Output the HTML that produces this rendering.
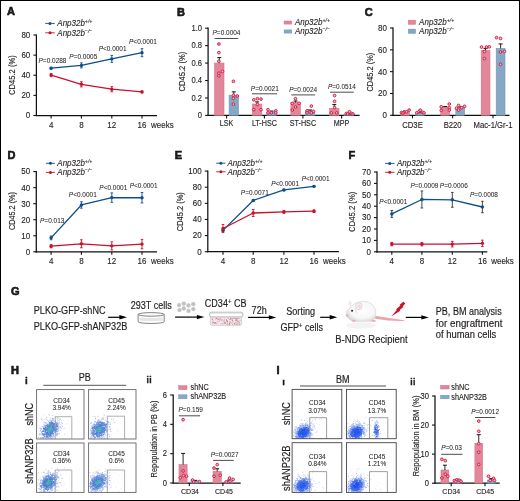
<!DOCTYPE html>
<html><head><meta charset="utf-8"><style>
html,body{margin:0;padding:0;background:#fff;width:520px;height:501px;overflow:hidden}
svg{display:block;will-change:transform}
text{font-family:"Liberation Sans", sans-serif;fill:#231f20;stroke:#231f20;stroke-width:0.13px}
</style></head><body>
<svg width="520" height="501" viewBox="0 0 520 501">
<rect x="0.5" y="0.5" width="519" height="500" fill="#fff" stroke="#000" stroke-width="1"/>
<text x="7.00" y="15.00" font-size="11" font-weight="bold" style="stroke:#000;stroke-width:0.55px" fill="#000">A</text>
<line x1="45.20" y1="23.40" x2="54.80" y2="23.40" stroke="#0d4f8b" stroke-width="0.9" />
<circle cx="50.00" cy="23.40" r="1.5" fill="#0d4f8b"/>
<text transform="translate(57.30,26.30) scale(0.862,1)" font-size="9.28" font-style="italic" style="stroke-width:0.12px">Anp32b<tspan font-size="6.03" dy="-3.2">+/+</tspan></text>
<line x1="45.20" y1="32.80" x2="54.80" y2="32.80" stroke="#c8102e" stroke-width="0.9" />
<circle cx="50.00" cy="32.80" r="1.5" fill="#c8102e"/>
<text transform="translate(57.30,35.70) scale(0.862,1)" font-size="9.28" font-style="italic" style="stroke-width:0.12px">Anp32b<tspan font-size="6.03" dy="-3.2">&#8722;/&#8722;</tspan></text>
<line x1="36.40" y1="34.50" x2="36.40" y2="116.10" stroke="#111" stroke-width="1.25" />
<line x1="33.40" y1="115.50" x2="36.40" y2="115.50" stroke="#111" stroke-width="1.1" />
<text transform="translate(30.30,118.38) scale(0.862,1)" font-size="9.28" text-anchor="end">0</text>
<line x1="33.40" y1="95.38" x2="36.40" y2="95.38" stroke="#111" stroke-width="1.1" />
<text transform="translate(30.30,98.25) scale(0.862,1)" font-size="9.28" text-anchor="end">20</text>
<line x1="33.40" y1="75.25" x2="36.40" y2="75.25" stroke="#111" stroke-width="1.1" />
<text transform="translate(30.30,78.13) scale(0.862,1)" font-size="9.28" text-anchor="end">40</text>
<line x1="33.40" y1="55.12" x2="36.40" y2="55.12" stroke="#111" stroke-width="1.1" />
<text transform="translate(30.30,58.00) scale(0.862,1)" font-size="9.28" text-anchor="end">60</text>
<line x1="33.40" y1="35.00" x2="36.40" y2="35.00" stroke="#111" stroke-width="1.1" />
<text transform="translate(30.30,37.88) scale(0.862,1)" font-size="9.28" text-anchor="end">80</text>
<line x1="35.80" y1="115.50" x2="157.00" y2="115.50" stroke="#111" stroke-width="1.25" />
<line x1="51.10" y1="115.50" x2="51.10" y2="118.50" stroke="#111" stroke-width="1.1" />
<text transform="translate(51.10,127.60) scale(0.862,1)" font-size="9.28" text-anchor="middle">4</text>
<line x1="81.40" y1="115.50" x2="81.40" y2="118.50" stroke="#111" stroke-width="1.1" />
<text transform="translate(81.40,127.60) scale(0.862,1)" font-size="9.28" text-anchor="middle">8</text>
<line x1="111.80" y1="115.50" x2="111.80" y2="118.50" stroke="#111" stroke-width="1.1" />
<text transform="translate(111.80,127.60) scale(0.862,1)" font-size="9.28" text-anchor="middle">12</text>
<line x1="142.00" y1="115.50" x2="142.00" y2="118.50" stroke="#111" stroke-width="1.1" />
<text transform="translate(142.00,127.60) scale(0.862,1)" font-size="9.28" text-anchor="middle">16</text>
<text transform="translate(151.00,127.60) scale(0.862,1)" font-size="9.28">weeks</text>
<text transform="translate(15.00,75.10) rotate(-90) scale(0.862,1)" font-size="8.82" text-anchor="middle">CD45.2 (%)</text>
<polyline points="51.10,68.20 81.40,65.40 111.80,58.90 142.00,52.70" fill="none" stroke="#0d4f8b" stroke-width="1.3" stroke-linejoin="round"/>
<line x1="51.10" y1="67.30" x2="51.10" y2="69.10" stroke="#0d4f8b" stroke-width="0.9" />
<line x1="49.80" y1="67.30" x2="52.40" y2="67.30" stroke="#0d4f8b" stroke-width="0.9" />
<line x1="49.80" y1="69.10" x2="52.40" y2="69.10" stroke="#0d4f8b" stroke-width="0.9" />
<circle cx="51.10" cy="68.20" r="1.7" fill="#0d4f8b"/>
<line x1="81.40" y1="62.90" x2="81.40" y2="67.90" stroke="#0d4f8b" stroke-width="0.9" />
<line x1="80.10" y1="62.90" x2="82.70" y2="62.90" stroke="#0d4f8b" stroke-width="0.9" />
<line x1="80.10" y1="67.90" x2="82.70" y2="67.90" stroke="#0d4f8b" stroke-width="0.9" />
<circle cx="81.40" cy="65.40" r="1.7" fill="#0d4f8b"/>
<line x1="111.80" y1="55.40" x2="111.80" y2="62.40" stroke="#0d4f8b" stroke-width="0.9" />
<line x1="110.50" y1="55.40" x2="113.10" y2="55.40" stroke="#0d4f8b" stroke-width="0.9" />
<line x1="110.50" y1="62.40" x2="113.10" y2="62.40" stroke="#0d4f8b" stroke-width="0.9" />
<circle cx="111.80" cy="58.90" r="1.7" fill="#0d4f8b"/>
<line x1="142.00" y1="48.70" x2="142.00" y2="56.70" stroke="#0d4f8b" stroke-width="0.9" />
<line x1="140.70" y1="48.70" x2="143.30" y2="48.70" stroke="#0d4f8b" stroke-width="0.9" />
<line x1="140.70" y1="56.70" x2="143.30" y2="56.70" stroke="#0d4f8b" stroke-width="0.9" />
<circle cx="142.00" cy="52.70" r="1.7" fill="#0d4f8b"/>
<polyline points="51.10,75.10 81.40,84.30 111.80,89.20 142.00,91.90" fill="none" stroke="#c8102e" stroke-width="1.3" stroke-linejoin="round"/>
<line x1="51.10" y1="73.50" x2="51.10" y2="76.70" stroke="#c8102e" stroke-width="0.9" />
<line x1="49.80" y1="73.50" x2="52.40" y2="73.50" stroke="#c8102e" stroke-width="0.9" />
<line x1="49.80" y1="76.70" x2="52.40" y2="76.70" stroke="#c8102e" stroke-width="0.9" />
<circle cx="51.10" cy="75.10" r="1.7" fill="#c8102e"/>
<line x1="81.40" y1="81.70" x2="81.40" y2="86.90" stroke="#c8102e" stroke-width="0.9" />
<line x1="80.10" y1="81.70" x2="82.70" y2="81.70" stroke="#c8102e" stroke-width="0.9" />
<line x1="80.10" y1="86.90" x2="82.70" y2="86.90" stroke="#c8102e" stroke-width="0.9" />
<circle cx="81.40" cy="84.30" r="1.7" fill="#c8102e"/>
<line x1="111.80" y1="86.60" x2="111.80" y2="91.80" stroke="#c8102e" stroke-width="0.9" />
<line x1="110.50" y1="86.60" x2="113.10" y2="86.60" stroke="#c8102e" stroke-width="0.9" />
<line x1="110.50" y1="91.80" x2="113.10" y2="91.80" stroke="#c8102e" stroke-width="0.9" />
<circle cx="111.80" cy="89.20" r="1.7" fill="#c8102e"/>
<line x1="142.00" y1="90.90" x2="142.00" y2="92.90" stroke="#c8102e" stroke-width="0.9" />
<line x1="140.70" y1="90.90" x2="143.30" y2="90.90" stroke="#c8102e" stroke-width="0.9" />
<line x1="140.70" y1="92.90" x2="143.30" y2="92.90" stroke="#c8102e" stroke-width="0.9" />
<circle cx="142.00" cy="91.90" r="1.7" fill="#c8102e"/>
<text transform="translate(52.50,62.60) scale(0.862,1)" font-size="7.54" text-anchor="middle" style="stroke-width:0.05px"><tspan font-style="italic">P</tspan>=0.0288</text>
<text transform="translate(83.30,58.80) scale(0.862,1)" font-size="7.54" text-anchor="middle" style="stroke-width:0.05px"><tspan font-style="italic">P</tspan>=0.0005</text>
<text transform="translate(112.60,50.70) scale(0.862,1)" font-size="7.54" text-anchor="middle" style="stroke-width:0.05px"><tspan font-style="italic">P</tspan>&lt;0.0001</text>
<text transform="translate(143.00,44.20) scale(0.862,1)" font-size="7.54" text-anchor="middle" style="stroke-width:0.05px"><tspan font-style="italic">P</tspan>&lt;0.0001</text>
<text x="177.00" y="15.80" font-size="11" font-weight="bold" style="stroke:#000;stroke-width:0.55px" fill="#000">B</text>
<rect x="284.10" y="21.00" width="7.70" height="3.10" fill="#e2879a" stroke="#d86f86" stroke-width="0.5"/>
<text transform="translate(294.90,25.45) scale(0.862,1)" font-size="9.28" font-style="italic" style="stroke-width:0.12px">Anp32b<tspan font-size="6.03" dy="-3.2">+/+</tspan></text>
<rect x="284.10" y="29.90" width="7.70" height="3.20" fill="#86a8c5" stroke="#6f94b8" stroke-width="0.5"/>
<text transform="translate(294.90,34.40) scale(0.862,1)" font-size="9.28" font-style="italic" style="stroke-width:0.12px">Anp32b<tspan font-size="6.03" dy="-3.2">&#8722;/&#8722;</tspan></text>
<line x1="208.10" y1="27.60" x2="208.10" y2="116.00" stroke="#111" stroke-width="1.25" />
<line x1="205.10" y1="115.40" x2="208.10" y2="115.40" stroke="#111" stroke-width="1.1" />
<text transform="translate(202.00,118.14) scale(0.862,1)" font-size="8.82" text-anchor="end">0</text>
<line x1="205.10" y1="97.96" x2="208.10" y2="97.96" stroke="#111" stroke-width="1.1" />
<text transform="translate(202.00,100.70) scale(0.862,1)" font-size="8.82" text-anchor="end">0.2</text>
<line x1="205.10" y1="80.52" x2="208.10" y2="80.52" stroke="#111" stroke-width="1.1" />
<text transform="translate(202.00,83.26) scale(0.862,1)" font-size="8.82" text-anchor="end">0.4</text>
<line x1="205.10" y1="63.08" x2="208.10" y2="63.08" stroke="#111" stroke-width="1.1" />
<text transform="translate(202.00,65.82) scale(0.862,1)" font-size="8.82" text-anchor="end">0.6</text>
<line x1="205.10" y1="45.64" x2="208.10" y2="45.64" stroke="#111" stroke-width="1.1" />
<text transform="translate(202.00,48.38) scale(0.862,1)" font-size="8.82" text-anchor="end">0.8</text>
<line x1="205.10" y1="28.20" x2="208.10" y2="28.20" stroke="#111" stroke-width="1.1" />
<text transform="translate(202.00,30.94) scale(0.862,1)" font-size="8.82" text-anchor="end">1.0</text>
<line x1="207.50" y1="115.40" x2="359.60" y2="115.40" stroke="#111" stroke-width="1.25" />
<line x1="226.60" y1="115.40" x2="226.60" y2="118.40" stroke="#111" stroke-width="1.1" />
<line x1="264.40" y1="115.40" x2="264.40" y2="118.40" stroke="#111" stroke-width="1.1" />
<line x1="302.90" y1="115.40" x2="302.90" y2="118.40" stroke="#111" stroke-width="1.1" />
<line x1="341.60" y1="115.40" x2="341.60" y2="118.40" stroke="#111" stroke-width="1.1" />
<text transform="translate(226.60,126.20) scale(0.862,1)" font-size="8.35" text-anchor="middle">LSK</text>
<text transform="translate(264.40,126.20) scale(0.862,1)" font-size="8.35" text-anchor="middle">LT-HSC</text>
<text transform="translate(302.90,126.20) scale(0.862,1)" font-size="8.35" text-anchor="middle">ST-HSC</text>
<text transform="translate(341.60,126.20) scale(0.862,1)" font-size="8.35" text-anchor="middle">MPP</text>
<text transform="translate(185.00,71.60) rotate(-90) scale(0.862,1)" font-size="8.82" text-anchor="middle">CD45.2 (%)</text>
<rect x="214.60" y="63.08" width="9.40" height="52.32" fill="#e2879a" stroke="#d86f86" stroke-width="0.6"/>
<rect x="229.10" y="95.26" width="9.40" height="20.14" fill="#86a8c5" stroke="#6f94b8" stroke-width="0.6"/>
<line x1="219.30" y1="63.08" x2="219.30" y2="57.59" stroke="#111" stroke-width="0.9" />
<line x1="217.30" y1="57.59" x2="221.30" y2="57.59" stroke="#111" stroke-width="1.0" />
<line x1="233.80" y1="95.26" x2="233.80" y2="91.86" stroke="#111" stroke-width="0.9" />
<line x1="231.80" y1="91.86" x2="235.80" y2="91.86" stroke="#111" stroke-width="1.0" />
<rect x="252.40" y="104.06" width="9.40" height="11.34" fill="#e2879a" stroke="#d86f86" stroke-width="0.6"/>
<rect x="266.90" y="111.91" width="9.40" height="3.49" fill="#86a8c5" stroke="#6f94b8" stroke-width="0.6"/>
<line x1="257.10" y1="104.06" x2="257.10" y2="101.88" stroke="#111" stroke-width="0.9" />
<line x1="255.10" y1="101.88" x2="259.10" y2="101.88" stroke="#111" stroke-width="1.0" />
<line x1="271.60" y1="111.91" x2="271.60" y2="111.04" stroke="#111" stroke-width="0.9" />
<line x1="269.60" y1="111.04" x2="273.60" y2="111.04" stroke="#111" stroke-width="1.0" />
<rect x="290.90" y="102.58" width="9.40" height="12.82" fill="#e2879a" stroke="#d86f86" stroke-width="0.6"/>
<rect x="305.40" y="111.04" width="9.40" height="4.36" fill="#86a8c5" stroke="#6f94b8" stroke-width="0.6"/>
<line x1="295.60" y1="102.58" x2="295.60" y2="101.01" stroke="#111" stroke-width="0.9" />
<line x1="293.60" y1="101.01" x2="297.60" y2="101.01" stroke="#111" stroke-width="1.0" />
<line x1="310.10" y1="111.04" x2="310.10" y2="109.99" stroke="#111" stroke-width="0.9" />
<line x1="308.10" y1="109.99" x2="312.10" y2="109.99" stroke="#111" stroke-width="1.0" />
<rect x="329.60" y="108.42" width="9.40" height="6.98" fill="#e2879a" stroke="#d86f86" stroke-width="0.6"/>
<rect x="344.10" y="114.35" width="9.40" height="1.05" fill="#86a8c5" stroke="#6f94b8" stroke-width="0.6"/>
<line x1="334.30" y1="108.42" x2="334.30" y2="104.59" stroke="#111" stroke-width="0.9" />
<line x1="332.30" y1="104.59" x2="336.30" y2="104.59" stroke="#111" stroke-width="1.0" />
<line x1="348.80" y1="114.35" x2="348.80" y2="113.83" stroke="#111" stroke-width="0.9" />
<line x1="346.80" y1="113.83" x2="350.80" y2="113.83" stroke="#111" stroke-width="1.0" />
<circle cx="218.90" cy="44.00" r="1.35" fill="#f1b3c0" stroke="#d11a42" stroke-width="0.95"/>
<circle cx="218.90" cy="52.60" r="1.35" fill="#f1b3c0" stroke="#d11a42" stroke-width="0.95"/>
<circle cx="218.90" cy="61.20" r="1.35" fill="#f1b3c0" stroke="#d11a42" stroke-width="0.95"/>
<circle cx="222.50" cy="71.40" r="1.35" fill="#f1b3c0" stroke="#d11a42" stroke-width="0.95"/>
<circle cx="218.90" cy="73.20" r="1.35" fill="#f1b3c0" stroke="#d11a42" stroke-width="0.95"/>
<circle cx="218.90" cy="75.90" r="1.35" fill="#f1b3c0" stroke="#d11a42" stroke-width="0.95"/>
<circle cx="233.40" cy="81.30" r="1.35" fill="#f1b3c0" stroke="#d11a42" stroke-width="0.95"/>
<circle cx="233.40" cy="95.30" r="1.35" fill="#f1b3c0" stroke="#d11a42" stroke-width="0.95"/>
<circle cx="237.20" cy="96.00" r="1.35" fill="#f1b3c0" stroke="#d11a42" stroke-width="0.95"/>
<circle cx="233.40" cy="98.40" r="1.35" fill="#f1b3c0" stroke="#d11a42" stroke-width="0.95"/>
<circle cx="233.40" cy="104.10" r="1.35" fill="#f1b3c0" stroke="#d11a42" stroke-width="0.95"/>
<circle cx="253.80" cy="99.80" r="1.35" fill="#f1b3c0" stroke="#d11a42" stroke-width="0.95"/>
<circle cx="257.40" cy="98.70" r="1.35" fill="#f1b3c0" stroke="#d11a42" stroke-width="0.95"/>
<circle cx="261.00" cy="99.10" r="1.35" fill="#f1b3c0" stroke="#d11a42" stroke-width="0.95"/>
<circle cx="253.80" cy="109.70" r="1.35" fill="#f1b3c0" stroke="#d11a42" stroke-width="0.95"/>
<circle cx="261.00" cy="109.70" r="1.35" fill="#f1b3c0" stroke="#d11a42" stroke-width="0.95"/>
<circle cx="257.40" cy="104.40" r="1.35" fill="#f1b3c0" stroke="#d11a42" stroke-width="0.95"/>
<circle cx="268.00" cy="109.70" r="1.35" fill="#f1b3c0" stroke="#d11a42" stroke-width="0.95"/>
<circle cx="275.80" cy="110.80" r="1.35" fill="#f1b3c0" stroke="#d11a42" stroke-width="0.95"/>
<circle cx="271.20" cy="112.90" r="1.35" fill="#f1b3c0" stroke="#d11a42" stroke-width="0.95"/>
<circle cx="268.00" cy="112.90" r="1.35" fill="#f1b3c0" stroke="#d11a42" stroke-width="0.95"/>
<circle cx="275.80" cy="112.90" r="1.35" fill="#f1b3c0" stroke="#d11a42" stroke-width="0.95"/>
<circle cx="295.50" cy="98.70" r="1.35" fill="#f1b3c0" stroke="#d11a42" stroke-width="0.95"/>
<circle cx="292.30" cy="103.40" r="1.35" fill="#f1b3c0" stroke="#d11a42" stroke-width="0.95"/>
<circle cx="299.10" cy="103.40" r="1.35" fill="#f1b3c0" stroke="#d11a42" stroke-width="0.95"/>
<circle cx="295.50" cy="107.00" r="1.35" fill="#f1b3c0" stroke="#d11a42" stroke-width="0.95"/>
<circle cx="292.30" cy="110.00" r="1.35" fill="#f1b3c0" stroke="#d11a42" stroke-width="0.95"/>
<circle cx="311.30" cy="106.10" r="1.35" fill="#f1b3c0" stroke="#d11a42" stroke-width="0.95"/>
<circle cx="307.10" cy="110.80" r="1.35" fill="#f1b3c0" stroke="#d11a42" stroke-width="0.95"/>
<circle cx="313.50" cy="111.40" r="1.35" fill="#f1b3c0" stroke="#d11a42" stroke-width="0.95"/>
<circle cx="307.10" cy="112.90" r="1.35" fill="#f1b3c0" stroke="#d11a42" stroke-width="0.95"/>
<circle cx="311.30" cy="112.90" r="1.35" fill="#f1b3c0" stroke="#d11a42" stroke-width="0.95"/>
<circle cx="334.60" cy="95.50" r="1.35" fill="#f1b3c0" stroke="#d11a42" stroke-width="0.95"/>
<circle cx="334.60" cy="101.30" r="1.35" fill="#f1b3c0" stroke="#d11a42" stroke-width="0.95"/>
<circle cx="334.60" cy="107.60" r="1.35" fill="#f1b3c0" stroke="#d11a42" stroke-width="0.95"/>
<circle cx="331.40" cy="112.90" r="1.35" fill="#f1b3c0" stroke="#d11a42" stroke-width="0.95"/>
<circle cx="336.70" cy="112.90" r="1.35" fill="#f1b3c0" stroke="#d11a42" stroke-width="0.95"/>
<circle cx="346.30" cy="113.50" r="1.35" fill="#f1b3c0" stroke="#d11a42" stroke-width="0.95"/>
<circle cx="349.40" cy="111.80" r="1.35" fill="#f1b3c0" stroke="#d11a42" stroke-width="0.95"/>
<circle cx="351.50" cy="113.50" r="1.35" fill="#f1b3c0" stroke="#d11a42" stroke-width="0.95"/>
<circle cx="347.70" cy="114.00" r="1.35" fill="#f1b3c0" stroke="#d11a42" stroke-width="0.95"/>
<circle cx="353.00" cy="114.00" r="1.35" fill="#f1b3c0" stroke="#d11a42" stroke-width="0.95"/>
<line x1="214.60" y1="38.50" x2="238.30" y2="38.50" stroke="#231f20" stroke-width="0.8" />
<text transform="translate(226.50,35.30) scale(0.862,1)" font-size="7.54" text-anchor="middle" style="stroke-width:0.05px"><tspan font-style="italic">P</tspan>=0.0004</text>
<line x1="252.00" y1="93.80" x2="277.00" y2="93.80" stroke="#231f20" stroke-width="0.8" />
<text transform="translate(264.80,90.90) scale(0.862,1)" font-size="7.54" text-anchor="middle" style="stroke-width:0.05px"><tspan font-style="italic">P</tspan>=0.0021</text>
<line x1="291.30" y1="94.90" x2="315.20" y2="94.90" stroke="#231f20" stroke-width="0.8" />
<text transform="translate(303.20,91.90) scale(0.862,1)" font-size="7.54" text-anchor="middle" style="stroke-width:0.05px"><tspan font-style="italic">P</tspan>=0.0024</text>
<line x1="330.00" y1="92.20" x2="353.70" y2="92.20" stroke="#231f20" stroke-width="0.8" />
<text transform="translate(341.90,88.70) scale(0.862,1)" font-size="7.54" text-anchor="middle" style="stroke-width:0.05px"><tspan font-style="italic">P</tspan>=0.0514</text>
<text x="364.80" y="16.20" font-size="11" font-weight="bold" style="stroke:#000;stroke-width:0.55px" fill="#000">C</text>
<rect x="408.30" y="20.20" width="7.30" height="4.10" fill="#e2879a" stroke="#d86f86" stroke-width="0.5"/>
<text transform="translate(419.10,25.15) scale(0.862,1)" font-size="9.28" font-style="italic" style="stroke-width:0.12px">Anp32b<tspan font-size="6.03" dy="-3.2">+/+</tspan></text>
<rect x="408.30" y="29.10" width="7.30" height="4.30" fill="#86a8c5" stroke="#6f94b8" stroke-width="0.5"/>
<text transform="translate(419.10,34.15) scale(0.862,1)" font-size="9.28" font-style="italic" style="stroke-width:0.12px">Anp32b<tspan font-size="6.03" dy="-3.2">&#8722;/&#8722;</tspan></text>
<line x1="393.00" y1="27.50" x2="393.00" y2="115.90" stroke="#111" stroke-width="1.25" />
<line x1="390.00" y1="115.30" x2="393.00" y2="115.30" stroke="#111" stroke-width="1.1" />
<text transform="translate(386.90,118.18) scale(0.862,1)" font-size="9.28" text-anchor="end">0</text>
<line x1="390.00" y1="93.47" x2="393.00" y2="93.47" stroke="#111" stroke-width="1.1" />
<text transform="translate(386.90,96.35) scale(0.862,1)" font-size="9.28" text-anchor="end">20</text>
<line x1="390.00" y1="71.65" x2="393.00" y2="71.65" stroke="#111" stroke-width="1.1" />
<text transform="translate(386.90,74.53) scale(0.862,1)" font-size="9.28" text-anchor="end">40</text>
<line x1="390.00" y1="49.82" x2="393.00" y2="49.82" stroke="#111" stroke-width="1.1" />
<text transform="translate(386.90,52.70) scale(0.862,1)" font-size="9.28" text-anchor="end">60</text>
<line x1="390.00" y1="28.00" x2="393.00" y2="28.00" stroke="#111" stroke-width="1.1" />
<text transform="translate(386.90,30.88) scale(0.862,1)" font-size="9.28" text-anchor="end">80</text>
<line x1="392.40" y1="115.30" x2="509.50" y2="115.30" stroke="#111" stroke-width="1.25" />
<line x1="412.50" y1="115.30" x2="412.50" y2="118.30" stroke="#111" stroke-width="1.1" />
<line x1="452.60" y1="115.30" x2="452.60" y2="118.30" stroke="#111" stroke-width="1.1" />
<line x1="493.00" y1="115.30" x2="493.00" y2="118.30" stroke="#111" stroke-width="1.1" />
<text transform="translate(412.50,127.60) scale(0.862,1)" font-size="8.93" text-anchor="middle">CD3E</text>
<text transform="translate(452.60,127.60) scale(0.862,1)" font-size="8.93" text-anchor="middle">B220</text>
<text transform="translate(493.00,127.60) scale(0.862,1)" font-size="8.93" text-anchor="middle">Mac-1/Gr-1</text>
<text transform="translate(373.40,72.10) rotate(-90) scale(0.862,1)" font-size="8.64" text-anchor="middle">CD45.2 (%)</text>
<rect x="400.70" y="112.03" width="8.80" height="3.27" fill="#e2879a" stroke="#d86f86" stroke-width="0.6"/>
<rect x="415.70" y="112.79" width="8.80" height="2.51" fill="#86a8c5" stroke="#6f94b8" stroke-width="0.6"/>
<line x1="405.10" y1="112.03" x2="405.10" y2="111.37" stroke="#111" stroke-width="0.9" />
<line x1="403.10" y1="111.37" x2="407.10" y2="111.37" stroke="#111" stroke-width="1.0" />
<line x1="420.10" y1="112.79" x2="420.10" y2="112.24" stroke="#111" stroke-width="0.9" />
<line x1="418.10" y1="112.24" x2="422.10" y2="112.24" stroke="#111" stroke-width="1.0" />
<rect x="440.80" y="107.12" width="8.80" height="8.18" fill="#e2879a" stroke="#d86f86" stroke-width="0.6"/>
<rect x="455.80" y="107.66" width="8.80" height="7.64" fill="#86a8c5" stroke="#6f94b8" stroke-width="0.6"/>
<line x1="445.20" y1="107.12" x2="445.20" y2="106.57" stroke="#111" stroke-width="0.9" />
<line x1="443.20" y1="106.57" x2="447.20" y2="106.57" stroke="#111" stroke-width="1.0" />
<line x1="460.20" y1="107.66" x2="460.20" y2="106.79" stroke="#111" stroke-width="0.9" />
<line x1="458.20" y1="106.79" x2="462.20" y2="106.79" stroke="#111" stroke-width="1.0" />
<rect x="481.20" y="50.48" width="8.80" height="64.82" fill="#e2879a" stroke="#d86f86" stroke-width="0.6"/>
<rect x="496.20" y="48.41" width="8.80" height="66.89" fill="#86a8c5" stroke="#6f94b8" stroke-width="0.6"/>
<line x1="485.60" y1="50.48" x2="485.60" y2="48.41" stroke="#111" stroke-width="0.9" />
<line x1="483.60" y1="48.41" x2="487.60" y2="48.41" stroke="#111" stroke-width="1.0" />
<line x1="500.60" y1="48.41" x2="500.60" y2="43.93" stroke="#111" stroke-width="0.9" />
<line x1="498.60" y1="43.93" x2="502.60" y2="43.93" stroke="#111" stroke-width="1.0" />
<circle cx="401.50" cy="112.60" r="1.35" fill="#f1b3c0" stroke="#d11a42" stroke-width="0.95"/>
<circle cx="404.00" cy="112.00" r="1.35" fill="#f1b3c0" stroke="#d11a42" stroke-width="0.95"/>
<circle cx="406.50" cy="111.80" r="1.35" fill="#f1b3c0" stroke="#d11a42" stroke-width="0.95"/>
<circle cx="409.10" cy="110.10" r="1.35" fill="#f1b3c0" stroke="#d11a42" stroke-width="0.95"/>
<circle cx="403.00" cy="113.00" r="1.35" fill="#f1b3c0" stroke="#d11a42" stroke-width="0.95"/>
<circle cx="416.80" cy="112.80" r="1.35" fill="#f1b3c0" stroke="#d11a42" stroke-width="0.95"/>
<circle cx="419.00" cy="111.60" r="1.35" fill="#f1b3c0" stroke="#d11a42" stroke-width="0.95"/>
<circle cx="420.20" cy="110.20" r="1.35" fill="#f1b3c0" stroke="#d11a42" stroke-width="0.95"/>
<circle cx="422.50" cy="112.30" r="1.35" fill="#f1b3c0" stroke="#d11a42" stroke-width="0.95"/>
<circle cx="424.00" cy="112.90" r="1.35" fill="#f1b3c0" stroke="#d11a42" stroke-width="0.95"/>
<circle cx="441.20" cy="106.80" r="1.35" fill="#f1b3c0" stroke="#d11a42" stroke-width="0.95"/>
<circle cx="449.30" cy="104.00" r="1.35" fill="#f1b3c0" stroke="#d11a42" stroke-width="0.95"/>
<circle cx="449.30" cy="107.70" r="1.35" fill="#f1b3c0" stroke="#d11a42" stroke-width="0.95"/>
<circle cx="441.20" cy="110.50" r="1.35" fill="#f1b3c0" stroke="#d11a42" stroke-width="0.95"/>
<circle cx="449.30" cy="110.10" r="1.35" fill="#f1b3c0" stroke="#d11a42" stroke-width="0.95"/>
<circle cx="458.60" cy="105.40" r="1.35" fill="#f1b3c0" stroke="#d11a42" stroke-width="0.95"/>
<circle cx="456.50" cy="108.20" r="1.35" fill="#f1b3c0" stroke="#d11a42" stroke-width="0.95"/>
<circle cx="464.60" cy="106.30" r="1.35" fill="#f1b3c0" stroke="#d11a42" stroke-width="0.95"/>
<circle cx="461.70" cy="107.70" r="1.35" fill="#f1b3c0" stroke="#d11a42" stroke-width="0.95"/>
<circle cx="458.60" cy="110.10" r="1.35" fill="#f1b3c0" stroke="#d11a42" stroke-width="0.95"/>
<circle cx="481.50" cy="47.10" r="1.35" fill="#f1b3c0" stroke="#d11a42" stroke-width="0.95"/>
<circle cx="489.30" cy="46.80" r="1.35" fill="#f1b3c0" stroke="#d11a42" stroke-width="0.95"/>
<circle cx="486.50" cy="47.00" r="1.35" fill="#f1b3c0" stroke="#d11a42" stroke-width="0.95"/>
<circle cx="484.40" cy="51.60" r="1.35" fill="#f1b3c0" stroke="#d11a42" stroke-width="0.95"/>
<circle cx="484.40" cy="58.60" r="1.35" fill="#f1b3c0" stroke="#d11a42" stroke-width="0.95"/>
<circle cx="496.50" cy="37.60" r="1.35" fill="#f1b3c0" stroke="#d11a42" stroke-width="0.95"/>
<circle cx="500.50" cy="38.40" r="1.35" fill="#f1b3c0" stroke="#d11a42" stroke-width="0.95"/>
<circle cx="500.50" cy="52.00" r="1.35" fill="#f1b3c0" stroke="#d11a42" stroke-width="0.95"/>
<circle cx="504.40" cy="51.40" r="1.35" fill="#f1b3c0" stroke="#d11a42" stroke-width="0.95"/>
<circle cx="500.50" cy="64.30" r="1.35" fill="#f1b3c0" stroke="#d11a42" stroke-width="0.95"/>
<text x="7.60" y="158.80" font-size="11" font-weight="bold" style="stroke:#000;stroke-width:0.55px" fill="#000">D</text>
<line x1="45.90" y1="163.30" x2="55.00" y2="163.30" stroke="#0d4f8b" stroke-width="0.9" />
<circle cx="50.45" cy="163.30" r="1.5" fill="#0d4f8b"/>
<text transform="translate(57.30,166.20) scale(0.862,1)" font-size="9.28" font-style="italic" style="stroke-width:0.12px">Anp32b<tspan font-size="6.03" dy="-3.2">+/+</tspan></text>
<line x1="45.90" y1="172.40" x2="55.00" y2="172.40" stroke="#c8102e" stroke-width="0.9" />
<circle cx="50.45" cy="172.40" r="1.5" fill="#c8102e"/>
<text transform="translate(57.30,175.30) scale(0.862,1)" font-size="9.28" font-style="italic" style="stroke-width:0.12px">Anp32b<tspan font-size="6.03" dy="-3.2">&#8722;/&#8722;</tspan></text>
<line x1="36.30" y1="171.10" x2="36.30" y2="252.40" stroke="#111" stroke-width="1.25" />
<line x1="33.30" y1="251.80" x2="36.30" y2="251.80" stroke="#111" stroke-width="1.1" />
<text transform="translate(30.20,254.68) scale(0.862,1)" font-size="9.28" text-anchor="end">0</text>
<line x1="33.30" y1="235.76" x2="36.30" y2="235.76" stroke="#111" stroke-width="1.1" />
<text transform="translate(30.20,238.64) scale(0.862,1)" font-size="9.28" text-anchor="end">10</text>
<line x1="33.30" y1="219.72" x2="36.30" y2="219.72" stroke="#111" stroke-width="1.1" />
<text transform="translate(30.20,222.60) scale(0.862,1)" font-size="9.28" text-anchor="end">20</text>
<line x1="33.30" y1="203.68" x2="36.30" y2="203.68" stroke="#111" stroke-width="1.1" />
<text transform="translate(30.20,206.56) scale(0.862,1)" font-size="9.28" text-anchor="end">30</text>
<line x1="33.30" y1="187.64" x2="36.30" y2="187.64" stroke="#111" stroke-width="1.1" />
<text transform="translate(30.20,190.52) scale(0.862,1)" font-size="9.28" text-anchor="end">40</text>
<line x1="33.30" y1="171.60" x2="36.30" y2="171.60" stroke="#111" stroke-width="1.1" />
<text transform="translate(30.20,174.48) scale(0.862,1)" font-size="9.28" text-anchor="end">50</text>
<line x1="35.70" y1="251.80" x2="157.00" y2="251.80" stroke="#111" stroke-width="1.25" />
<line x1="51.10" y1="251.80" x2="51.10" y2="254.80" stroke="#111" stroke-width="1.1" />
<text transform="translate(51.10,264.40) scale(0.862,1)" font-size="9.28" text-anchor="middle">4</text>
<line x1="81.40" y1="251.80" x2="81.40" y2="254.80" stroke="#111" stroke-width="1.1" />
<text transform="translate(81.40,264.40) scale(0.862,1)" font-size="9.28" text-anchor="middle">8</text>
<line x1="111.80" y1="251.80" x2="111.80" y2="254.80" stroke="#111" stroke-width="1.1" />
<text transform="translate(111.80,264.40) scale(0.862,1)" font-size="9.28" text-anchor="middle">12</text>
<line x1="142.00" y1="251.80" x2="142.00" y2="254.80" stroke="#111" stroke-width="1.1" />
<text transform="translate(142.00,264.40) scale(0.862,1)" font-size="9.28" text-anchor="middle">16</text>
<text transform="translate(151.00,264.40) scale(0.862,1)" font-size="9.28">weeks</text>
<text transform="translate(15.00,211.00) rotate(-90) scale(0.862,1)" font-size="8.41" text-anchor="middle">CD45.2 (%)</text>
<polyline points="51.10,237.85 81.40,204.96 111.80,197.58 142.00,197.75" fill="none" stroke="#0d4f8b" stroke-width="1.3" stroke-linejoin="round"/>
<line x1="51.10" y1="235.95" x2="51.10" y2="239.75" stroke="#0d4f8b" stroke-width="0.9" />
<line x1="49.80" y1="235.95" x2="52.40" y2="235.95" stroke="#0d4f8b" stroke-width="0.9" />
<line x1="49.80" y1="239.75" x2="52.40" y2="239.75" stroke="#0d4f8b" stroke-width="0.9" />
<circle cx="51.10" cy="237.85" r="1.7" fill="#0d4f8b"/>
<line x1="81.40" y1="201.76" x2="81.40" y2="208.16" stroke="#0d4f8b" stroke-width="0.9" />
<line x1="80.10" y1="201.76" x2="82.70" y2="201.76" stroke="#0d4f8b" stroke-width="0.9" />
<line x1="80.10" y1="208.16" x2="82.70" y2="208.16" stroke="#0d4f8b" stroke-width="0.9" />
<circle cx="81.40" cy="204.96" r="1.7" fill="#0d4f8b"/>
<line x1="111.80" y1="192.88" x2="111.80" y2="202.28" stroke="#0d4f8b" stroke-width="0.9" />
<line x1="110.50" y1="192.88" x2="113.10" y2="192.88" stroke="#0d4f8b" stroke-width="0.9" />
<line x1="110.50" y1="202.28" x2="113.10" y2="202.28" stroke="#0d4f8b" stroke-width="0.9" />
<circle cx="111.80" cy="197.58" r="1.7" fill="#0d4f8b"/>
<line x1="142.00" y1="192.55" x2="142.00" y2="202.95" stroke="#0d4f8b" stroke-width="0.9" />
<line x1="140.70" y1="192.55" x2="143.30" y2="192.55" stroke="#0d4f8b" stroke-width="0.9" />
<line x1="140.70" y1="202.95" x2="143.30" y2="202.95" stroke="#0d4f8b" stroke-width="0.9" />
<circle cx="142.00" cy="197.75" r="1.7" fill="#0d4f8b"/>
<polyline points="51.10,246.19 81.40,243.78 111.80,245.87 142.00,244.10" fill="none" stroke="#c8102e" stroke-width="1.3" stroke-linejoin="round"/>
<line x1="51.10" y1="244.59" x2="51.10" y2="247.79" stroke="#c8102e" stroke-width="0.9" />
<line x1="49.80" y1="244.59" x2="52.40" y2="244.59" stroke="#c8102e" stroke-width="0.9" />
<line x1="49.80" y1="247.79" x2="52.40" y2="247.79" stroke="#c8102e" stroke-width="0.9" />
<circle cx="51.10" cy="246.19" r="1.7" fill="#c8102e"/>
<line x1="81.40" y1="239.78" x2="81.40" y2="247.78" stroke="#c8102e" stroke-width="0.9" />
<line x1="80.10" y1="239.78" x2="82.70" y2="239.78" stroke="#c8102e" stroke-width="0.9" />
<line x1="80.10" y1="247.78" x2="82.70" y2="247.78" stroke="#c8102e" stroke-width="0.9" />
<circle cx="81.40" cy="243.78" r="1.7" fill="#c8102e"/>
<line x1="111.80" y1="241.87" x2="111.80" y2="249.87" stroke="#c8102e" stroke-width="0.9" />
<line x1="110.50" y1="241.87" x2="113.10" y2="241.87" stroke="#c8102e" stroke-width="0.9" />
<line x1="110.50" y1="249.87" x2="113.10" y2="249.87" stroke="#c8102e" stroke-width="0.9" />
<circle cx="111.80" cy="245.87" r="1.7" fill="#c8102e"/>
<line x1="142.00" y1="239.40" x2="142.00" y2="248.80" stroke="#c8102e" stroke-width="0.9" />
<line x1="140.70" y1="239.40" x2="143.30" y2="239.40" stroke="#c8102e" stroke-width="0.9" />
<line x1="140.70" y1="248.80" x2="143.30" y2="248.80" stroke="#c8102e" stroke-width="0.9" />
<circle cx="142.00" cy="244.10" r="1.7" fill="#c8102e"/>
<text transform="translate(52.20,222.60) scale(0.862,1)" font-size="7.54" text-anchor="middle" style="stroke-width:0.05px"><tspan font-style="italic">P</tspan>=0.013</text>
<text transform="translate(82.80,197.10) scale(0.862,1)" font-size="7.54" text-anchor="middle" style="stroke-width:0.05px"><tspan font-style="italic">P</tspan>&lt;0.0001</text>
<text transform="translate(113.30,190.00) scale(0.862,1)" font-size="7.54" text-anchor="middle" style="stroke-width:0.05px"><tspan font-style="italic">P</tspan>&lt;0.0001</text>
<text transform="translate(143.60,188.30) scale(0.862,1)" font-size="7.54" text-anchor="middle" style="stroke-width:0.05px"><tspan font-style="italic">P</tspan>&lt;0.0001</text>
<text x="174.80" y="158.70" font-size="11" font-weight="bold" style="stroke:#000;stroke-width:0.55px" fill="#000">E</text>
<line x1="216.20" y1="163.20" x2="225.50" y2="163.20" stroke="#0d4f8b" stroke-width="0.9" />
<circle cx="220.85" cy="163.20" r="1.5" fill="#0d4f8b"/>
<text transform="translate(227.40,166.10) scale(0.862,1)" font-size="9.28" font-style="italic" style="stroke-width:0.12px">Anp32b<tspan font-size="6.03" dy="-3.2">+/+</tspan></text>
<line x1="216.20" y1="171.80" x2="225.50" y2="171.80" stroke="#c8102e" stroke-width="0.9" />
<circle cx="220.85" cy="171.80" r="1.5" fill="#c8102e"/>
<text transform="translate(227.40,174.70) scale(0.862,1)" font-size="9.28" font-style="italic" style="stroke-width:0.12px">Anp32b<tspan font-size="6.03" dy="-3.2">&#8722;/&#8722;</tspan></text>
<line x1="207.80" y1="170.60" x2="207.80" y2="252.30" stroke="#111" stroke-width="1.25" />
<line x1="204.80" y1="251.70" x2="207.80" y2="251.70" stroke="#111" stroke-width="1.1" />
<text transform="translate(201.70,254.58) scale(0.862,1)" font-size="9.28" text-anchor="end">0</text>
<line x1="204.80" y1="235.58" x2="207.80" y2="235.58" stroke="#111" stroke-width="1.1" />
<text transform="translate(201.70,238.46) scale(0.862,1)" font-size="9.28" text-anchor="end">20</text>
<line x1="204.80" y1="219.46" x2="207.80" y2="219.46" stroke="#111" stroke-width="1.1" />
<text transform="translate(201.70,222.34) scale(0.862,1)" font-size="9.28" text-anchor="end">40</text>
<line x1="204.80" y1="203.34" x2="207.80" y2="203.34" stroke="#111" stroke-width="1.1" />
<text transform="translate(201.70,206.22) scale(0.862,1)" font-size="9.28" text-anchor="end">60</text>
<line x1="204.80" y1="187.22" x2="207.80" y2="187.22" stroke="#111" stroke-width="1.1" />
<text transform="translate(201.70,190.10) scale(0.862,1)" font-size="9.28" text-anchor="end">80</text>
<line x1="204.80" y1="171.10" x2="207.80" y2="171.10" stroke="#111" stroke-width="1.1" />
<text transform="translate(201.70,173.98) scale(0.862,1)" font-size="9.28" text-anchor="end">100</text>
<line x1="207.20" y1="251.70" x2="338.90" y2="251.70" stroke="#111" stroke-width="1.25" />
<line x1="223.00" y1="251.70" x2="223.00" y2="254.70" stroke="#111" stroke-width="1.1" />
<text transform="translate(223.00,264.00) scale(0.862,1)" font-size="9.28" text-anchor="middle">4</text>
<line x1="253.20" y1="251.70" x2="253.20" y2="254.70" stroke="#111" stroke-width="1.1" />
<text transform="translate(253.20,264.00) scale(0.862,1)" font-size="9.28" text-anchor="middle">8</text>
<line x1="283.90" y1="251.70" x2="283.90" y2="254.70" stroke="#111" stroke-width="1.1" />
<text transform="translate(283.90,264.00) scale(0.862,1)" font-size="9.28" text-anchor="middle">12</text>
<line x1="314.00" y1="251.70" x2="314.00" y2="254.70" stroke="#111" stroke-width="1.1" />
<text transform="translate(314.00,264.00) scale(0.862,1)" font-size="9.28" text-anchor="middle">16</text>
<text transform="translate(323.00,264.00) scale(0.862,1)" font-size="9.28">weeks</text>
<text transform="translate(182.80,211.70) rotate(-90) scale(0.862,1)" font-size="8.70" text-anchor="middle">CD45.2 (%)</text>
<polyline points="223.00,230.34 253.20,200.44 283.90,189.96 314.00,186.33" fill="none" stroke="#0d4f8b" stroke-width="1.3" stroke-linejoin="round"/>
<line x1="223.00" y1="229.14" x2="223.00" y2="231.54" stroke="#0d4f8b" stroke-width="0.9" />
<line x1="221.70" y1="229.14" x2="224.30" y2="229.14" stroke="#0d4f8b" stroke-width="0.9" />
<line x1="221.70" y1="231.54" x2="224.30" y2="231.54" stroke="#0d4f8b" stroke-width="0.9" />
<circle cx="223.00" cy="230.34" r="1.7" fill="#0d4f8b"/>
<line x1="253.20" y1="199.64" x2="253.20" y2="201.24" stroke="#0d4f8b" stroke-width="0.9" />
<line x1="251.90" y1="199.64" x2="254.50" y2="199.64" stroke="#0d4f8b" stroke-width="0.9" />
<line x1="251.90" y1="201.24" x2="254.50" y2="201.24" stroke="#0d4f8b" stroke-width="0.9" />
<circle cx="253.20" cy="200.44" r="1.7" fill="#0d4f8b"/>
<line x1="283.90" y1="189.16" x2="283.90" y2="190.76" stroke="#0d4f8b" stroke-width="0.9" />
<line x1="282.60" y1="189.16" x2="285.20" y2="189.16" stroke="#0d4f8b" stroke-width="0.9" />
<line x1="282.60" y1="190.76" x2="285.20" y2="190.76" stroke="#0d4f8b" stroke-width="0.9" />
<circle cx="283.90" cy="189.96" r="1.7" fill="#0d4f8b"/>
<line x1="314.00" y1="185.53" x2="314.00" y2="187.13" stroke="#0d4f8b" stroke-width="0.9" />
<line x1="312.70" y1="185.53" x2="315.30" y2="185.53" stroke="#0d4f8b" stroke-width="0.9" />
<line x1="312.70" y1="187.13" x2="315.30" y2="187.13" stroke="#0d4f8b" stroke-width="0.9" />
<circle cx="314.00" cy="186.33" r="1.7" fill="#0d4f8b"/>
<polyline points="223.00,228.49 253.20,213.01 283.90,211.96 314.00,211.16" fill="none" stroke="#c8102e" stroke-width="1.3" stroke-linejoin="round"/>
<line x1="223.00" y1="224.49" x2="223.00" y2="232.49" stroke="#c8102e" stroke-width="0.9" />
<line x1="221.70" y1="224.49" x2="224.30" y2="224.49" stroke="#c8102e" stroke-width="0.9" />
<line x1="221.70" y1="232.49" x2="224.30" y2="232.49" stroke="#c8102e" stroke-width="0.9" />
<circle cx="223.00" cy="228.49" r="1.7" fill="#c8102e"/>
<line x1="253.20" y1="209.51" x2="253.20" y2="216.51" stroke="#c8102e" stroke-width="0.9" />
<line x1="251.90" y1="209.51" x2="254.50" y2="209.51" stroke="#c8102e" stroke-width="0.9" />
<line x1="251.90" y1="216.51" x2="254.50" y2="216.51" stroke="#c8102e" stroke-width="0.9" />
<circle cx="253.20" cy="213.01" r="1.7" fill="#c8102e"/>
<line x1="283.90" y1="210.56" x2="283.90" y2="213.36" stroke="#c8102e" stroke-width="0.9" />
<line x1="282.60" y1="210.56" x2="285.20" y2="210.56" stroke="#c8102e" stroke-width="0.9" />
<line x1="282.60" y1="213.36" x2="285.20" y2="213.36" stroke="#c8102e" stroke-width="0.9" />
<circle cx="283.90" cy="211.96" r="1.7" fill="#c8102e"/>
<line x1="314.00" y1="209.86" x2="314.00" y2="212.46" stroke="#c8102e" stroke-width="0.9" />
<line x1="312.70" y1="209.86" x2="315.30" y2="209.86" stroke="#c8102e" stroke-width="0.9" />
<line x1="312.70" y1="212.46" x2="315.30" y2="212.46" stroke="#c8102e" stroke-width="0.9" />
<circle cx="314.00" cy="211.16" r="1.7" fill="#c8102e"/>
<text transform="translate(254.80,194.80) scale(0.862,1)" font-size="7.54" text-anchor="middle" style="stroke-width:0.05px"><tspan font-style="italic">P</tspan>=0.0071</text>
<text transform="translate(285.10,185.60) scale(0.862,1)" font-size="7.54" text-anchor="middle" style="stroke-width:0.05px"><tspan font-style="italic">P</tspan>&lt;0.0001</text>
<text transform="translate(315.60,181.20) scale(0.862,1)" font-size="7.54" text-anchor="middle" style="stroke-width:0.05px"><tspan font-style="italic">P</tspan>&lt;0.0001</text>
<text x="348.40" y="159.10" font-size="11" font-weight="bold" style="stroke:#000;stroke-width:0.55px" fill="#000">F</text>
<line x1="385.00" y1="163.40" x2="394.50" y2="163.40" stroke="#0d4f8b" stroke-width="0.9" />
<circle cx="389.75" cy="163.40" r="1.5" fill="#0d4f8b"/>
<text transform="translate(397.00,166.30) scale(0.862,1)" font-size="9.28" font-style="italic" style="stroke-width:0.12px">Anp32b<tspan font-size="6.03" dy="-3.2">+/+</tspan></text>
<line x1="385.00" y1="172.30" x2="394.50" y2="172.30" stroke="#c8102e" stroke-width="0.9" />
<circle cx="389.75" cy="172.30" r="1.5" fill="#c8102e"/>
<text transform="translate(397.00,175.20) scale(0.862,1)" font-size="9.28" font-style="italic" style="stroke-width:0.12px">Anp32b<tspan font-size="6.03" dy="-3.2">&#8722;/&#8722;</tspan></text>
<line x1="377.00" y1="171.50" x2="377.00" y2="252.40" stroke="#111" stroke-width="1.25" />
<line x1="374.00" y1="251.80" x2="377.00" y2="251.80" stroke="#111" stroke-width="1.1" />
<text transform="translate(370.90,254.68) scale(0.862,1)" font-size="9.28" text-anchor="end">0</text>
<line x1="374.00" y1="240.40" x2="377.00" y2="240.40" stroke="#111" stroke-width="1.1" />
<text transform="translate(370.90,243.28) scale(0.862,1)" font-size="9.28" text-anchor="end">10</text>
<line x1="374.00" y1="229.00" x2="377.00" y2="229.00" stroke="#111" stroke-width="1.1" />
<text transform="translate(370.90,231.88) scale(0.862,1)" font-size="9.28" text-anchor="end">20</text>
<line x1="374.00" y1="217.60" x2="377.00" y2="217.60" stroke="#111" stroke-width="1.1" />
<text transform="translate(370.90,220.48) scale(0.862,1)" font-size="9.28" text-anchor="end">30</text>
<line x1="374.00" y1="206.20" x2="377.00" y2="206.20" stroke="#111" stroke-width="1.1" />
<text transform="translate(370.90,209.08) scale(0.862,1)" font-size="9.28" text-anchor="end">40</text>
<line x1="374.00" y1="194.80" x2="377.00" y2="194.80" stroke="#111" stroke-width="1.1" />
<text transform="translate(370.90,197.68) scale(0.862,1)" font-size="9.28" text-anchor="end">50</text>
<line x1="374.00" y1="183.40" x2="377.00" y2="183.40" stroke="#111" stroke-width="1.1" />
<text transform="translate(370.90,186.28) scale(0.862,1)" font-size="9.28" text-anchor="end">60</text>
<line x1="374.00" y1="172.00" x2="377.00" y2="172.00" stroke="#111" stroke-width="1.1" />
<text transform="translate(370.90,174.88) scale(0.862,1)" font-size="9.28" text-anchor="end">70</text>
<line x1="376.40" y1="251.80" x2="487.30" y2="251.80" stroke="#111" stroke-width="1.25" />
<line x1="391.80" y1="251.80" x2="391.80" y2="254.80" stroke="#111" stroke-width="1.1" />
<text transform="translate(391.80,264.20) scale(0.862,1)" font-size="9.28" text-anchor="middle">4</text>
<line x1="421.90" y1="251.80" x2="421.90" y2="254.80" stroke="#111" stroke-width="1.1" />
<text transform="translate(421.90,264.20) scale(0.862,1)" font-size="9.28" text-anchor="middle">8</text>
<line x1="452.30" y1="251.80" x2="452.30" y2="254.80" stroke="#111" stroke-width="1.1" />
<text transform="translate(452.30,264.20) scale(0.862,1)" font-size="9.28" text-anchor="middle">12</text>
<line x1="482.40" y1="251.80" x2="482.40" y2="254.80" stroke="#111" stroke-width="1.1" />
<text transform="translate(482.40,264.20) scale(0.862,1)" font-size="9.28" text-anchor="middle">16</text>
<text transform="translate(491.20,264.20) scale(0.862,1)" font-size="9.28">weeks</text>
<text transform="translate(354.70,211.80) rotate(-90) scale(0.862,1)" font-size="8.99" text-anchor="middle">CD45.2 (%)</text>
<polyline points="391.80,213.95 421.90,199.47 452.30,199.82 482.40,207.00" fill="none" stroke="#0d4f8b" stroke-width="1.3" stroke-linejoin="round"/>
<line x1="391.80" y1="210.55" x2="391.80" y2="217.35" stroke="#333" stroke-width="0.9" />
<line x1="390.50" y1="210.55" x2="393.10" y2="210.55" stroke="#333" stroke-width="0.9" />
<line x1="390.50" y1="217.35" x2="393.10" y2="217.35" stroke="#333" stroke-width="0.9" />
<circle cx="391.80" cy="213.95" r="1.7" fill="#0d4f8b"/>
<line x1="421.90" y1="190.97" x2="421.90" y2="207.97" stroke="#333" stroke-width="0.9" />
<line x1="420.60" y1="190.97" x2="423.20" y2="190.97" stroke="#333" stroke-width="0.9" />
<line x1="420.60" y1="207.97" x2="423.20" y2="207.97" stroke="#333" stroke-width="0.9" />
<circle cx="421.90" cy="199.47" r="1.7" fill="#0d4f8b"/>
<line x1="452.30" y1="192.42" x2="452.30" y2="207.22" stroke="#333" stroke-width="0.9" />
<line x1="451.00" y1="192.42" x2="453.60" y2="192.42" stroke="#333" stroke-width="0.9" />
<line x1="451.00" y1="207.22" x2="453.60" y2="207.22" stroke="#333" stroke-width="0.9" />
<circle cx="452.30" cy="199.82" r="1.7" fill="#0d4f8b"/>
<line x1="482.40" y1="201.30" x2="482.40" y2="212.70" stroke="#333" stroke-width="0.9" />
<line x1="481.10" y1="201.30" x2="483.70" y2="201.30" stroke="#333" stroke-width="0.9" />
<line x1="481.10" y1="212.70" x2="483.70" y2="212.70" stroke="#333" stroke-width="0.9" />
<circle cx="482.40" cy="207.00" r="1.7" fill="#0d4f8b"/>
<polyline points="391.80,244.05 421.90,244.16 452.30,244.16 482.40,243.36" fill="none" stroke="#c8102e" stroke-width="1.3" stroke-linejoin="round"/>
<line x1="391.80" y1="242.35" x2="391.80" y2="245.75" stroke="#c8102e" stroke-width="0.9" />
<line x1="390.50" y1="242.35" x2="393.10" y2="242.35" stroke="#c8102e" stroke-width="0.9" />
<line x1="390.50" y1="245.75" x2="393.10" y2="245.75" stroke="#c8102e" stroke-width="0.9" />
<circle cx="391.80" cy="244.05" r="1.7" fill="#c8102e"/>
<line x1="421.90" y1="242.46" x2="421.90" y2="245.86" stroke="#c8102e" stroke-width="0.9" />
<line x1="420.60" y1="242.46" x2="423.20" y2="242.46" stroke="#c8102e" stroke-width="0.9" />
<line x1="420.60" y1="245.86" x2="423.20" y2="245.86" stroke="#c8102e" stroke-width="0.9" />
<circle cx="421.90" cy="244.16" r="1.7" fill="#c8102e"/>
<line x1="452.30" y1="241.36" x2="452.30" y2="246.96" stroke="#c8102e" stroke-width="0.9" />
<line x1="451.00" y1="241.36" x2="453.60" y2="241.36" stroke="#c8102e" stroke-width="0.9" />
<line x1="451.00" y1="246.96" x2="453.60" y2="246.96" stroke="#c8102e" stroke-width="0.9" />
<circle cx="452.30" cy="244.16" r="1.7" fill="#c8102e"/>
<line x1="482.40" y1="240.16" x2="482.40" y2="246.56" stroke="#c8102e" stroke-width="0.9" />
<line x1="481.10" y1="240.16" x2="483.70" y2="240.16" stroke="#c8102e" stroke-width="0.9" />
<line x1="481.10" y1="246.56" x2="483.70" y2="246.56" stroke="#c8102e" stroke-width="0.9" />
<circle cx="482.40" cy="243.36" r="1.7" fill="#c8102e"/>
<text transform="translate(393.30,203.50) scale(0.862,1)" font-size="7.54" text-anchor="middle" style="stroke-width:0.05px"><tspan font-style="italic">P</tspan>&lt;0.0001</text>
<text transform="translate(424.40,187.50) scale(0.862,1)" font-size="7.54" text-anchor="middle" style="stroke-width:0.05px"><tspan font-style="italic">P</tspan>=0.0009</text>
<text transform="translate(453.80,187.50) scale(0.862,1)" font-size="7.54" text-anchor="middle" style="stroke-width:0.05px"><tspan font-style="italic">P</tspan>=0.0006</text>
<text transform="translate(484.00,197.00) scale(0.862,1)" font-size="7.54" text-anchor="middle" style="stroke-width:0.05px"><tspan font-style="italic">P</tspan>=0.0008</text>
<text x="11.00" y="295.00" font-size="11" font-weight="bold" style="stroke:#000;stroke-width:0.55px" fill="#000">G</text>
<text transform="translate(33.80,314.00) scale(0.862,1)" font-size="10.56" style="stroke-width:0.18px">PLKO-GFP-shNC</text>
<text transform="translate(33.80,329.60) scale(0.862,1)" font-size="10.56" style="stroke-width:0.18px">PLKO-GFP-shANP32B</text>
<line x1="108.10" y1="317.30" x2="120.40" y2="317.30" stroke="#000" stroke-width="1.2" />
<path d="M119.40,315.10 L126.90,317.30 L119.40,319.50 Z" fill="#000"/>
<text transform="translate(130.70,308.50) scale(0.862,1)" font-size="10.50" style="stroke-width:0.18px">293T cells</text>
<path d="M138.10,314.40 L138.10,321.70 A13.05,1.80 0 0 0 164.20,321.70 L164.20,314.40" fill="#fbfbfb" stroke="#555" stroke-width="0.7"/>
<ellipse cx="151.15" cy="314.40" rx="13.05" ry="1.80" fill="#fafafa" stroke="#555" stroke-width="0.7"/>
<path d="M139.6,317.6 Q151,318.6 162.7,317.6 L162.7,320.4 Q151,321.6 139.6,320.4 Z" fill="#e6e6e6"/>
<circle cx="179.1" cy="305.1" r="2.15" fill="#c2c2c2"/>
<circle cx="183.8" cy="303.7" r="2.15" fill="#c2c2c2"/>
<circle cx="188.5" cy="305.5" r="2.15" fill="#c2c2c2"/>
<circle cx="193.3" cy="304.2" r="2.15" fill="#c2c2c2"/>
<circle cx="179.5" cy="310.1" r="2.15" fill="#c2c2c2"/>
<circle cx="183.8" cy="308.5" r="2.15" fill="#c2c2c2"/>
<circle cx="188.5" cy="310.9" r="2.15" fill="#c2c2c2"/>
<circle cx="193.3" cy="309.1" r="2.15" fill="#c2c2c2"/>
<line x1="175.10" y1="317.10" x2="197.90" y2="317.10" stroke="#000" stroke-width="1.2" />
<path d="M196.90,314.90 L204.40,317.10 L196.90,319.30 Z" fill="#000"/>
<text transform="translate(204.80,307.40) scale(0.862,1)" font-size="10.50" style="stroke-width:0.18px">CD34<tspan font-size="6.96" dy="-3.3">+</tspan><tspan dy="3.3"> CB</tspan></text>
<rect x="210.4" y="316.2" width="31.2" height="9.2" rx="1.2" fill="#f4e6e9" stroke="#b9b9b9" stroke-width="0.5"/>
<path fill="#dcb0b9" d="M218.4 321.4h.8v.8h-.8zM220.2 318.2h.8v.8h-.8zM226.2 320.4h.8v.8h-.8zM232.2 319.3h.8v.8h-.8zM232.3 320.1h.8v.8h-.8zM226.2 324.2h.8v.8h-.8zM239.0 324.0h.8v.8h-.8zM239.9 320.1h.8v.8h-.8zM229.5 323.8h.8v.8h-.8zM238.7 320.7h.8v.8h-.8zM234.4 324.1h.8v.8h-.8zM221.7 323.7h.8v.8h-.8zM239.2 318.1h.8v.8h-.8zM218.8 320.8h.8v.8h-.8zM216.6 319.1h.8v.8h-.8zM220.5 319.4h.8v.8h-.8zM230.3 318.6h.8v.8h-.8zM223.7 321.2h.8v.8h-.8zM225.0 321.9h.8v.8h-.8zM212.4 320.8h.8v.8h-.8zM212.9 319.7h.8v.8h-.8zM220.7 320.0h.8v.8h-.8zM222.7 320.4h.8v.8h-.8zM222.0 319.2h.8v.8h-.8zM213.0 321.9h.8v.8h-.8zM212.0 319.4h.8v.8h-.8zM238.7 320.3h.8v.8h-.8zM235.7 323.9h.8v.8h-.8z"/>
<path fill="#b9808c" d="M238.1 320.9h.8v.8h-.8zM236.7 321.2h.8v.8h-.8zM231.0 318.4h.8v.8h-.8zM237.7 322.2h.8v.8h-.8zM231.8 320.0h.8v.8h-.8zM233.8 323.4h.8v.8h-.8zM211.7 318.7h.8v.8h-.8zM229.2 319.0h.8v.8h-.8zM230.2 321.7h.8v.8h-.8zM226.6 321.4h.8v.8h-.8zM232.9 318.1h.8v.8h-.8zM236.5 320.1h.8v.8h-.8zM227.3 323.5h.8v.8h-.8zM236.4 324.0h.8v.8h-.8zM237.5 323.6h.8v.8h-.8zM226.1 319.5h.8v.8h-.8zM226.7 320.6h.8v.8h-.8zM217.2 321.3h.8v.8h-.8zM229.4 321.2h.8v.8h-.8zM225.2 322.8h.8v.8h-.8zM236.4 322.8h.8v.8h-.8zM215.1 318.4h.8v.8h-.8zM223.9 318.8h.8v.8h-.8zM232.3 320.4h.8v.8h-.8zM218.0 318.8h.8v.8h-.8zM230.9 322.5h.8v.8h-.8zM215.7 322.8h.8v.8h-.8zM216.7 318.1h.8v.8h-.8zM214.6 322.6h.8v.8h-.8z"/>
<path fill="#a86f7c" d="M229.1 323.6h.8v.8h-.8zM219.0 319.5h.8v.8h-.8zM227.2 321.4h.8v.8h-.8zM225.2 322.5h.8v.8h-.8zM232.2 323.7h.8v.8h-.8zM225.9 319.6h.8v.8h-.8zM234.1 323.3h.8v.8h-.8zM219.8 318.4h.8v.8h-.8zM214.1 323.0h.8v.8h-.8zM237.5 318.1h.8v.8h-.8zM229.0 322.7h.8v.8h-.8zM239.3 323.6h.8v.8h-.8zM222.4 323.4h.8v.8h-.8zM213.2 321.9h.8v.8h-.8zM236.0 319.6h.8v.8h-.8zM218.4 319.2h.8v.8h-.8zM223.7 320.5h.8v.8h-.8zM216.0 318.0h.8v.8h-.8zM221.4 319.6h.8v.8h-.8zM235.4 318.0h.8v.8h-.8zM236.3 318.5h.8v.8h-.8zM227.9 318.3h.8v.8h-.8zM229.0 322.9h.8v.8h-.8zM230.0 318.3h.8v.8h-.8zM223.7 322.3h.8v.8h-.8zM231.7 318.4h.8v.8h-.8zM215.0 322.3h.8v.8h-.8zM235.0 322.4h.8v.8h-.8zM226.8 321.5h.8v.8h-.8zM212.2 318.7h.8v.8h-.8z"/>
<path fill="#cc97a2" d="M230.0 318.9h.8v.8h-.8zM232.6 321.6h.8v.8h-.8zM237.0 318.6h.8v.8h-.8zM227.0 320.5h.8v.8h-.8zM236.3 324.1h.8v.8h-.8zM224.0 322.5h.8v.8h-.8zM212.1 321.8h.8v.8h-.8zM214.5 323.0h.8v.8h-.8zM239.0 322.2h.8v.8h-.8zM224.2 323.3h.8v.8h-.8zM213.8 322.6h.8v.8h-.8zM237.2 320.8h.8v.8h-.8zM234.3 318.2h.8v.8h-.8zM220.6 323.2h.8v.8h-.8zM234.9 320.1h.8v.8h-.8zM227.7 324.1h.8v.8h-.8zM235.0 318.3h.8v.8h-.8zM211.9 322.6h.8v.8h-.8zM235.0 318.4h.8v.8h-.8zM216.5 322.9h.8v.8h-.8zM234.7 318.2h.8v.8h-.8zM227.5 323.4h.8v.8h-.8zM235.5 319.5h.8v.8h-.8z"/>
<rect x="209.6" y="312.2" width="33.2" height="4.7" rx="1.6" fill="#fdfdfd" stroke="#8a8a8a" stroke-width="0.6"/>
<line x1="210.2" y1="313.2" x2="242.2" y2="313.2" stroke="#cfcfcf" stroke-width="0.6"/>
<line x1="248.10" y1="317.40" x2="269.80" y2="317.40" stroke="#000" stroke-width="1.2" />
<path d="M268.80,315.20 L276.30,317.40 L268.80,319.60 Z" fill="#000"/>
<text transform="translate(251.60,313.70) scale(0.862,1)" font-size="10.50" style="stroke-width:0.18px">72h</text>
<text transform="translate(286.30,314.90) scale(0.862,1)" font-size="10.50" style="stroke-width:0.18px">Sorting</text>
<text transform="translate(280.40,331.00) scale(0.862,1)" font-size="10.50" style="stroke-width:0.18px">GFP<tspan font-size="6.96" dy="-3.3">+</tspan><tspan dy="3.3"> cells</tspan></text>
<line x1="320.20" y1="317.30" x2="330.70" y2="317.30" stroke="#000" stroke-width="1.2" />
<path d="M329.70,315.10 L337.20,317.30 L329.70,319.50 Z" fill="#000"/>
<defs><radialGradient id="mg" cx="0.55" cy="0.45" r="0.6"><stop offset="0" stop-color="#ffffff"/><stop offset="0.65" stop-color="#f7f7f7"/><stop offset="1" stop-color="#d4d4d4"/></radialGradient></defs>
<g>
<ellipse cx="361" cy="325.5" rx="15" ry="3.2" fill="#f3f3f3"/>
<path d="M375.0,315.8 Q390,318.4 404.4,320.2 Q404.6,321.0 403.8,321.0 Q390,321.4 375.0,318.8 Z" fill="#eaa4ae"/>
<path d="M346,316 Q345.8,311 350,307 Q354.5,302.2 362,301.3 Q372.5,300.8 375.6,309.5 Q377.2,318.2 371.5,321.2 L356,321.6 Q349,320.8 346,316 Z" fill="url(#mg)" stroke="#dadada" stroke-width="0.6"/>
<path d="M357.2,313.5 Q354.8,310 356.5,307.8" fill="none" stroke="#e4e4e4" stroke-width="1.2"/>
<ellipse cx="358.9" cy="306.2" rx="3.2" ry="3.5" fill="#f7eeef" stroke="#d9c6c9" stroke-width="0.6"/>
<ellipse cx="359.2" cy="306.6" rx="1.7" ry="2.1" fill="#f3dde0"/>
<ellipse cx="350.0" cy="303.4" rx="1.2" ry="2.4" fill="#f6f0f0" stroke="#e0d4d6" stroke-width="0.4"/>
<circle cx="352.1" cy="310.8" r="1.05" fill="#2a2a2a"/>
<ellipse cx="347.2" cy="315.3" rx="1.4" ry="1.1" fill="#efaab4"/>
<ellipse cx="353.6" cy="320.8" rx="2.2" ry="1.1" fill="#efb0b9"/>
<ellipse cx="373.6" cy="320.9" rx="2.2" ry="1.1" fill="#efb0b9"/>
</g>
<path d="M391.2,316.4 L396.8,310.0 L396.1,309.3 L400.4,305.4 L399.7,304.8 L403.3,301.7 L405.3,303.4 L402.6,306.4 L403.3,307.0 L399.7,310.0 L400.3,310.7 Z" fill="#d0102a"/>
<line x1="405.80" y1="317.40" x2="422.30" y2="317.40" stroke="#000" stroke-width="1.2" />
<path d="M421.30,315.20 L428.80,317.40 L421.30,319.60 Z" fill="#000"/>
<text transform="translate(335.30,343.00) scale(0.862,1)" font-size="10.96" style="stroke-width:0.18px">B-NDG Recipient</text>
<text transform="translate(435.80,315.40) scale(0.862,1)" font-size="10.50" style="stroke-width:0.18px">PB, BM analysis</text>
<text transform="translate(435.80,326.80) scale(0.862,1)" font-size="10.50" style="stroke-width:0.18px" textLength="77.26" lengthAdjust="spacingAndGlyphs">for engraftment</text>
<text transform="translate(435.80,338.00) scale(0.862,1)" font-size="10.50" style="stroke-width:0.18px" textLength="70.18" lengthAdjust="spacingAndGlyphs">of human cells</text>
<text x="11.10" y="374.20" font-size="11" font-weight="bold" style="stroke:#000;stroke-width:0.55px" fill="#000">H</text>
<text x="25.20" y="383.60" font-size="8.2" font-weight="bold" style="stroke:#000;stroke-width:0.55px" fill="#000">i</text>
<text transform="translate(84.80,381.00) scale(0.862,1)" font-size="10.44" text-anchor="middle" style="stroke-width:0.22px">PB</text>
<line x1="43.30" y1="385.40" x2="126.20" y2="385.40" stroke="#777" stroke-width="1.1" />
<text transform="translate(33.30,414.20) rotate(-90) scale(0.862,1)" font-size="10.56" text-anchor="middle" style="stroke-width:0.22px">shNC</text>
<text transform="translate(33.30,461.00) rotate(-90) scale(0.862,1)" font-size="10.79" text-anchor="middle" style="stroke-width:0.22px">shANP32B</text>
<rect x="36.60" y="389.60" width="47.40" height="49.40" fill="#fff"/>
<path fill="#c6cdea" d="M56.7 418.4h.6v.6h-.6zM68.7 436.1h.6v.6h-.6zM53.2 429.8h.6v.6h-.6zM45.3 419.0h.6v.6h-.6zM47.6 430.5h.6v.6h-.6zM45.2 437.3h.6v.6h-.6zM40.8 418.3h.6v.6h-.6zM41.4 432.4h.6v.6h-.6zM50.0 425.1h.6v.6h-.6zM48.8 429.2h.6v.6h-.6zM51.2 418.7h.6v.6h-.6zM52.0 421.0h.6v.6h-.6zM42.1 433.7h.6v.6h-.6zM59.8 429.8h.6v.6h-.6zM66.1 423.2h.6v.6h-.6zM50.4 423.9h.6v.6h-.6zM51.2 429.9h.6v.6h-.6zM38.8 424.9h.6v.6h-.6zM55.3 422.0h.6v.6h-.6zM39.3 430.8h.6v.6h-.6zM38.9 427.4h.6v.6h-.6zM43.4 414.4h.6v.6h-.6zM44.2 415.2h.6v.6h-.6zM43.3 430.3h.6v.6h-.6zM61.3 422.5h.6v.6h-.6zM58.9 425.2h.6v.6h-.6zM54.1 435.0h.6v.6h-.6zM48.3 434.8h.6v.6h-.6zM60.1 430.3h.6v.6h-.6zM38.8 415.7h.6v.6h-.6z"/>
<path fill="#a7bbea" d="M55.8 433.8h0.9v0.9h-0.9zM50.4 417.5h0.9v0.9h-0.9zM60.9 427.8h0.9v0.9h-0.9zM55.2 421.3h0.9v0.9h-0.9zM62.1 423.0h0.9v0.9h-0.9zM40.3 433.6h0.9v0.9h-0.9zM41.1 431.5h0.9v0.9h-0.9zM56.2 434.8h0.9v0.9h-0.9zM57.0 433.9h0.9v0.9h-0.9zM40.6 434.7h0.9v0.9h-0.9zM52.1 436.3h0.9v0.9h-0.9zM45.7 418.8h0.9v0.9h-0.9zM58.0 428.8h0.9v0.9h-0.9zM55.7 435.4h0.9v0.9h-0.9zM48.0 437.8h0.9v0.9h-0.9zM56.9 431.2h0.9v0.9h-0.9zM58.3 424.8h0.9v0.9h-0.9zM57.2 422.9h0.9v0.9h-0.9zM54.8 421.0h0.9v0.9h-0.9zM41.8 426.1h0.9v0.9h-0.9zM58.4 420.2h0.9v0.9h-0.9zM43.7 423.5h0.9v0.9h-0.9zM50.2 420.0h0.9v0.9h-0.9zM57.4 433.1h0.9v0.9h-0.9zM59.6 426.5h0.9v0.9h-0.9zM49.9 437.2h0.9v0.9h-0.9zM58.9 433.1h0.9v0.9h-0.9zM40.9 419.0h0.9v0.9h-0.9zM42.8 436.8h0.9v0.9h-0.9zM39.7 427.4h0.9v0.9h-0.9zM61.2 422.2h0.9v0.9h-0.9zM57.2 431.2h0.9v0.9h-0.9zM45.2 422.7h0.9v0.9h-0.9zM54.8 420.3h0.9v0.9h-0.9zM58.8 423.2h0.9v0.9h-0.9zM40.8 431.6h0.9v0.9h-0.9zM51.9 437.8h0.9v0.9h-0.9zM49.6 419.4h0.9v0.9h-0.9zM55.5 434.4h0.9v0.9h-0.9zM53.1 419.5h0.9v0.9h-0.9zM57.0 434.3h0.9v0.9h-0.9zM48.5 420.4h0.9v0.9h-0.9zM46.7 437.7h0.9v0.9h-0.9zM52.3 419.2h0.9v0.9h-0.9zM53.5 436.2h0.9v0.9h-0.9zM45.4 422.0h0.9v0.9h-0.9zM46.6 419.7h0.9v0.9h-0.9zM56.9 434.7h0.9v0.9h-0.9zM50.6 438.0h0.9v0.9h-0.9z"/>
<path fill="#89a2e2" d="M49.4 434.4h0.9v0.9h-0.9zM47.5 435.4h0.9v0.9h-0.9zM50.6 423.2h0.9v0.9h-0.9zM44.2 436.0h0.9v0.9h-0.9zM54.8 431.5h0.9v0.9h-0.9zM50.8 435.2h0.9v0.9h-0.9zM52.6 433.0h0.9v0.9h-0.9zM50.0 422.7h0.9v0.9h-0.9zM51.0 421.4h0.9v0.9h-0.9zM46.0 435.4h0.9v0.9h-0.9zM53.2 424.1h0.9v0.9h-0.9zM49.3 434.8h0.9v0.9h-0.9zM42.7 431.0h0.9v0.9h-0.9zM50.0 434.2h0.9v0.9h-0.9zM56.9 424.9h0.9v0.9h-0.9zM52.0 422.3h0.9v0.9h-0.9zM54.4 431.8h0.9v0.9h-0.9zM55.5 423.6h0.9v0.9h-0.9zM48.3 435.0h0.9v0.9h-0.9zM50.3 422.9h0.9v0.9h-0.9zM52.3 423.4h0.9v0.9h-0.9zM43.4 434.5h0.9v0.9h-0.9zM52.4 433.0h0.9v0.9h-0.9zM41.7 430.9h0.9v0.9h-0.9zM44.7 436.4h0.9v0.9h-0.9zM56.0 425.7h0.9v0.9h-0.9zM51.4 435.5h0.9v0.9h-0.9zM55.7 430.4h0.9v0.9h-0.9zM55.3 428.7h0.9v0.9h-0.9zM47.8 424.1h0.9v0.9h-0.9zM52.4 422.1h0.9v0.9h-0.9zM54.9 429.0h0.9v0.9h-0.9zM44.1 430.2h0.9v0.9h-0.9zM43.9 434.2h0.9v0.9h-0.9zM49.1 423.3h0.9v0.9h-0.9zM45.6 433.6h0.9v0.9h-0.9zM53.6 423.0h0.9v0.9h-0.9zM49.1 422.1h0.9v0.9h-0.9zM44.0 429.0h0.9v0.9h-0.9zM50.0 421.5h0.9v0.9h-0.9zM55.9 429.3h0.9v0.9h-0.9zM49.2 423.1h0.9v0.9h-0.9zM47.4 434.6h0.9v0.9h-0.9zM51.1 436.0h0.9v0.9h-0.9zM48.7 436.5h0.9v0.9h-0.9zM50.0 435.8h0.9v0.9h-0.9zM48.8 424.1h0.9v0.9h-0.9zM42.8 434.5h0.9v0.9h-0.9zM52.8 433.8h0.9v0.9h-0.9zM55.5 423.5h0.9v0.9h-0.9zM54.7 432.0h0.9v0.9h-0.9zM57.1 426.1h0.9v0.9h-0.9zM43.6 425.7h0.9v0.9h-0.9zM49.4 423.6h0.9v0.9h-0.9zM43.9 433.4h0.9v0.9h-0.9zM54.8 430.3h0.9v0.9h-0.9zM41.9 431.0h0.9v0.9h-0.9zM52.6 422.8h0.9v0.9h-0.9zM43.2 426.5h0.9v0.9h-0.9zM50.7 423.7h0.9v0.9h-0.9zM49.6 422.4h0.9v0.9h-0.9zM57.1 426.8h0.9v0.9h-0.9zM53.7 423.9h0.9v0.9h-0.9zM52.2 421.9h0.9v0.9h-0.9zM51.0 435.3h0.9v0.9h-0.9zM44.6 428.6h0.9v0.9h-0.9zM47.9 435.1h0.9v0.9h-0.9zM54.1 423.9h0.9v0.9h-0.9zM46.7 436.3h0.9v0.9h-0.9zM54.4 423.8h0.9v0.9h-0.9zM56.1 429.6h0.9v0.9h-0.9zM51.3 422.8h0.9v0.9h-0.9z"/>
<path fill="#3a9cc4" d="M45.0 431.2h0.9v0.9h-0.9zM48.3 426.0h0.9v0.9h-0.9zM47.7 428.4h0.9v0.9h-0.9zM54.0 426.0h0.9v0.9h-0.9zM45.4 428.9h0.9v0.9h-0.9zM51.2 426.7h0.9v0.9h-0.9zM54.2 425.7h0.9v0.9h-0.9zM51.1 424.0h0.9v0.9h-0.9zM45.6 427.7h0.9v0.9h-0.9zM48.1 430.1h0.9v0.9h-0.9zM47.2 429.8h0.9v0.9h-0.9zM45.8 433.3h0.9v0.9h-0.9zM49.4 432.6h0.9v0.9h-0.9zM48.5 428.2h0.9v0.9h-0.9zM53.1 426.0h0.9v0.9h-0.9zM50.5 424.7h0.9v0.9h-0.9zM48.6 425.4h0.9v0.9h-0.9zM48.2 430.4h0.9v0.9h-0.9zM52.4 429.9h0.9v0.9h-0.9zM47.0 430.9h0.9v0.9h-0.9zM50.5 428.6h0.9v0.9h-0.9zM49.7 429.5h0.9v0.9h-0.9zM51.6 426.5h0.9v0.9h-0.9zM49.8 432.5h0.9v0.9h-0.9zM52.2 427.8h0.9v0.9h-0.9zM49.7 429.4h0.9v0.9h-0.9zM47.0 427.9h0.9v0.9h-0.9zM52.5 425.1h0.9v0.9h-0.9zM47.5 434.1h0.9v0.9h-0.9zM50.3 425.9h0.9v0.9h-0.9zM47.6 426.5h0.9v0.9h-0.9zM51.9 425.2h0.9v0.9h-0.9zM54.0 429.3h0.9v0.9h-0.9zM47.1 429.4h0.9v0.9h-0.9zM50.6 423.9h0.9v0.9h-0.9zM51.2 427.7h0.9v0.9h-0.9zM53.1 429.2h0.9v0.9h-0.9zM47.4 429.4h0.9v0.9h-0.9zM50.8 429.8h0.9v0.9h-0.9zM52.0 428.4h0.9v0.9h-0.9zM46.7 429.3h0.9v0.9h-0.9zM49.6 432.2h0.9v0.9h-0.9zM48.6 425.7h0.9v0.9h-0.9zM53.3 430.7h0.9v0.9h-0.9zM45.8 430.0h0.9v0.9h-0.9zM48.3 426.0h0.9v0.9h-0.9zM48.0 429.1h0.9v0.9h-0.9zM53.8 428.3h0.9v0.9h-0.9zM49.2 426.8h0.9v0.9h-0.9zM44.9 429.4h0.9v0.9h-0.9zM49.5 427.3h0.9v0.9h-0.9zM47.0 432.6h0.9v0.9h-0.9zM50.6 429.6h0.9v0.9h-0.9zM50.7 425.5h0.9v0.9h-0.9zM46.8 431.8h0.9v0.9h-0.9zM49.4 424.7h0.9v0.9h-0.9zM48.7 433.9h0.9v0.9h-0.9zM45.8 432.9h0.9v0.9h-0.9zM45.7 430.3h0.9v0.9h-0.9zM49.4 432.8h0.9v0.9h-0.9zM48.4 428.3h0.9v0.9h-0.9zM53.5 431.0h0.9v0.9h-0.9zM51.1 426.1h0.9v0.9h-0.9zM49.6 427.8h0.9v0.9h-0.9zM47.5 430.9h0.9v0.9h-0.9zM50.4 427.1h0.9v0.9h-0.9zM47.5 432.9h0.9v0.9h-0.9zM53.1 424.5h0.9v0.9h-0.9zM49.3 429.8h0.9v0.9h-0.9zM48.5 425.0h0.9v0.9h-0.9zM46.8 430.8h0.9v0.9h-0.9zM51.8 427.5h0.9v0.9h-0.9zM50.8 429.1h0.9v0.9h-0.9zM49.8 425.7h0.9v0.9h-0.9zM54.4 429.5h0.9v0.9h-0.9zM53.2 428.6h0.9v0.9h-0.9zM47.9 427.4h0.9v0.9h-0.9zM50.0 431.4h0.9v0.9h-0.9zM53.9 429.0h0.9v0.9h-0.9zM54.5 429.0h0.9v0.9h-0.9zM49.5 431.8h0.9v0.9h-0.9zM46.7 433.6h0.9v0.9h-0.9zM53.1 427.3h0.9v0.9h-0.9zM49.8 424.6h0.9v0.9h-0.9z"/>
<path fill="#44a8bc" d="M50.6 429.3h0.9v0.9h-0.9zM49.4 431.1h0.9v0.9h-0.9zM49.6 430.7h0.9v0.9h-0.9zM51.2 429.2h0.9v0.9h-0.9zM50.3 427.9h0.9v0.9h-0.9zM51.3 430.4h0.9v0.9h-0.9zM49.1 429.5h0.9v0.9h-0.9zM48.4 428.7h0.9v0.9h-0.9zM47.2 430.4h0.9v0.9h-0.9zM49.6 429.6h0.9v0.9h-0.9zM51.6 427.1h0.9v0.9h-0.9zM48.3 430.8h0.9v0.9h-0.9zM50.5 428.4h0.9v0.9h-0.9zM51.4 429.5h0.9v0.9h-0.9zM49.8 431.0h0.9v0.9h-0.9zM50.1 430.3h0.9v0.9h-0.9zM51.2 429.3h0.9v0.9h-0.9z"/>
<path fill="#6a8cdc" d="M42.2 434.4h0.9v0.9h-0.9zM46.4 435.4h0.9v0.9h-0.9zM45.6 425.8h0.9v0.9h-0.9zM45.2 433.8h0.9v0.9h-0.9zM50.3 423.2h0.9v0.9h-0.9zM53.6 432.2h0.9v0.9h-0.9zM56.4 431.0h0.9v0.9h-0.9zM45.6 424.8h0.9v0.9h-0.9zM42.5 430.7h0.9v0.9h-0.9zM44.1 432.8h0.9v0.9h-0.9zM44.0 427.7h0.9v0.9h-0.9zM55.8 424.4h0.9v0.9h-0.9zM48.5 435.8h0.9v0.9h-0.9zM50.9 434.4h0.9v0.9h-0.9zM49.7 436.6h0.9v0.9h-0.9zM44.2 429.1h0.9v0.9h-0.9zM55.3 428.0h0.9v0.9h-0.9zM49.2 435.4h0.9v0.9h-0.9zM54.6 425.8h0.9v0.9h-0.9zM44.5 436.4h0.9v0.9h-0.9zM42.0 433.6h0.9v0.9h-0.9zM56.4 425.7h0.9v0.9h-0.9zM49.3 421.8h0.9v0.9h-0.9zM52.7 423.5h0.9v0.9h-0.9zM55.7 425.5h0.9v0.9h-0.9zM55.8 424.8h0.9v0.9h-0.9zM44.4 427.6h0.9v0.9h-0.9zM43.4 435.2h0.9v0.9h-0.9zM55.2 430.7h0.9v0.9h-0.9zM56.3 428.9h0.9v0.9h-0.9zM46.7 434.4h0.9v0.9h-0.9zM43.9 434.2h0.9v0.9h-0.9zM43.2 429.6h0.9v0.9h-0.9zM43.1 431.0h0.9v0.9h-0.9zM46.1 435.3h0.9v0.9h-0.9zM42.9 428.3h0.9v0.9h-0.9zM45.5 425.9h0.9v0.9h-0.9zM47.0 436.3h0.9v0.9h-0.9zM45.1 434.4h0.9v0.9h-0.9zM44.1 434.0h0.9v0.9h-0.9zM56.0 422.3h0.9v0.9h-0.9zM51.7 422.0h0.9v0.9h-0.9zM52.4 421.5h0.9v0.9h-0.9zM55.2 428.9h0.9v0.9h-0.9zM48.6 434.4h0.9v0.9h-0.9zM42.3 433.0h0.9v0.9h-0.9zM47.0 424.2h0.9v0.9h-0.9zM46.8 424.8h0.9v0.9h-0.9zM46.5 425.0h0.9v0.9h-0.9zM46.7 424.8h0.9v0.9h-0.9zM44.7 428.6h0.9v0.9h-0.9zM55.8 425.5h0.9v0.9h-0.9zM51.2 422.7h0.9v0.9h-0.9zM55.3 428.6h0.9v0.9h-0.9zM43.6 427.9h0.9v0.9h-0.9zM55.1 429.0h0.9v0.9h-0.9zM55.1 427.8h0.9v0.9h-0.9zM49.5 434.8h0.9v0.9h-0.9zM49.4 434.8h0.9v0.9h-0.9zM56.0 425.5h0.9v0.9h-0.9zM44.6 426.2h0.9v0.9h-0.9zM44.9 427.3h0.9v0.9h-0.9zM51.5 421.9h0.9v0.9h-0.9zM55.4 430.3h0.9v0.9h-0.9zM55.3 422.5h0.9v0.9h-0.9zM55.1 428.1h0.9v0.9h-0.9zM47.4 434.5h0.9v0.9h-0.9zM52.8 433.3h0.9v0.9h-0.9zM55.6 425.5h0.9v0.9h-0.9z"/>
<path fill="#3fb0b0" d="M50.7 428.9h0.9v0.9h-0.9zM49.4 427.1h0.9v0.9h-0.9zM50.4 429.2h0.9v0.9h-0.9zM51.4 427.1h0.9v0.9h-0.9zM50.0 428.3h0.9v0.9h-0.9zM51.6 429.6h0.9v0.9h-0.9zM48.8 428.2h0.9v0.9h-0.9zM49.5 428.1h0.9v0.9h-0.9zM47.6 430.0h0.9v0.9h-0.9zM49.4 427.7h0.9v0.9h-0.9zM51.1 428.5h0.9v0.9h-0.9zM50.7 428.0h0.9v0.9h-0.9zM50.5 427.5h0.9v0.9h-0.9zM49.4 428.6h0.9v0.9h-0.9zM49.5 431.0h0.9v0.9h-0.9zM49.0 428.0h0.9v0.9h-0.9zM49.6 428.9h0.9v0.9h-0.9zM48.2 428.1h0.9v0.9h-0.9zM49.3 428.2h0.9v0.9h-0.9zM51.0 430.6h0.9v0.9h-0.9zM51.4 427.4h0.9v0.9h-0.9zM48.8 430.5h0.9v0.9h-0.9zM48.6 428.5h0.9v0.9h-0.9zM48.6 429.5h0.9v0.9h-0.9zM49.6 429.8h0.9v0.9h-0.9zM50.3 427.5h0.9v0.9h-0.9zM49.1 429.9h0.9v0.9h-0.9zM51.1 429.1h0.9v0.9h-0.9zM49.4 428.5h0.9v0.9h-0.9zM47.2 428.8h0.9v0.9h-0.9z"/>
<path fill="#5a7fd6" d="M57.2 425.3h0.9v0.9h-0.9zM55.1 431.2h0.9v0.9h-0.9zM52.8 423.6h0.9v0.9h-0.9zM52.9 423.8h0.9v0.9h-0.9zM56.8 428.8h0.9v0.9h-0.9zM50.4 423.1h0.9v0.9h-0.9zM50.2 434.3h0.9v0.9h-0.9zM46.0 424.8h0.9v0.9h-0.9zM55.6 427.3h0.9v0.9h-0.9zM44.9 427.5h0.9v0.9h-0.9zM55.0 430.1h0.9v0.9h-0.9zM54.9 431.1h0.9v0.9h-0.9zM47.0 436.5h0.9v0.9h-0.9zM51.8 423.0h0.9v0.9h-0.9zM56.8 423.2h0.9v0.9h-0.9zM46.8 436.3h0.9v0.9h-0.9zM44.4 435.7h0.9v0.9h-0.9zM56.1 425.8h0.9v0.9h-0.9zM55.3 425.9h0.9v0.9h-0.9zM56.3 427.8h0.9v0.9h-0.9zM46.6 437.1h0.9v0.9h-0.9zM55.5 432.4h0.9v0.9h-0.9zM47.5 436.2h0.9v0.9h-0.9zM44.5 425.0h0.9v0.9h-0.9zM44.9 427.1h0.9v0.9h-0.9zM52.8 433.6h0.9v0.9h-0.9zM51.5 433.7h0.9v0.9h-0.9zM46.2 435.5h0.9v0.9h-0.9zM41.7 431.7h0.9v0.9h-0.9zM44.0 434.3h0.9v0.9h-0.9zM46.7 425.6h0.9v0.9h-0.9zM54.0 423.3h0.9v0.9h-0.9zM56.2 423.2h0.9v0.9h-0.9zM43.7 431.0h0.9v0.9h-0.9zM56.3 428.1h0.9v0.9h-0.9zM49.8 435.0h0.9v0.9h-0.9zM54.6 424.3h0.9v0.9h-0.9zM54.5 424.7h0.9v0.9h-0.9zM57.2 426.2h0.9v0.9h-0.9zM46.0 436.9h0.9v0.9h-0.9zM51.2 421.6h0.9v0.9h-0.9zM56.8 425.9h0.9v0.9h-0.9zM43.2 434.0h0.9v0.9h-0.9zM45.3 426.6h0.9v0.9h-0.9zM52.1 423.3h0.9v0.9h-0.9zM44.1 428.1h0.9v0.9h-0.9zM48.9 422.3h0.9v0.9h-0.9zM48.6 434.4h0.9v0.9h-0.9zM54.2 422.9h0.9v0.9h-0.9zM44.4 428.5h0.9v0.9h-0.9zM44.3 435.9h0.9v0.9h-0.9zM43.6 434.7h0.9v0.9h-0.9zM43.3 430.6h0.9v0.9h-0.9zM55.2 430.0h0.9v0.9h-0.9zM52.7 422.8h0.9v0.9h-0.9zM50.9 422.8h0.9v0.9h-0.9zM46.2 434.1h0.9v0.9h-0.9zM56.3 429.3h0.9v0.9h-0.9zM52.5 433.6h0.9v0.9h-0.9zM56.7 424.0h0.9v0.9h-0.9zM43.0 430.8h0.9v0.9h-0.9zM50.5 422.3h0.9v0.9h-0.9zM51.6 422.9h0.9v0.9h-0.9zM50.9 422.3h0.9v0.9h-0.9zM45.2 426.4h0.9v0.9h-0.9zM54.0 423.4h0.9v0.9h-0.9zM46.5 425.2h0.9v0.9h-0.9zM42.8 427.6h0.9v0.9h-0.9zM48.8 435.7h0.9v0.9h-0.9zM55.1 428.8h0.9v0.9h-0.9zM51.4 422.5h0.9v0.9h-0.9zM44.8 427.8h0.9v0.9h-0.9zM47.6 422.7h0.9v0.9h-0.9zM50.3 434.9h0.9v0.9h-0.9zM55.7 425.5h0.9v0.9h-0.9zM56.0 424.2h0.9v0.9h-0.9zM47.0 424.8h0.9v0.9h-0.9zM56.2 423.8h0.9v0.9h-0.9zM46.2 436.0h0.9v0.9h-0.9zM56.4 428.1h0.9v0.9h-0.9zM55.1 421.8h0.9v0.9h-0.9zM52.7 433.2h0.9v0.9h-0.9zM44.5 428.1h0.9v0.9h-0.9zM43.1 433.4h0.9v0.9h-0.9zM46.2 435.0h0.9v0.9h-0.9zM42.5 430.6h0.9v0.9h-0.9zM43.8 428.3h0.9v0.9h-0.9zM42.9 428.0h0.9v0.9h-0.9zM42.8 433.7h0.9v0.9h-0.9zM44.6 428.3h0.9v0.9h-0.9z"/>
<path fill="#4f80d4" d="M50.5 433.6h0.9v0.9h-0.9zM46.7 428.6h0.9v0.9h-0.9zM49.0 426.5h0.9v0.9h-0.9zM46.3 429.1h0.9v0.9h-0.9zM47.7 432.1h0.9v0.9h-0.9zM53.6 426.1h0.9v0.9h-0.9zM47.5 433.9h0.9v0.9h-0.9zM47.6 431.5h0.9v0.9h-0.9zM54.2 426.8h0.9v0.9h-0.9zM45.4 429.3h0.9v0.9h-0.9zM45.7 433.3h0.9v0.9h-0.9zM53.6 430.4h0.9v0.9h-0.9zM50.0 432.6h0.9v0.9h-0.9zM52.2 425.1h0.9v0.9h-0.9zM52.1 425.2h0.9v0.9h-0.9zM47.5 433.3h0.9v0.9h-0.9zM49.5 426.0h0.9v0.9h-0.9zM52.2 426.6h0.9v0.9h-0.9zM47.8 427.3h0.9v0.9h-0.9zM54.2 428.2h0.9v0.9h-0.9zM52.2 426.7h0.9v0.9h-0.9zM47.6 426.3h0.9v0.9h-0.9zM53.2 426.7h0.9v0.9h-0.9zM52.3 424.5h0.9v0.9h-0.9zM46.1 429.1h0.9v0.9h-0.9zM53.9 429.9h0.9v0.9h-0.9zM49.4 432.5h0.9v0.9h-0.9zM54.4 428.4h0.9v0.9h-0.9zM51.9 430.4h0.9v0.9h-0.9zM45.5 427.8h0.9v0.9h-0.9zM50.6 432.4h0.9v0.9h-0.9zM54.1 429.8h0.9v0.9h-0.9zM50.2 433.8h0.9v0.9h-0.9zM48.2 434.0h0.9v0.9h-0.9zM51.9 426.4h0.9v0.9h-0.9zM52.3 426.0h0.9v0.9h-0.9zM47.5 433.4h0.9v0.9h-0.9zM52.7 424.7h0.9v0.9h-0.9zM47.5 426.9h0.9v0.9h-0.9zM49.7 424.6h0.9v0.9h-0.9zM46.8 432.8h0.9v0.9h-0.9zM48.9 426.7h0.9v0.9h-0.9zM52.2 425.1h0.9v0.9h-0.9zM52.1 431.8h0.9v0.9h-0.9zM53.0 424.3h0.9v0.9h-0.9zM45.4 433.3h0.9v0.9h-0.9zM45.8 432.8h0.9v0.9h-0.9z"/>
<path fill="#98aee6" d="M40.4 436.9h0.9v0.9h-0.9zM59.8 418.4h0.9v0.9h-0.9zM42.9 438.0h0.9v0.9h-0.9zM58.0 426.8h0.9v0.9h-0.9zM45.7 422.8h0.9v0.9h-0.9zM40.9 428.3h0.9v0.9h-0.9zM54.8 416.8h0.9v0.9h-0.9zM40.9 433.7h0.9v0.9h-0.9zM55.1 420.8h0.9v0.9h-0.9zM52.8 435.5h0.9v0.9h-0.9zM38.2 437.1h0.9v0.9h-0.9zM52.1 418.1h0.9v0.9h-0.9zM49.6 437.0h0.9v0.9h-0.9zM52.9 435.5h0.9v0.9h-0.9zM51.3 420.2h0.9v0.9h-0.9zM53.1 418.5h0.9v0.9h-0.9zM39.9 428.2h0.9v0.9h-0.9zM59.3 419.1h0.9v0.9h-0.9zM42.7 437.0h0.9v0.9h-0.9zM46.2 416.8h0.9v0.9h-0.9zM54.3 421.2h0.9v0.9h-0.9zM60.2 426.5h0.9v0.9h-0.9zM57.7 430.5h0.9v0.9h-0.9zM41.6 436.9h0.9v0.9h-0.9zM42.1 437.3h0.9v0.9h-0.9zM44.4 422.2h0.9v0.9h-0.9zM55.6 433.3h0.9v0.9h-0.9zM39.1 433.4h0.9v0.9h-0.9zM61.8 425.8h0.9v0.9h-0.9zM46.3 437.3h0.9v0.9h-0.9zM39.9 437.6h0.9v0.9h-0.9zM48.7 414.3h0.9v0.9h-0.9zM54.9 421.1h0.9v0.9h-0.9zM56.8 422.6h0.9v0.9h-0.9zM57.0 433.3h0.9v0.9h-0.9zM50.9 420.2h0.9v0.9h-0.9zM44.4 437.2h0.9v0.9h-0.9zM40.7 429.2h0.9v0.9h-0.9zM41.5 433.4h0.9v0.9h-0.9zM56.4 431.6h0.9v0.9h-0.9zM52.4 435.9h0.9v0.9h-0.9zM57.1 433.6h0.9v0.9h-0.9zM57.3 417.2h0.9v0.9h-0.9zM52.3 419.8h0.9v0.9h-0.9zM38.6 434.3h0.9v0.9h-0.9zM58.2 428.3h0.9v0.9h-0.9zM50.9 438.1h0.9v0.9h-0.9zM58.3 423.8h0.9v0.9h-0.9zM52.9 435.1h0.9v0.9h-0.9zM56.8 431.0h0.9v0.9h-0.9zM40.0 430.3h0.9v0.9h-0.9zM57.2 419.7h0.9v0.9h-0.9zM57.6 422.2h0.9v0.9h-0.9zM54.9 421.2h0.9v0.9h-0.9zM48.1 437.1h0.9v0.9h-0.9z"/>
<path fill="#4a78d0" d="M51.3 431.4h0.9v0.9h-0.9zM54.6 426.5h0.9v0.9h-0.9zM50.3 433.3h0.9v0.9h-0.9zM51.9 430.5h0.9v0.9h-0.9zM46.4 431.7h0.9v0.9h-0.9zM48.4 426.9h0.9v0.9h-0.9zM46.5 432.0h0.9v0.9h-0.9zM46.9 428.7h0.9v0.9h-0.9zM49.8 424.9h0.9v0.9h-0.9zM53.5 427.1h0.9v0.9h-0.9zM49.9 433.0h0.9v0.9h-0.9zM52.2 426.2h0.9v0.9h-0.9zM51.9 432.6h0.9v0.9h-0.9zM49.3 433.6h0.9v0.9h-0.9zM52.5 430.3h0.9v0.9h-0.9zM46.2 431.8h0.9v0.9h-0.9zM46.6 433.7h0.9v0.9h-0.9zM50.3 431.3h0.9v0.9h-0.9zM51.8 429.9h0.9v0.9h-0.9zM53.4 424.7h0.9v0.9h-0.9zM48.0 432.8h0.9v0.9h-0.9zM50.7 433.4h0.9v0.9h-0.9zM44.8 431.2h0.9v0.9h-0.9zM52.1 431.3h0.9v0.9h-0.9zM45.2 432.2h0.9v0.9h-0.9zM52.3 431.8h0.9v0.9h-0.9zM52.0 427.0h0.9v0.9h-0.9zM45.0 429.3h0.9v0.9h-0.9zM50.3 432.1h0.9v0.9h-0.9zM46.2 431.7h0.9v0.9h-0.9zM51.1 432.6h0.9v0.9h-0.9zM49.0 426.0h0.9v0.9h-0.9zM45.3 430.1h0.9v0.9h-0.9zM46.8 426.5h0.9v0.9h-0.9zM46.7 431.7h0.9v0.9h-0.9zM53.7 428.0h0.9v0.9h-0.9zM47.2 432.1h0.9v0.9h-0.9zM53.8 428.6h0.9v0.9h-0.9zM52.7 428.4h0.9v0.9h-0.9zM51.3 424.4h0.9v0.9h-0.9z"/>
<path fill="#4cbcaa" d="M47.1 429.6h0.9v0.9h-0.9zM48.7 428.4h0.9v0.9h-0.9zM50.3 428.3h0.9v0.9h-0.9zM49.3 427.2h0.9v0.9h-0.9zM47.5 430.7h0.9v0.9h-0.9zM49.4 427.1h0.9v0.9h-0.9zM48.8 427.5h0.9v0.9h-0.9zM47.4 429.8h0.9v0.9h-0.9zM47.3 429.7h0.9v0.9h-0.9zM49.2 427.2h0.9v0.9h-0.9zM47.4 430.9h0.9v0.9h-0.9zM47.1 429.3h0.9v0.9h-0.9zM47.7 428.3h0.9v0.9h-0.9zM48.9 429.0h0.9v0.9h-0.9zM50.6 428.6h0.9v0.9h-0.9zM48.6 427.7h0.9v0.9h-0.9zM51.1 426.5h0.9v0.9h-0.9zM50.1 427.7h0.9v0.9h-0.9zM48.1 427.7h0.9v0.9h-0.9zM51.5 429.1h0.9v0.9h-0.9zM47.9 430.2h0.9v0.9h-0.9z"/>
<path fill="#5688d8" d="M45.1 430.8h0.9v0.9h-0.9zM49.7 425.2h0.9v0.9h-0.9zM48.9 431.9h0.9v0.9h-0.9zM46.7 429.4h0.9v0.9h-0.9zM47.2 426.6h0.9v0.9h-0.9zM46.6 433.0h0.9v0.9h-0.9zM52.9 429.8h0.9v0.9h-0.9zM53.0 425.9h0.9v0.9h-0.9zM45.3 427.4h0.9v0.9h-0.9zM51.0 432.7h0.9v0.9h-0.9zM46.4 432.4h0.9v0.9h-0.9zM52.8 425.6h0.9v0.9h-0.9zM52.8 427.8h0.9v0.9h-0.9zM46.1 432.6h0.9v0.9h-0.9zM44.8 430.6h0.9v0.9h-0.9zM45.9 428.4h0.9v0.9h-0.9zM44.7 432.2h0.9v0.9h-0.9zM50.5 424.2h0.9v0.9h-0.9zM47.8 425.2h0.9v0.9h-0.9zM49.4 426.3h0.9v0.9h-0.9zM46.9 428.8h0.9v0.9h-0.9zM52.0 430.3h0.9v0.9h-0.9zM52.7 429.4h0.9v0.9h-0.9zM47.1 425.9h0.9v0.9h-0.9zM53.8 424.8h0.9v0.9h-0.9zM45.9 432.1h0.9v0.9h-0.9zM53.3 425.8h0.9v0.9h-0.9zM44.9 428.2h0.9v0.9h-0.9zM50.9 424.4h0.9v0.9h-0.9zM54.3 426.1h0.9v0.9h-0.9zM51.4 431.5h0.9v0.9h-0.9zM49.6 432.6h0.9v0.9h-0.9zM52.0 426.1h0.9v0.9h-0.9zM47.9 426.2h0.9v0.9h-0.9zM45.1 430.1h0.9v0.9h-0.9zM45.9 426.9h0.9v0.9h-0.9zM45.1 431.5h0.9v0.9h-0.9zM49.6 426.1h0.9v0.9h-0.9zM48.5 425.2h0.9v0.9h-0.9zM44.8 430.8h0.9v0.9h-0.9zM52.3 424.5h0.9v0.9h-0.9zM48.4 432.8h0.9v0.9h-0.9zM51.9 425.3h0.9v0.9h-0.9zM53.2 425.5h0.9v0.9h-0.9zM50.0 425.5h0.9v0.9h-0.9zM49.7 424.4h0.9v0.9h-0.9zM50.6 431.4h0.9v0.9h-0.9zM47.3 428.0h0.9v0.9h-0.9zM50.1 424.3h0.9v0.9h-0.9zM48.8 425.4h0.9v0.9h-0.9zM54.1 428.5h0.9v0.9h-0.9zM53.4 428.9h0.9v0.9h-0.9zM50.3 432.5h0.9v0.9h-0.9zM45.0 430.1h0.9v0.9h-0.9zM47.0 432.9h0.9v0.9h-0.9zM49.1 426.2h0.9v0.9h-0.9zM49.2 424.8h0.9v0.9h-0.9zM51.5 432.5h0.9v0.9h-0.9zM47.3 433.8h0.9v0.9h-0.9zM50.1 425.6h0.9v0.9h-0.9zM53.0 427.5h0.9v0.9h-0.9zM51.8 430.9h0.9v0.9h-0.9zM47.6 426.1h0.9v0.9h-0.9zM52.6 428.4h0.9v0.9h-0.9zM50.2 432.4h0.9v0.9h-0.9zM53.4 426.7h0.9v0.9h-0.9zM52.1 424.6h0.9v0.9h-0.9z"/>
<path fill="#bccaf0" d="M55.1 421.1h0.9v0.9h-0.9zM46.3 438.5h0.9v0.9h-0.9zM39.6 427.9h0.9v0.9h-0.9zM47.4 437.5h0.9v0.9h-0.9zM51.9 415.2h0.9v0.9h-0.9zM41.1 432.3h0.9v0.9h-0.9zM49.1 437.7h0.9v0.9h-0.9zM41.2 437.6h0.9v0.9h-0.9zM57.7 433.2h0.9v0.9h-0.9zM54.8 434.5h0.9v0.9h-0.9zM52.7 437.0h0.9v0.9h-0.9zM55.9 435.5h0.9v0.9h-0.9zM48.3 421.1h0.9v0.9h-0.9zM43.4 424.1h0.9v0.9h-0.9zM43.0 436.3h0.9v0.9h-0.9zM58.4 426.1h0.9v0.9h-0.9zM51.5 436.8h0.9v0.9h-0.9zM60.9 420.2h0.9v0.9h-0.9zM43.7 418.7h0.9v0.9h-0.9zM64.3 433.7h0.9v0.9h-0.9zM47.2 437.8h0.9v0.9h-0.9zM44.9 423.7h0.9v0.9h-0.9zM59.0 427.4h0.9v0.9h-0.9zM42.2 419.8h0.9v0.9h-0.9zM56.5 418.3h0.9v0.9h-0.9zM58.9 421.5h0.9v0.9h-0.9zM56.5 413.3h0.9v0.9h-0.9zM46.9 420.2h0.9v0.9h-0.9zM63.7 428.0h0.9v0.9h-0.9zM43.5 421.1h0.9v0.9h-0.9zM43.5 421.6h0.9v0.9h-0.9zM57.3 429.9h0.9v0.9h-0.9zM60.4 424.0h0.9v0.9h-0.9zM57.8 422.9h0.9v0.9h-0.9zM58.1 429.8h0.9v0.9h-0.9zM41.9 425.9h0.9v0.9h-0.9zM57.3 421.5h0.9v0.9h-0.9zM44.7 438.1h0.9v0.9h-0.9zM57.7 418.3h0.9v0.9h-0.9zM40.6 429.1h0.9v0.9h-0.9z"/>
<path d="M55.20,439.00 L55.20,416.70 L71.80,416.70 L71.80,439.00" fill="none" stroke="#999" stroke-width="0.8"/>
<rect x="36.60" y="389.60" width="47.40" height="49.40" fill="none" stroke="#666" stroke-width="0.9"/>
<text transform="translate(61.60,402.50) scale(0.862,1)" font-size="7.54" text-anchor="middle" fill="#333" style="stroke-width:0.06px">CD34</text>
<text transform="translate(61.60,410.00) scale(0.862,1)" font-size="7.54" text-anchor="middle" fill="#333" style="stroke-width:0.06px">3.94%</text>
<rect x="88.60" y="389.60" width="47.40" height="49.40" fill="#fff"/>
<path fill="#c6cdea" d="M95.2 428.6h.6v.6h-.6zM95.9 431.0h.6v.6h-.6zM109.6 423.0h.6v.6h-.6zM109.9 427.4h.6v.6h-.6zM91.9 426.5h.6v.6h-.6zM109.9 426.3h.6v.6h-.6zM118.0 431.5h.6v.6h-.6zM102.4 419.1h.6v.6h-.6zM94.6 433.4h.6v.6h-.6zM112.1 428.5h.6v.6h-.6zM104.4 425.8h.6v.6h-.6zM97.5 426.5h.6v.6h-.6zM95.1 428.8h.6v.6h-.6zM110.2 430.0h.6v.6h-.6zM98.3 415.8h.6v.6h-.6zM101.0 430.4h.6v.6h-.6zM106.5 431.8h.6v.6h-.6zM104.0 423.3h.6v.6h-.6zM118.9 417.7h.6v.6h-.6zM97.1 428.0h.6v.6h-.6zM110.3 424.2h.6v.6h-.6zM108.0 424.4h.6v.6h-.6zM111.4 435.3h.6v.6h-.6zM116.3 429.2h.6v.6h-.6zM105.3 436.7h.6v.6h-.6zM104.5 428.9h.6v.6h-.6zM117.7 430.3h.6v.6h-.6zM102.8 431.7h.6v.6h-.6zM109.3 435.9h.6v.6h-.6zM110.0 426.6h.6v.6h-.6z"/>
<path fill="#a7bbea" d="M110.0 422.6h0.9v0.9h-0.9zM107.0 423.5h0.9v0.9h-0.9zM113.0 418.8h0.9v0.9h-0.9zM101.2 438.0h0.9v0.9h-0.9zM93.6 423.7h0.9v0.9h-0.9zM107.1 421.2h0.9v0.9h-0.9zM91.3 434.7h0.9v0.9h-0.9zM108.6 429.1h0.9v0.9h-0.9zM98.0 420.2h0.9v0.9h-0.9zM92.7 416.3h0.9v0.9h-0.9zM90.3 423.0h0.9v0.9h-0.9zM91.3 425.7h0.9v0.9h-0.9zM105.7 431.6h0.9v0.9h-0.9zM90.2 437.3h0.9v0.9h-0.9zM108.4 421.8h0.9v0.9h-0.9zM91.3 434.8h0.9v0.9h-0.9zM110.2 429.3h0.9v0.9h-0.9zM99.0 437.8h0.9v0.9h-0.9zM107.5 434.4h0.9v0.9h-0.9zM97.0 420.6h0.9v0.9h-0.9zM109.1 436.2h0.9v0.9h-0.9zM91.3 427.8h0.9v0.9h-0.9zM103.7 414.6h0.9v0.9h-0.9zM107.1 434.5h0.9v0.9h-0.9zM91.6 434.9h0.9v0.9h-0.9zM107.0 423.0h0.9v0.9h-0.9zM97.6 421.3h0.9v0.9h-0.9zM110.4 431.1h0.9v0.9h-0.9zM94.4 438.0h0.9v0.9h-0.9zM108.1 422.0h0.9v0.9h-0.9zM103.3 417.2h0.9v0.9h-0.9zM101.6 417.7h0.9v0.9h-0.9zM101.3 436.7h0.9v0.9h-0.9zM103.7 436.4h0.9v0.9h-0.9zM109.0 434.4h0.9v0.9h-0.9zM104.4 438.1h0.9v0.9h-0.9zM109.0 426.1h0.9v0.9h-0.9zM98.8 419.5h0.9v0.9h-0.9zM99.1 419.5h0.9v0.9h-0.9zM89.9 429.6h0.9v0.9h-0.9zM90.0 433.7h0.9v0.9h-0.9zM90.7 432.5h0.9v0.9h-0.9zM107.3 421.9h0.9v0.9h-0.9zM104.5 433.8h0.9v0.9h-0.9zM100.8 418.9h0.9v0.9h-0.9z"/>
<path fill="#3a9cc4" d="M102.6 430.2h0.9v0.9h-0.9zM103.0 425.1h0.9v0.9h-0.9zM98.9 426.5h0.9v0.9h-0.9zM103.1 429.2h0.9v0.9h-0.9zM99.6 429.8h0.9v0.9h-0.9zM100.9 427.9h0.9v0.9h-0.9zM97.0 426.5h0.9v0.9h-0.9zM101.3 430.0h0.9v0.9h-0.9zM98.7 431.4h0.9v0.9h-0.9zM95.9 429.6h0.9v0.9h-0.9zM102.0 425.0h0.9v0.9h-0.9zM96.2 429.8h0.9v0.9h-0.9zM101.0 429.8h0.9v0.9h-0.9zM98.8 433.2h0.9v0.9h-0.9zM100.1 432.6h0.9v0.9h-0.9zM102.3 427.7h0.9v0.9h-0.9zM99.5 429.6h0.9v0.9h-0.9zM97.8 430.8h0.9v0.9h-0.9zM101.2 431.4h0.9v0.9h-0.9zM94.2 431.1h0.9v0.9h-0.9zM96.3 425.4h0.9v0.9h-0.9zM97.0 428.2h0.9v0.9h-0.9zM95.6 431.4h0.9v0.9h-0.9zM99.6 430.0h0.9v0.9h-0.9zM98.1 427.5h0.9v0.9h-0.9zM99.0 424.2h0.9v0.9h-0.9zM97.2 431.6h0.9v0.9h-0.9zM101.8 427.8h0.9v0.9h-0.9zM95.8 432.1h0.9v0.9h-0.9zM100.2 431.3h0.9v0.9h-0.9zM101.0 430.7h0.9v0.9h-0.9zM96.6 430.8h0.9v0.9h-0.9zM101.2 430.1h0.9v0.9h-0.9zM98.9 424.8h0.9v0.9h-0.9zM96.3 426.3h0.9v0.9h-0.9zM98.0 427.7h0.9v0.9h-0.9zM101.2 428.5h0.9v0.9h-0.9zM94.9 429.1h0.9v0.9h-0.9zM97.9 428.8h0.9v0.9h-0.9zM99.9 428.9h0.9v0.9h-0.9zM96.1 425.9h0.9v0.9h-0.9zM97.6 429.0h0.9v0.9h-0.9zM101.1 426.1h0.9v0.9h-0.9zM103.3 427.3h0.9v0.9h-0.9zM100.2 428.6h0.9v0.9h-0.9zM96.7 427.0h0.9v0.9h-0.9zM96.1 430.2h0.9v0.9h-0.9zM96.0 434.0h0.9v0.9h-0.9zM99.7 427.1h0.9v0.9h-0.9zM102.6 427.7h0.9v0.9h-0.9zM102.1 424.8h0.9v0.9h-0.9zM98.8 425.3h0.9v0.9h-0.9zM100.1 426.9h0.9v0.9h-0.9zM102.0 429.2h0.9v0.9h-0.9zM95.0 428.8h0.9v0.9h-0.9zM100.3 424.8h0.9v0.9h-0.9zM99.9 427.6h0.9v0.9h-0.9zM95.4 427.4h0.9v0.9h-0.9zM100.8 427.8h0.9v0.9h-0.9zM95.6 433.6h0.9v0.9h-0.9zM96.3 433.6h0.9v0.9h-0.9zM96.2 426.0h0.9v0.9h-0.9zM100.9 424.7h0.9v0.9h-0.9zM103.2 425.2h0.9v0.9h-0.9zM100.0 425.6h0.9v0.9h-0.9zM96.1 429.7h0.9v0.9h-0.9zM101.3 432.0h0.9v0.9h-0.9zM94.4 427.9h0.9v0.9h-0.9zM99.5 426.1h0.9v0.9h-0.9zM96.5 427.3h0.9v0.9h-0.9zM97.1 432.5h0.9v0.9h-0.9zM94.6 427.8h0.9v0.9h-0.9zM103.7 428.2h0.9v0.9h-0.9zM101.3 430.0h0.9v0.9h-0.9zM99.7 424.7h0.9v0.9h-0.9zM98.1 430.3h0.9v0.9h-0.9zM103.9 428.1h0.9v0.9h-0.9zM100.0 426.3h0.9v0.9h-0.9zM101.3 428.4h0.9v0.9h-0.9zM100.5 426.8h0.9v0.9h-0.9zM100.9 425.6h0.9v0.9h-0.9zM99.6 425.0h0.9v0.9h-0.9z"/>
<path fill="#89a2e2" d="M98.2 422.4h0.9v0.9h-0.9zM104.5 425.5h0.9v0.9h-0.9zM96.0 425.5h0.9v0.9h-0.9zM103.5 423.1h0.9v0.9h-0.9zM92.2 430.7h0.9v0.9h-0.9zM105.3 429.5h0.9v0.9h-0.9zM103.7 422.1h0.9v0.9h-0.9zM98.4 435.4h0.9v0.9h-0.9zM93.1 432.3h0.9v0.9h-0.9zM104.1 431.3h0.9v0.9h-0.9zM100.1 421.4h0.9v0.9h-0.9zM91.5 432.9h0.9v0.9h-0.9zM93.0 435.8h0.9v0.9h-0.9zM93.3 430.3h0.9v0.9h-0.9zM98.6 436.5h0.9v0.9h-0.9zM99.8 435.0h0.9v0.9h-0.9zM96.5 434.8h0.9v0.9h-0.9zM103.1 432.5h0.9v0.9h-0.9zM94.8 434.4h0.9v0.9h-0.9zM100.8 422.2h0.9v0.9h-0.9zM90.9 432.8h0.9v0.9h-0.9zM91.5 431.1h0.9v0.9h-0.9zM95.9 425.3h0.9v0.9h-0.9zM101.7 423.9h0.9v0.9h-0.9zM93.8 426.2h0.9v0.9h-0.9zM101.1 422.8h0.9v0.9h-0.9zM98.0 434.8h0.9v0.9h-0.9zM102.1 421.6h0.9v0.9h-0.9zM94.1 426.4h0.9v0.9h-0.9zM104.2 422.8h0.9v0.9h-0.9zM102.8 423.6h0.9v0.9h-0.9zM91.4 432.6h0.9v0.9h-0.9zM104.7 429.7h0.9v0.9h-0.9zM101.0 435.2h0.9v0.9h-0.9zM106.1 424.2h0.9v0.9h-0.9zM102.7 431.3h0.9v0.9h-0.9zM105.9 429.3h0.9v0.9h-0.9zM93.0 430.4h0.9v0.9h-0.9zM104.4 428.5h0.9v0.9h-0.9zM96.7 424.6h0.9v0.9h-0.9zM94.0 432.7h0.9v0.9h-0.9zM93.0 434.1h0.9v0.9h-0.9zM98.7 422.4h0.9v0.9h-0.9zM95.4 424.1h0.9v0.9h-0.9zM100.0 423.2h0.9v0.9h-0.9zM103.7 423.4h0.9v0.9h-0.9zM91.8 428.0h0.9v0.9h-0.9zM104.6 423.8h0.9v0.9h-0.9zM103.9 433.1h0.9v0.9h-0.9zM96.4 425.0h0.9v0.9h-0.9zM104.6 422.6h0.9v0.9h-0.9zM96.3 425.3h0.9v0.9h-0.9zM93.8 424.4h0.9v0.9h-0.9zM100.1 423.7h0.9v0.9h-0.9zM98.3 434.5h0.9v0.9h-0.9zM103.7 432.8h0.9v0.9h-0.9zM95.2 424.8h0.9v0.9h-0.9zM94.2 427.6h0.9v0.9h-0.9zM92.9 430.1h0.9v0.9h-0.9zM91.8 431.7h0.9v0.9h-0.9zM99.0 435.4h0.9v0.9h-0.9zM102.6 423.5h0.9v0.9h-0.9zM103.4 424.9h0.9v0.9h-0.9zM105.8 425.4h0.9v0.9h-0.9zM97.8 436.2h0.9v0.9h-0.9zM104.6 428.2h0.9v0.9h-0.9zM92.9 430.7h0.9v0.9h-0.9zM93.7 434.3h0.9v0.9h-0.9zM96.3 424.2h0.9v0.9h-0.9zM100.4 435.4h0.9v0.9h-0.9zM103.5 430.5h0.9v0.9h-0.9zM104.2 430.0h0.9v0.9h-0.9zM99.3 435.8h0.9v0.9h-0.9zM104.2 429.0h0.9v0.9h-0.9zM93.8 434.8h0.9v0.9h-0.9zM92.4 427.0h0.9v0.9h-0.9zM97.5 422.4h0.9v0.9h-0.9zM106.0 427.2h0.9v0.9h-0.9zM97.0 423.7h0.9v0.9h-0.9zM98.7 434.4h0.9v0.9h-0.9zM104.4 425.0h0.9v0.9h-0.9z"/>
<path fill="#4a78d0" d="M98.8 432.2h0.9v0.9h-0.9zM95.5 428.7h0.9v0.9h-0.9zM99.7 424.6h0.9v0.9h-0.9zM101.4 426.6h0.9v0.9h-0.9zM98.9 432.1h0.9v0.9h-0.9zM102.1 430.7h0.9v0.9h-0.9zM103.6 428.6h0.9v0.9h-0.9zM98.1 424.4h0.9v0.9h-0.9zM101.6 431.4h0.9v0.9h-0.9zM101.8 431.9h0.9v0.9h-0.9zM100.7 424.3h0.9v0.9h-0.9zM95.6 430.6h0.9v0.9h-0.9zM99.2 432.5h0.9v0.9h-0.9zM96.9 433.7h0.9v0.9h-0.9zM101.1 430.0h0.9v0.9h-0.9zM96.4 433.5h0.9v0.9h-0.9zM100.7 426.2h0.9v0.9h-0.9zM102.1 427.1h0.9v0.9h-0.9zM94.8 433.5h0.9v0.9h-0.9zM102.4 429.7h0.9v0.9h-0.9zM100.1 430.9h0.9v0.9h-0.9zM94.6 432.7h0.9v0.9h-0.9zM97.7 425.8h0.9v0.9h-0.9zM99.8 432.0h0.9v0.9h-0.9zM96.1 433.1h0.9v0.9h-0.9zM103.1 428.4h0.9v0.9h-0.9zM96.9 426.2h0.9v0.9h-0.9zM99.1 431.9h0.9v0.9h-0.9zM98.4 432.3h0.9v0.9h-0.9zM96.1 428.1h0.9v0.9h-0.9zM98.6 425.4h0.9v0.9h-0.9zM100.0 425.1h0.9v0.9h-0.9zM95.7 430.6h0.9v0.9h-0.9zM98.5 426.1h0.9v0.9h-0.9zM97.2 426.8h0.9v0.9h-0.9zM103.8 427.7h0.9v0.9h-0.9zM100.4 426.0h0.9v0.9h-0.9zM95.0 428.3h0.9v0.9h-0.9zM103.3 426.7h0.9v0.9h-0.9zM96.6 431.7h0.9v0.9h-0.9zM96.4 426.8h0.9v0.9h-0.9zM100.0 433.0h0.9v0.9h-0.9zM102.1 428.2h0.9v0.9h-0.9zM99.3 425.0h0.9v0.9h-0.9zM100.6 424.7h0.9v0.9h-0.9zM100.6 424.1h0.9v0.9h-0.9zM101.4 425.9h0.9v0.9h-0.9zM94.9 433.3h0.9v0.9h-0.9zM94.4 430.4h0.9v0.9h-0.9zM100.5 432.3h0.9v0.9h-0.9zM96.6 431.2h0.9v0.9h-0.9zM101.5 425.5h0.9v0.9h-0.9zM102.6 430.7h0.9v0.9h-0.9zM100.7 425.3h0.9v0.9h-0.9zM101.6 425.1h0.9v0.9h-0.9zM103.0 430.5h0.9v0.9h-0.9zM101.0 432.3h0.9v0.9h-0.9zM98.7 432.6h0.9v0.9h-0.9zM102.3 429.1h0.9v0.9h-0.9zM98.4 434.0h0.9v0.9h-0.9z"/>
<path fill="#4f80d4" d="M96.3 428.4h0.9v0.9h-0.9zM104.0 427.3h0.9v0.9h-0.9zM99.9 424.5h0.9v0.9h-0.9zM97.9 425.9h0.9v0.9h-0.9zM102.3 430.9h0.9v0.9h-0.9zM101.7 431.6h0.9v0.9h-0.9zM97.8 432.5h0.9v0.9h-0.9zM96.1 431.7h0.9v0.9h-0.9zM95.4 427.2h0.9v0.9h-0.9zM100.7 430.5h0.9v0.9h-0.9zM102.5 429.6h0.9v0.9h-0.9zM96.7 432.0h0.9v0.9h-0.9zM96.5 427.4h0.9v0.9h-0.9zM99.8 432.7h0.9v0.9h-0.9zM100.0 423.8h0.9v0.9h-0.9zM96.0 434.0h0.9v0.9h-0.9zM95.8 428.3h0.9v0.9h-0.9zM93.7 430.0h0.9v0.9h-0.9zM95.8 430.5h0.9v0.9h-0.9zM97.0 433.1h0.9v0.9h-0.9zM100.9 431.7h0.9v0.9h-0.9zM96.0 429.7h0.9v0.9h-0.9zM103.3 428.6h0.9v0.9h-0.9zM101.0 424.8h0.9v0.9h-0.9zM101.2 430.7h0.9v0.9h-0.9zM99.3 433.0h0.9v0.9h-0.9zM96.6 432.4h0.9v0.9h-0.9zM102.7 426.5h0.9v0.9h-0.9zM95.8 432.4h0.9v0.9h-0.9zM95.4 428.7h0.9v0.9h-0.9zM103.0 428.9h0.9v0.9h-0.9zM103.2 429.0h0.9v0.9h-0.9zM102.8 429.0h0.9v0.9h-0.9zM97.1 427.1h0.9v0.9h-0.9zM99.4 431.5h0.9v0.9h-0.9zM103.5 428.4h0.9v0.9h-0.9zM100.4 431.2h0.9v0.9h-0.9zM102.7 427.6h0.9v0.9h-0.9zM99.9 433.4h0.9v0.9h-0.9zM94.6 432.9h0.9v0.9h-0.9zM95.9 431.9h0.9v0.9h-0.9zM100.2 425.2h0.9v0.9h-0.9zM96.2 430.5h0.9v0.9h-0.9zM99.3 432.7h0.9v0.9h-0.9zM98.3 431.7h0.9v0.9h-0.9zM103.7 428.4h0.9v0.9h-0.9zM96.6 433.9h0.9v0.9h-0.9zM101.4 431.0h0.9v0.9h-0.9zM100.2 432.8h0.9v0.9h-0.9zM95.5 428.6h0.9v0.9h-0.9zM99.0 433.6h0.9v0.9h-0.9zM101.0 429.9h0.9v0.9h-0.9zM97.2 432.6h0.9v0.9h-0.9zM99.7 424.8h0.9v0.9h-0.9zM95.8 427.3h0.9v0.9h-0.9zM104.0 427.8h0.9v0.9h-0.9z"/>
<path fill="#98aee6" d="M93.2 424.4h0.9v0.9h-0.9zM91.1 422.3h0.9v0.9h-0.9zM102.5 417.9h0.9v0.9h-0.9zM94.2 421.1h0.9v0.9h-0.9zM102.0 418.4h0.9v0.9h-0.9zM106.5 430.8h0.9v0.9h-0.9zM110.1 428.4h0.9v0.9h-0.9zM99.7 437.0h0.9v0.9h-0.9zM92.5 436.7h0.9v0.9h-0.9zM93.4 438.5h0.9v0.9h-0.9zM107.4 421.7h0.9v0.9h-0.9zM94.5 437.0h0.9v0.9h-0.9zM92.0 424.7h0.9v0.9h-0.9zM90.5 430.3h0.9v0.9h-0.9zM90.5 429.8h0.9v0.9h-0.9zM103.1 434.4h0.9v0.9h-0.9zM91.6 426.2h0.9v0.9h-0.9zM95.1 418.0h0.9v0.9h-0.9zM108.4 424.4h0.9v0.9h-0.9zM107.5 421.3h0.9v0.9h-0.9zM93.1 424.5h0.9v0.9h-0.9zM106.1 421.2h0.9v0.9h-0.9zM90.8 427.6h0.9v0.9h-0.9zM90.9 435.6h0.9v0.9h-0.9zM90.9 437.8h0.9v0.9h-0.9zM106.5 431.0h0.9v0.9h-0.9zM114.4 422.0h0.9v0.9h-0.9zM94.6 416.3h0.9v0.9h-0.9zM94.9 421.5h0.9v0.9h-0.9zM96.8 420.8h0.9v0.9h-0.9zM92.6 424.6h0.9v0.9h-0.9zM102.8 436.4h0.9v0.9h-0.9zM109.9 423.9h0.9v0.9h-0.9zM96.0 422.2h0.9v0.9h-0.9zM91.7 436.5h0.9v0.9h-0.9zM104.6 419.7h0.9v0.9h-0.9zM93.0 423.8h0.9v0.9h-0.9zM93.9 423.8h0.9v0.9h-0.9z"/>
<path fill="#5688d8" d="M101.9 424.9h0.9v0.9h-0.9zM100.1 431.1h0.9v0.9h-0.9zM97.6 432.3h0.9v0.9h-0.9zM96.1 429.6h0.9v0.9h-0.9zM95.7 427.5h0.9v0.9h-0.9zM103.5 426.8h0.9v0.9h-0.9zM95.8 428.7h0.9v0.9h-0.9zM100.9 425.9h0.9v0.9h-0.9zM102.1 427.8h0.9v0.9h-0.9zM97.5 431.6h0.9v0.9h-0.9zM95.3 429.4h0.9v0.9h-0.9zM94.5 432.3h0.9v0.9h-0.9zM103.4 426.8h0.9v0.9h-0.9zM100.1 432.4h0.9v0.9h-0.9zM99.2 432.5h0.9v0.9h-0.9zM100.4 426.5h0.9v0.9h-0.9zM100.6 424.1h0.9v0.9h-0.9zM94.4 428.3h0.9v0.9h-0.9zM101.5 426.5h0.9v0.9h-0.9zM95.6 428.4h0.9v0.9h-0.9zM100.8 431.1h0.9v0.9h-0.9zM100.5 426.2h0.9v0.9h-0.9zM99.5 425.9h0.9v0.9h-0.9zM97.2 433.6h0.9v0.9h-0.9zM95.9 431.1h0.9v0.9h-0.9zM98.2 434.2h0.9v0.9h-0.9zM101.8 429.2h0.9v0.9h-0.9zM102.1 429.4h0.9v0.9h-0.9zM94.7 427.6h0.9v0.9h-0.9zM103.0 429.0h0.9v0.9h-0.9zM98.6 424.4h0.9v0.9h-0.9zM103.7 428.5h0.9v0.9h-0.9zM100.1 432.5h0.9v0.9h-0.9zM101.4 426.9h0.9v0.9h-0.9zM99.1 423.9h0.9v0.9h-0.9zM96.2 430.4h0.9v0.9h-0.9zM100.5 431.6h0.9v0.9h-0.9zM96.6 432.8h0.9v0.9h-0.9z"/>
<path fill="#6a8cdc" d="M106.0 426.8h0.9v0.9h-0.9zM98.3 422.5h0.9v0.9h-0.9zM97.9 424.1h0.9v0.9h-0.9zM104.9 424.6h0.9v0.9h-0.9zM92.7 427.1h0.9v0.9h-0.9zM92.1 434.4h0.9v0.9h-0.9zM106.5 427.9h0.9v0.9h-0.9zM98.2 423.6h0.9v0.9h-0.9zM94.6 424.4h0.9v0.9h-0.9zM97.4 436.9h0.9v0.9h-0.9zM104.5 424.7h0.9v0.9h-0.9zM96.0 425.4h0.9v0.9h-0.9zM102.7 422.1h0.9v0.9h-0.9zM105.9 430.4h0.9v0.9h-0.9zM97.9 423.3h0.9v0.9h-0.9zM105.7 426.5h0.9v0.9h-0.9zM93.4 432.7h0.9v0.9h-0.9zM94.1 434.1h0.9v0.9h-0.9zM93.1 431.3h0.9v0.9h-0.9zM91.8 429.7h0.9v0.9h-0.9zM106.0 426.5h0.9v0.9h-0.9zM104.9 427.5h0.9v0.9h-0.9zM94.2 433.9h0.9v0.9h-0.9zM103.5 430.0h0.9v0.9h-0.9zM93.3 432.9h0.9v0.9h-0.9zM97.3 435.8h0.9v0.9h-0.9zM96.7 422.5h0.9v0.9h-0.9zM96.1 435.2h0.9v0.9h-0.9zM92.7 432.7h0.9v0.9h-0.9zM105.5 424.3h0.9v0.9h-0.9zM98.7 435.8h0.9v0.9h-0.9zM102.5 432.0h0.9v0.9h-0.9zM104.6 429.0h0.9v0.9h-0.9zM98.9 434.1h0.9v0.9h-0.9zM96.6 423.3h0.9v0.9h-0.9zM92.4 426.4h0.9v0.9h-0.9zM97.2 424.5h0.9v0.9h-0.9zM102.1 422.7h0.9v0.9h-0.9zM94.8 425.9h0.9v0.9h-0.9zM102.2 423.5h0.9v0.9h-0.9zM92.0 432.9h0.9v0.9h-0.9zM93.7 424.9h0.9v0.9h-0.9zM92.2 426.8h0.9v0.9h-0.9zM95.4 425.8h0.9v0.9h-0.9zM105.4 429.6h0.9v0.9h-0.9zM94.0 427.0h0.9v0.9h-0.9zM93.6 426.2h0.9v0.9h-0.9zM104.9 426.0h0.9v0.9h-0.9zM93.5 432.4h0.9v0.9h-0.9zM101.7 422.4h0.9v0.9h-0.9zM92.2 428.1h0.9v0.9h-0.9zM99.8 434.7h0.9v0.9h-0.9zM102.1 432.2h0.9v0.9h-0.9zM92.9 429.1h0.9v0.9h-0.9zM97.0 424.7h0.9v0.9h-0.9zM103.4 433.7h0.9v0.9h-0.9zM102.8 424.5h0.9v0.9h-0.9zM92.1 432.2h0.9v0.9h-0.9zM102.8 431.7h0.9v0.9h-0.9zM91.2 430.7h0.9v0.9h-0.9zM103.8 432.0h0.9v0.9h-0.9zM103.9 431.1h0.9v0.9h-0.9zM101.8 422.4h0.9v0.9h-0.9zM93.0 431.5h0.9v0.9h-0.9zM105.7 423.5h0.9v0.9h-0.9zM99.2 435.9h0.9v0.9h-0.9zM100.6 433.5h0.9v0.9h-0.9zM105.8 424.7h0.9v0.9h-0.9zM101.8 432.8h0.9v0.9h-0.9zM97.5 436.7h0.9v0.9h-0.9zM98.8 421.5h0.9v0.9h-0.9zM101.8 434.2h0.9v0.9h-0.9zM99.2 422.4h0.9v0.9h-0.9zM95.8 423.6h0.9v0.9h-0.9zM96.4 435.5h0.9v0.9h-0.9zM104.8 427.5h0.9v0.9h-0.9zM105.1 429.9h0.9v0.9h-0.9zM103.9 424.6h0.9v0.9h-0.9zM101.2 433.7h0.9v0.9h-0.9zM97.1 424.2h0.9v0.9h-0.9zM101.4 433.7h0.9v0.9h-0.9zM103.1 430.8h0.9v0.9h-0.9zM95.0 425.9h0.9v0.9h-0.9z"/>
<path fill="#bccaf0" d="M97.8 419.4h0.9v0.9h-0.9zM89.7 431.7h0.9v0.9h-0.9zM98.1 419.3h0.9v0.9h-0.9zM90.5 430.6h0.9v0.9h-0.9zM106.7 437.8h0.9v0.9h-0.9zM106.7 430.6h0.9v0.9h-0.9zM105.6 432.4h0.9v0.9h-0.9zM104.3 437.6h0.9v0.9h-0.9zM94.2 437.6h0.9v0.9h-0.9zM93.1 424.5h0.9v0.9h-0.9zM109.2 427.4h0.9v0.9h-0.9zM107.4 433.6h0.9v0.9h-0.9zM102.7 435.6h0.9v0.9h-0.9zM90.0 437.6h0.9v0.9h-0.9zM108.6 426.7h0.9v0.9h-0.9zM105.0 434.5h0.9v0.9h-0.9zM103.2 418.9h0.9v0.9h-0.9zM102.1 436.5h0.9v0.9h-0.9zM102.8 435.1h0.9v0.9h-0.9zM97.5 416.3h0.9v0.9h-0.9zM93.7 421.9h0.9v0.9h-0.9zM100.5 420.3h0.9v0.9h-0.9zM106.5 429.7h0.9v0.9h-0.9zM98.1 437.5h0.9v0.9h-0.9zM111.3 418.5h0.9v0.9h-0.9zM107.9 421.4h0.9v0.9h-0.9zM102.8 418.4h0.9v0.9h-0.9zM101.7 438.0h0.9v0.9h-0.9zM108.6 426.4h0.9v0.9h-0.9zM107.3 429.6h0.9v0.9h-0.9zM103.4 437.9h0.9v0.9h-0.9zM107.5 423.2h0.9v0.9h-0.9zM101.3 436.8h0.9v0.9h-0.9zM100.8 437.9h0.9v0.9h-0.9z"/>
<path fill="#5a7fd6" d="M103.1 434.2h0.9v0.9h-0.9zM94.2 436.3h0.9v0.9h-0.9zM97.3 424.2h0.9v0.9h-0.9zM105.0 424.7h0.9v0.9h-0.9zM96.6 435.1h0.9v0.9h-0.9zM93.2 427.2h0.9v0.9h-0.9zM93.4 429.8h0.9v0.9h-0.9zM93.8 427.2h0.9v0.9h-0.9zM103.6 430.7h0.9v0.9h-0.9zM91.3 432.8h0.9v0.9h-0.9zM97.3 424.5h0.9v0.9h-0.9zM94.9 436.8h0.9v0.9h-0.9zM93.9 427.9h0.9v0.9h-0.9zM99.0 423.7h0.9v0.9h-0.9zM103.5 425.2h0.9v0.9h-0.9zM98.6 435.5h0.9v0.9h-0.9zM96.2 435.9h0.9v0.9h-0.9zM98.4 421.5h0.9v0.9h-0.9zM106.2 423.8h0.9v0.9h-0.9zM97.1 435.7h0.9v0.9h-0.9zM101.7 422.6h0.9v0.9h-0.9zM94.6 433.5h0.9v0.9h-0.9zM103.0 423.6h0.9v0.9h-0.9zM93.6 427.1h0.9v0.9h-0.9zM101.4 423.2h0.9v0.9h-0.9zM101.0 434.0h0.9v0.9h-0.9zM100.7 433.2h0.9v0.9h-0.9zM99.6 422.1h0.9v0.9h-0.9zM92.5 427.0h0.9v0.9h-0.9zM93.1 434.4h0.9v0.9h-0.9zM92.2 427.5h0.9v0.9h-0.9zM95.0 425.7h0.9v0.9h-0.9zM93.6 431.6h0.9v0.9h-0.9zM101.9 423.9h0.9v0.9h-0.9zM103.6 431.7h0.9v0.9h-0.9zM96.9 422.3h0.9v0.9h-0.9zM94.1 433.3h0.9v0.9h-0.9zM104.3 428.4h0.9v0.9h-0.9zM92.1 429.4h0.9v0.9h-0.9zM99.6 421.3h0.9v0.9h-0.9zM102.5 422.6h0.9v0.9h-0.9zM100.0 421.8h0.9v0.9h-0.9zM94.4 425.6h0.9v0.9h-0.9zM101.1 422.8h0.9v0.9h-0.9zM102.4 432.2h0.9v0.9h-0.9zM103.6 424.0h0.9v0.9h-0.9zM106.0 424.0h0.9v0.9h-0.9zM100.4 435.2h0.9v0.9h-0.9zM99.1 423.7h0.9v0.9h-0.9zM104.3 423.9h0.9v0.9h-0.9zM100.9 435.4h0.9v0.9h-0.9zM100.3 435.2h0.9v0.9h-0.9zM93.1 433.6h0.9v0.9h-0.9zM92.9 428.4h0.9v0.9h-0.9zM92.0 432.4h0.9v0.9h-0.9zM91.8 434.2h0.9v0.9h-0.9zM102.6 422.6h0.9v0.9h-0.9zM93.8 426.5h0.9v0.9h-0.9zM98.6 434.4h0.9v0.9h-0.9zM93.5 428.4h0.9v0.9h-0.9zM104.4 428.0h0.9v0.9h-0.9zM91.5 427.9h0.9v0.9h-0.9zM92.7 435.0h0.9v0.9h-0.9zM96.3 435.2h0.9v0.9h-0.9zM101.1 421.8h0.9v0.9h-0.9zM99.0 423.5h0.9v0.9h-0.9zM97.1 436.3h0.9v0.9h-0.9zM104.5 427.4h0.9v0.9h-0.9zM101.7 435.1h0.9v0.9h-0.9zM99.1 434.7h0.9v0.9h-0.9zM95.6 434.2h0.9v0.9h-0.9zM105.5 425.5h0.9v0.9h-0.9zM104.0 429.9h0.9v0.9h-0.9zM93.6 436.5h0.9v0.9h-0.9zM101.6 422.3h0.9v0.9h-0.9zM103.6 423.9h0.9v0.9h-0.9z"/>
<path fill="#3fb0b0" d="M97.9 427.6h0.9v0.9h-0.9zM98.4 427.4h0.9v0.9h-0.9zM96.7 429.5h0.9v0.9h-0.9zM98.4 428.8h0.9v0.9h-0.9zM101.2 429.3h0.9v0.9h-0.9zM96.3 429.9h0.9v0.9h-0.9zM98.9 430.5h0.9v0.9h-0.9zM97.3 429.1h0.9v0.9h-0.9zM101.2 428.7h0.9v0.9h-0.9zM96.4 429.3h0.9v0.9h-0.9zM97.7 429.2h0.9v0.9h-0.9zM98.4 427.5h0.9v0.9h-0.9zM97.6 427.1h0.9v0.9h-0.9zM98.6 429.4h0.9v0.9h-0.9zM99.2 428.5h0.9v0.9h-0.9zM97.7 430.9h0.9v0.9h-0.9zM98.1 427.0h0.9v0.9h-0.9zM98.2 430.8h0.9v0.9h-0.9zM99.9 429.7h0.9v0.9h-0.9zM99.4 426.9h0.9v0.9h-0.9z"/>
<path fill="#4cbcaa" d="M97.0 431.2h0.9v0.9h-0.9zM97.7 430.2h0.9v0.9h-0.9zM99.4 428.0h0.9v0.9h-0.9zM99.9 430.4h0.9v0.9h-0.9zM96.9 430.7h0.9v0.9h-0.9zM99.9 427.0h0.9v0.9h-0.9zM97.8 431.2h0.9v0.9h-0.9zM99.8 431.0h0.9v0.9h-0.9zM96.9 430.3h0.9v0.9h-0.9zM100.0 430.5h0.9v0.9h-0.9zM96.5 430.7h0.9v0.9h-0.9zM96.6 428.5h0.9v0.9h-0.9zM96.3 430.1h0.9v0.9h-0.9zM99.0 427.0h0.9v0.9h-0.9zM100.8 428.4h0.9v0.9h-0.9zM97.5 430.7h0.9v0.9h-0.9zM100.5 427.4h0.9v0.9h-0.9zM99.2 431.4h0.9v0.9h-0.9zM100.0 430.7h0.9v0.9h-0.9zM100.6 429.2h0.9v0.9h-0.9zM98.3 427.7h0.9v0.9h-0.9zM98.8 429.9h0.9v0.9h-0.9zM100.5 429.4h0.9v0.9h-0.9zM97.2 428.3h0.9v0.9h-0.9zM98.7 429.1h0.9v0.9h-0.9zM97.1 430.5h0.9v0.9h-0.9zM98.9 431.3h0.9v0.9h-0.9zM99.9 427.1h0.9v0.9h-0.9zM97.0 428.5h0.9v0.9h-0.9z"/>
<path fill="#44a8bc" d="M99.6 429.4h0.9v0.9h-0.9zM97.4 428.7h0.9v0.9h-0.9zM99.4 427.3h0.9v0.9h-0.9zM96.3 430.3h0.9v0.9h-0.9zM99.0 426.9h0.9v0.9h-0.9zM96.7 429.4h0.9v0.9h-0.9zM98.6 428.4h0.9v0.9h-0.9zM99.8 430.2h0.9v0.9h-0.9zM97.7 429.8h0.9v0.9h-0.9zM98.7 430.1h0.9v0.9h-0.9zM100.1 428.2h0.9v0.9h-0.9zM101.0 428.6h0.9v0.9h-0.9zM97.6 428.0h0.9v0.9h-0.9zM97.7 428.6h0.9v0.9h-0.9zM99.2 430.3h0.9v0.9h-0.9zM99.0 430.0h0.9v0.9h-0.9zM97.6 430.9h0.9v0.9h-0.9zM99.9 426.5h0.9v0.9h-0.9zM97.4 430.5h0.9v0.9h-0.9zM100.6 427.9h0.9v0.9h-0.9z"/>
<path d="M107.30,439.00 L107.30,416.20 L124.60,416.20 L124.60,439.00" fill="none" stroke="#999" stroke-width="0.8"/>
<rect x="88.60" y="389.60" width="47.40" height="49.40" fill="none" stroke="#666" stroke-width="0.9"/>
<text transform="translate(116.50,402.50) scale(0.862,1)" font-size="7.54" text-anchor="middle" fill="#333" style="stroke-width:0.06px">CD45</text>
<text transform="translate(116.50,410.00) scale(0.862,1)" font-size="7.54" text-anchor="middle" fill="#333" style="stroke-width:0.06px">2.24%</text>
<rect x="36.60" y="443.00" width="47.40" height="49.40" fill="#fff"/>
<path fill="#c6cdea" d="M69.1 478.1h.6v.6h-.6zM61.0 484.9h.6v.6h-.6zM45.3 468.9h.6v.6h-.6zM57.4 470.0h.6v.6h-.6zM50.5 488.7h.6v.6h-.6zM65.8 469.9h.6v.6h-.6zM41.2 472.4h.6v.6h-.6zM64.4 467.6h.6v.6h-.6zM45.6 469.6h.6v.6h-.6zM42.6 479.8h.6v.6h-.6zM44.3 477.0h.6v.6h-.6zM61.5 484.6h.6v.6h-.6zM51.5 486.2h.6v.6h-.6zM56.5 487.2h.6v.6h-.6zM46.4 476.0h.6v.6h-.6zM56.7 490.1h.6v.6h-.6zM57.9 478.6h.6v.6h-.6zM46.4 473.9h.6v.6h-.6zM45.3 491.1h.6v.6h-.6zM66.2 488.8h.6v.6h-.6zM55.1 484.3h.6v.6h-.6zM47.8 478.8h.6v.6h-.6zM43.1 477.3h.6v.6h-.6zM46.5 469.4h.6v.6h-.6zM67.3 469.4h.6v.6h-.6zM63.9 484.1h.6v.6h-.6zM41.4 478.8h.6v.6h-.6zM69.7 491.1h.6v.6h-.6zM56.2 485.8h.6v.6h-.6zM60.7 474.1h.6v.6h-.6z"/>
<path fill="#89a2e2" d="M48.5 487.6h0.9v0.9h-0.9zM42.1 482.3h0.9v0.9h-0.9zM48.3 475.8h0.9v0.9h-0.9zM40.5 485.5h0.9v0.9h-0.9zM45.5 476.1h0.9v0.9h-0.9zM51.1 475.9h0.9v0.9h-0.9zM52.6 485.5h0.9v0.9h-0.9zM40.9 485.6h0.9v0.9h-0.9zM42.9 486.2h0.9v0.9h-0.9zM41.4 485.4h0.9v0.9h-0.9zM54.0 479.1h0.9v0.9h-0.9zM40.9 486.2h0.9v0.9h-0.9zM47.9 488.2h0.9v0.9h-0.9zM50.9 485.7h0.9v0.9h-0.9zM53.0 477.7h0.9v0.9h-0.9zM42.7 480.2h0.9v0.9h-0.9zM40.4 485.1h0.9v0.9h-0.9zM52.5 485.2h0.9v0.9h-0.9zM42.2 484.0h0.9v0.9h-0.9zM53.3 483.1h0.9v0.9h-0.9zM46.3 475.2h0.9v0.9h-0.9zM40.9 486.0h0.9v0.9h-0.9zM51.4 486.5h0.9v0.9h-0.9zM50.7 475.3h0.9v0.9h-0.9zM50.1 486.4h0.9v0.9h-0.9zM48.1 475.5h0.9v0.9h-0.9zM49.2 487.4h0.9v0.9h-0.9zM44.3 488.2h0.9v0.9h-0.9zM54.5 476.8h0.9v0.9h-0.9zM48.6 474.7h0.9v0.9h-0.9zM44.0 487.6h0.9v0.9h-0.9zM47.5 489.0h0.9v0.9h-0.9zM55.6 477.5h0.9v0.9h-0.9zM54.9 480.6h0.9v0.9h-0.9zM54.0 479.9h0.9v0.9h-0.9zM53.7 484.4h0.9v0.9h-0.9zM55.3 478.7h0.9v0.9h-0.9zM47.4 487.4h0.9v0.9h-0.9zM46.0 477.8h0.9v0.9h-0.9zM50.9 487.0h0.9v0.9h-0.9zM53.5 482.6h0.9v0.9h-0.9zM40.7 486.6h0.9v0.9h-0.9zM53.2 483.1h0.9v0.9h-0.9zM41.7 484.3h0.9v0.9h-0.9zM41.8 480.4h0.9v0.9h-0.9zM52.1 474.2h0.9v0.9h-0.9zM51.8 474.6h0.9v0.9h-0.9zM53.1 477.3h0.9v0.9h-0.9zM54.6 483.0h0.9v0.9h-0.9zM41.8 482.1h0.9v0.9h-0.9zM48.9 487.3h0.9v0.9h-0.9zM52.1 484.5h0.9v0.9h-0.9zM50.6 474.1h0.9v0.9h-0.9zM53.3 482.3h0.9v0.9h-0.9zM46.2 487.4h0.9v0.9h-0.9zM47.7 487.3h0.9v0.9h-0.9zM42.9 489.1h0.9v0.9h-0.9zM45.5 476.8h0.9v0.9h-0.9zM49.0 476.7h0.9v0.9h-0.9zM48.3 476.2h0.9v0.9h-0.9zM47.2 476.1h0.9v0.9h-0.9zM54.3 483.8h0.9v0.9h-0.9zM45.9 476.6h0.9v0.9h-0.9zM48.4 474.9h0.9v0.9h-0.9zM50.1 487.0h0.9v0.9h-0.9zM56.1 479.1h0.9v0.9h-0.9zM54.1 475.1h0.9v0.9h-0.9zM52.1 484.7h0.9v0.9h-0.9zM48.9 474.9h0.9v0.9h-0.9zM42.1 480.7h0.9v0.9h-0.9zM46.2 476.9h0.9v0.9h-0.9z"/>
<path fill="#5a7fd6" d="M52.7 478.0h0.9v0.9h-0.9zM51.9 476.7h0.9v0.9h-0.9zM53.6 484.4h0.9v0.9h-0.9zM51.9 484.5h0.9v0.9h-0.9zM43.4 487.6h0.9v0.9h-0.9zM44.0 478.4h0.9v0.9h-0.9zM47.1 488.7h0.9v0.9h-0.9zM54.6 480.8h0.9v0.9h-0.9zM51.7 475.1h0.9v0.9h-0.9zM54.4 482.2h0.9v0.9h-0.9zM53.3 485.3h0.9v0.9h-0.9zM44.1 476.7h0.9v0.9h-0.9zM52.0 475.1h0.9v0.9h-0.9zM45.1 475.7h0.9v0.9h-0.9zM46.0 489.2h0.9v0.9h-0.9zM42.6 481.4h0.9v0.9h-0.9zM54.1 477.0h0.9v0.9h-0.9zM43.0 480.2h0.9v0.9h-0.9zM48.2 476.2h0.9v0.9h-0.9zM51.7 485.9h0.9v0.9h-0.9zM53.7 484.9h0.9v0.9h-0.9zM41.1 487.8h0.9v0.9h-0.9zM45.9 487.6h0.9v0.9h-0.9zM53.5 481.6h0.9v0.9h-0.9zM54.6 481.0h0.9v0.9h-0.9zM51.0 485.7h0.9v0.9h-0.9zM53.5 477.1h0.9v0.9h-0.9zM51.6 487.6h0.9v0.9h-0.9zM46.8 476.2h0.9v0.9h-0.9zM45.2 488.4h0.9v0.9h-0.9zM42.9 477.5h0.9v0.9h-0.9zM41.9 486.9h0.9v0.9h-0.9zM41.0 485.5h0.9v0.9h-0.9zM53.4 481.5h0.9v0.9h-0.9zM43.1 481.3h0.9v0.9h-0.9zM55.3 479.4h0.9v0.9h-0.9zM41.7 480.0h0.9v0.9h-0.9zM42.8 485.1h0.9v0.9h-0.9zM43.9 489.5h0.9v0.9h-0.9zM51.2 476.8h0.9v0.9h-0.9zM41.7 484.2h0.9v0.9h-0.9zM48.0 489.1h0.9v0.9h-0.9zM53.4 481.8h0.9v0.9h-0.9zM47.8 476.6h0.9v0.9h-0.9zM49.9 488.9h0.9v0.9h-0.9zM47.7 488.5h0.9v0.9h-0.9zM45.8 476.5h0.9v0.9h-0.9zM43.9 486.4h0.9v0.9h-0.9zM55.1 477.0h0.9v0.9h-0.9zM48.9 486.7h0.9v0.9h-0.9zM47.2 490.0h0.9v0.9h-0.9zM54.9 483.7h0.9v0.9h-0.9zM45.6 487.4h0.9v0.9h-0.9zM48.2 474.7h0.9v0.9h-0.9zM45.1 488.9h0.9v0.9h-0.9zM55.3 476.7h0.9v0.9h-0.9zM45.5 475.7h0.9v0.9h-0.9zM45.0 488.1h0.9v0.9h-0.9zM42.8 485.1h0.9v0.9h-0.9zM51.5 486.6h0.9v0.9h-0.9zM55.2 479.8h0.9v0.9h-0.9zM53.6 481.6h0.9v0.9h-0.9zM49.7 488.5h0.9v0.9h-0.9zM44.9 478.8h0.9v0.9h-0.9zM40.3 482.7h0.9v0.9h-0.9zM46.3 489.0h0.9v0.9h-0.9zM45.9 488.5h0.9v0.9h-0.9zM43.2 480.7h0.9v0.9h-0.9zM42.3 484.5h0.9v0.9h-0.9zM56.0 478.6h0.9v0.9h-0.9zM50.0 488.9h0.9v0.9h-0.9z"/>
<path fill="#44a8bc" d="M48.7 482.1h0.9v0.9h-0.9zM48.3 482.3h0.9v0.9h-0.9zM47.7 480.9h0.9v0.9h-0.9zM48.3 481.4h0.9v0.9h-0.9zM49.2 480.1h0.9v0.9h-0.9zM46.7 481.8h0.9v0.9h-0.9zM47.1 481.2h0.9v0.9h-0.9zM46.6 483.7h0.9v0.9h-0.9zM49.4 480.4h0.9v0.9h-0.9zM47.6 480.7h0.9v0.9h-0.9zM47.3 483.6h0.9v0.9h-0.9zM48.3 482.6h0.9v0.9h-0.9zM46.8 481.9h0.9v0.9h-0.9zM49.3 483.6h0.9v0.9h-0.9zM49.6 481.5h0.9v0.9h-0.9zM48.9 483.7h0.9v0.9h-0.9zM49.3 482.6h0.9v0.9h-0.9zM49.8 481.5h0.9v0.9h-0.9zM48.1 480.8h0.9v0.9h-0.9zM47.7 480.0h0.9v0.9h-0.9zM45.6 482.0h0.9v0.9h-0.9zM47.6 484.0h0.9v0.9h-0.9zM46.8 484.0h0.9v0.9h-0.9zM49.6 481.3h0.9v0.9h-0.9zM48.5 480.5h0.9v0.9h-0.9zM47.5 483.9h0.9v0.9h-0.9zM47.9 481.8h0.9v0.9h-0.9zM46.8 483.1h0.9v0.9h-0.9z"/>
<path fill="#4f80d4" d="M47.8 485.4h0.9v0.9h-0.9zM44.3 483.2h0.9v0.9h-0.9zM45.0 480.6h0.9v0.9h-0.9zM51.6 480.1h0.9v0.9h-0.9zM50.1 478.4h0.9v0.9h-0.9zM43.7 485.6h0.9v0.9h-0.9zM46.0 485.5h0.9v0.9h-0.9zM50.7 481.3h0.9v0.9h-0.9zM45.5 485.1h0.9v0.9h-0.9zM51.8 479.7h0.9v0.9h-0.9zM44.8 481.5h0.9v0.9h-0.9zM48.4 479.4h0.9v0.9h-0.9zM52.3 480.9h0.9v0.9h-0.9zM46.0 478.6h0.9v0.9h-0.9zM45.3 485.6h0.9v0.9h-0.9zM46.4 478.9h0.9v0.9h-0.9zM45.6 479.6h0.9v0.9h-0.9zM48.6 479.3h0.9v0.9h-0.9zM51.4 483.0h0.9v0.9h-0.9zM52.0 478.8h0.9v0.9h-0.9zM43.2 485.3h0.9v0.9h-0.9zM45.8 486.0h0.9v0.9h-0.9zM48.7 478.0h0.9v0.9h-0.9zM51.2 484.9h0.9v0.9h-0.9zM44.9 484.0h0.9v0.9h-0.9zM52.8 478.9h0.9v0.9h-0.9zM50.0 485.5h0.9v0.9h-0.9zM51.9 479.4h0.9v0.9h-0.9zM52.4 481.2h0.9v0.9h-0.9zM47.1 484.7h0.9v0.9h-0.9zM46.7 478.9h0.9v0.9h-0.9zM45.2 481.1h0.9v0.9h-0.9zM48.7 479.0h0.9v0.9h-0.9zM49.3 477.3h0.9v0.9h-0.9zM50.1 483.8h0.9v0.9h-0.9zM50.4 479.2h0.9v0.9h-0.9zM44.5 485.6h0.9v0.9h-0.9zM50.6 483.3h0.9v0.9h-0.9zM49.4 484.1h0.9v0.9h-0.9zM45.7 480.9h0.9v0.9h-0.9zM43.0 482.9h0.9v0.9h-0.9zM45.0 483.2h0.9v0.9h-0.9zM44.0 481.9h0.9v0.9h-0.9zM46.5 485.8h0.9v0.9h-0.9zM49.5 477.2h0.9v0.9h-0.9zM46.0 485.3h0.9v0.9h-0.9zM48.9 479.0h0.9v0.9h-0.9zM43.6 481.6h0.9v0.9h-0.9zM43.1 484.9h0.9v0.9h-0.9zM44.0 481.6h0.9v0.9h-0.9zM49.9 477.5h0.9v0.9h-0.9zM43.4 484.0h0.9v0.9h-0.9zM53.1 481.1h0.9v0.9h-0.9zM50.1 483.3h0.9v0.9h-0.9zM46.7 478.4h0.9v0.9h-0.9zM49.7 478.4h0.9v0.9h-0.9zM46.3 486.0h0.9v0.9h-0.9zM45.6 481.5h0.9v0.9h-0.9zM45.6 478.6h0.9v0.9h-0.9zM45.6 478.9h0.9v0.9h-0.9zM47.6 479.2h0.9v0.9h-0.9zM50.5 479.8h0.9v0.9h-0.9zM45.2 482.4h0.9v0.9h-0.9z"/>
<path fill="#3a9cc4" d="M46.2 480.5h0.9v0.9h-0.9zM43.2 482.4h0.9v0.9h-0.9zM46.4 479.6h0.9v0.9h-0.9zM51.9 477.5h0.9v0.9h-0.9zM49.5 477.6h0.9v0.9h-0.9zM49.1 478.6h0.9v0.9h-0.9zM49.6 480.9h0.9v0.9h-0.9zM48.1 484.8h0.9v0.9h-0.9zM43.3 484.0h0.9v0.9h-0.9zM44.6 483.7h0.9v0.9h-0.9zM46.3 483.8h0.9v0.9h-0.9zM50.2 480.6h0.9v0.9h-0.9zM51.3 477.3h0.9v0.9h-0.9zM50.3 485.4h0.9v0.9h-0.9zM48.3 486.5h0.9v0.9h-0.9zM49.2 481.2h0.9v0.9h-0.9zM49.4 479.9h0.9v0.9h-0.9zM48.0 486.1h0.9v0.9h-0.9zM50.8 477.7h0.9v0.9h-0.9zM47.7 483.2h0.9v0.9h-0.9zM46.0 482.0h0.9v0.9h-0.9zM43.4 483.0h0.9v0.9h-0.9zM49.7 476.7h0.9v0.9h-0.9zM51.0 482.7h0.9v0.9h-0.9zM48.5 481.6h0.9v0.9h-0.9zM43.0 482.3h0.9v0.9h-0.9zM47.5 478.0h0.9v0.9h-0.9zM47.3 481.9h0.9v0.9h-0.9zM45.7 481.4h0.9v0.9h-0.9zM49.3 483.1h0.9v0.9h-0.9zM43.7 484.8h0.9v0.9h-0.9zM48.4 484.3h0.9v0.9h-0.9zM47.3 485.1h0.9v0.9h-0.9zM46.6 480.9h0.9v0.9h-0.9zM44.1 481.3h0.9v0.9h-0.9zM48.4 486.2h0.9v0.9h-0.9zM43.9 480.4h0.9v0.9h-0.9zM46.1 486.4h0.9v0.9h-0.9zM48.6 483.8h0.9v0.9h-0.9zM43.9 485.3h0.9v0.9h-0.9zM50.2 485.4h0.9v0.9h-0.9zM47.1 479.6h0.9v0.9h-0.9zM51.0 480.4h0.9v0.9h-0.9zM51.2 483.8h0.9v0.9h-0.9zM48.6 482.9h0.9v0.9h-0.9zM49.2 480.8h0.9v0.9h-0.9zM46.6 481.0h0.9v0.9h-0.9zM48.6 483.8h0.9v0.9h-0.9zM45.3 480.6h0.9v0.9h-0.9zM45.5 483.8h0.9v0.9h-0.9zM48.0 482.9h0.9v0.9h-0.9zM44.0 483.0h0.9v0.9h-0.9zM51.3 482.5h0.9v0.9h-0.9zM46.9 486.4h0.9v0.9h-0.9zM46.7 480.2h0.9v0.9h-0.9zM50.5 478.4h0.9v0.9h-0.9zM46.9 486.4h0.9v0.9h-0.9zM49.0 477.2h0.9v0.9h-0.9zM49.1 485.1h0.9v0.9h-0.9zM51.0 481.1h0.9v0.9h-0.9zM44.5 483.6h0.9v0.9h-0.9zM43.8 483.9h0.9v0.9h-0.9zM46.5 478.4h0.9v0.9h-0.9zM46.6 478.9h0.9v0.9h-0.9zM46.1 480.0h0.9v0.9h-0.9zM44.3 480.9h0.9v0.9h-0.9zM50.2 481.6h0.9v0.9h-0.9z"/>
<path fill="#a7bbea" d="M56.3 480.3h0.9v0.9h-0.9zM52.0 487.9h0.9v0.9h-0.9zM39.8 485.8h0.9v0.9h-0.9zM53.2 474.3h0.9v0.9h-0.9zM42.9 491.0h0.9v0.9h-0.9zM41.6 476.3h0.9v0.9h-0.9zM39.9 479.8h0.9v0.9h-0.9zM50.0 472.1h0.9v0.9h-0.9zM43.0 477.1h0.9v0.9h-0.9zM57.1 477.0h0.9v0.9h-0.9zM54.4 475.0h0.9v0.9h-0.9zM56.3 476.6h0.9v0.9h-0.9zM40.8 490.4h0.9v0.9h-0.9zM50.6 488.8h0.9v0.9h-0.9zM57.8 476.6h0.9v0.9h-0.9zM56.5 483.1h0.9v0.9h-0.9zM44.2 472.6h0.9v0.9h-0.9zM38.1 472.6h0.9v0.9h-0.9zM56.7 489.8h0.9v0.9h-0.9zM55.4 475.4h0.9v0.9h-0.9zM54.4 487.9h0.9v0.9h-0.9zM51.3 488.9h0.9v0.9h-0.9zM61.4 477.7h0.9v0.9h-0.9zM56.5 475.8h0.9v0.9h-0.9zM45.0 491.5h0.9v0.9h-0.9zM44.3 491.1h0.9v0.9h-0.9zM41.9 476.4h0.9v0.9h-0.9zM47.7 471.8h0.9v0.9h-0.9zM40.5 490.9h0.9v0.9h-0.9zM49.7 471.8h0.9v0.9h-0.9zM50.3 473.7h0.9v0.9h-0.9zM46.4 491.2h0.9v0.9h-0.9zM52.9 473.0h0.9v0.9h-0.9zM51.6 488.3h0.9v0.9h-0.9zM49.3 491.0h0.9v0.9h-0.9zM39.7 479.7h0.9v0.9h-0.9zM55.7 483.9h0.9v0.9h-0.9zM43.7 475.4h0.9v0.9h-0.9z"/>
<path fill="#bccaf0" d="M49.7 473.1h0.9v0.9h-0.9zM45.6 472.7h0.9v0.9h-0.9zM49.7 472.6h0.9v0.9h-0.9zM60.1 474.5h0.9v0.9h-0.9zM57.9 476.5h0.9v0.9h-0.9zM41.1 490.5h0.9v0.9h-0.9zM51.4 467.8h0.9v0.9h-0.9zM54.1 473.3h0.9v0.9h-0.9zM41.4 479.1h0.9v0.9h-0.9zM56.2 472.2h0.9v0.9h-0.9zM42.7 475.4h0.9v0.9h-0.9zM55.0 470.0h0.9v0.9h-0.9zM55.6 485.9h0.9v0.9h-0.9zM57.4 485.4h0.9v0.9h-0.9zM56.2 471.8h0.9v0.9h-0.9zM40.0 482.4h0.9v0.9h-0.9zM57.1 472.2h0.9v0.9h-0.9zM47.6 491.0h0.9v0.9h-0.9zM56.5 477.9h0.9v0.9h-0.9zM55.9 476.7h0.9v0.9h-0.9zM39.4 485.8h0.9v0.9h-0.9zM39.9 482.6h0.9v0.9h-0.9zM39.5 491.6h0.9v0.9h-0.9zM37.5 484.8h0.9v0.9h-0.9zM57.6 472.7h0.9v0.9h-0.9zM58.8 470.7h0.9v0.9h-0.9zM58.8 478.6h0.9v0.9h-0.9zM57.7 477.9h0.9v0.9h-0.9zM54.6 474.6h0.9v0.9h-0.9zM61.8 478.0h0.9v0.9h-0.9zM40.0 489.1h0.9v0.9h-0.9zM53.2 472.4h0.9v0.9h-0.9zM49.9 489.2h0.9v0.9h-0.9zM55.4 485.2h0.9v0.9h-0.9zM60.6 482.4h0.9v0.9h-0.9zM56.8 475.8h0.9v0.9h-0.9zM39.7 488.5h0.9v0.9h-0.9zM56.8 482.6h0.9v0.9h-0.9zM37.9 479.3h0.9v0.9h-0.9zM55.8 486.6h0.9v0.9h-0.9zM49.6 489.8h0.9v0.9h-0.9zM54.3 488.6h0.9v0.9h-0.9zM56.6 486.9h0.9v0.9h-0.9zM54.9 487.2h0.9v0.9h-0.9zM49.5 473.4h0.9v0.9h-0.9zM47.5 470.7h0.9v0.9h-0.9zM55.2 484.7h0.9v0.9h-0.9zM49.3 491.4h0.9v0.9h-0.9zM57.8 482.5h0.9v0.9h-0.9zM51.3 490.9h0.9v0.9h-0.9zM57.6 480.6h0.9v0.9h-0.9zM51.0 488.6h0.9v0.9h-0.9zM58.1 476.5h0.9v0.9h-0.9zM52.2 489.9h0.9v0.9h-0.9zM47.9 473.6h0.9v0.9h-0.9zM42.5 489.8h0.9v0.9h-0.9zM41.7 491.6h0.9v0.9h-0.9zM54.4 491.1h0.9v0.9h-0.9zM50.2 489.1h0.9v0.9h-0.9z"/>
<path fill="#6a8cdc" d="M47.1 476.3h0.9v0.9h-0.9zM54.0 476.3h0.9v0.9h-0.9zM54.4 481.8h0.9v0.9h-0.9zM53.8 483.2h0.9v0.9h-0.9zM42.0 483.0h0.9v0.9h-0.9zM46.0 488.5h0.9v0.9h-0.9zM54.9 483.6h0.9v0.9h-0.9zM53.9 478.9h0.9v0.9h-0.9zM54.1 476.2h0.9v0.9h-0.9zM53.2 482.0h0.9v0.9h-0.9zM49.9 486.8h0.9v0.9h-0.9zM43.7 479.5h0.9v0.9h-0.9zM40.8 482.6h0.9v0.9h-0.9zM54.0 478.4h0.9v0.9h-0.9zM54.5 476.9h0.9v0.9h-0.9zM50.9 487.7h0.9v0.9h-0.9zM43.3 487.0h0.9v0.9h-0.9zM45.3 477.5h0.9v0.9h-0.9zM43.3 477.5h0.9v0.9h-0.9zM50.1 486.2h0.9v0.9h-0.9zM49.8 476.0h0.9v0.9h-0.9zM54.3 484.9h0.9v0.9h-0.9zM41.6 482.8h0.9v0.9h-0.9zM53.4 481.7h0.9v0.9h-0.9zM41.9 484.3h0.9v0.9h-0.9zM54.3 478.9h0.9v0.9h-0.9zM53.7 484.5h0.9v0.9h-0.9zM52.3 486.6h0.9v0.9h-0.9zM54.2 482.3h0.9v0.9h-0.9zM54.1 483.4h0.9v0.9h-0.9zM49.4 476.1h0.9v0.9h-0.9zM41.4 485.3h0.9v0.9h-0.9zM52.6 483.2h0.9v0.9h-0.9zM51.3 474.9h0.9v0.9h-0.9zM40.4 485.9h0.9v0.9h-0.9zM54.0 477.6h0.9v0.9h-0.9zM45.4 488.4h0.9v0.9h-0.9zM47.4 475.1h0.9v0.9h-0.9zM46.5 488.1h0.9v0.9h-0.9zM53.3 482.2h0.9v0.9h-0.9zM54.1 476.4h0.9v0.9h-0.9zM41.2 486.5h0.9v0.9h-0.9zM52.7 477.5h0.9v0.9h-0.9zM44.9 478.2h0.9v0.9h-0.9zM52.9 474.7h0.9v0.9h-0.9zM44.2 479.3h0.9v0.9h-0.9zM52.5 484.6h0.9v0.9h-0.9zM50.0 474.2h0.9v0.9h-0.9zM54.1 484.3h0.9v0.9h-0.9zM48.8 486.8h0.9v0.9h-0.9zM44.2 490.0h0.9v0.9h-0.9zM40.2 485.1h0.9v0.9h-0.9zM53.5 484.9h0.9v0.9h-0.9zM47.9 474.7h0.9v0.9h-0.9zM43.9 479.9h0.9v0.9h-0.9zM43.4 477.6h0.9v0.9h-0.9zM50.1 488.5h0.9v0.9h-0.9zM40.4 486.5h0.9v0.9h-0.9zM46.7 489.0h0.9v0.9h-0.9zM45.9 476.3h0.9v0.9h-0.9zM49.3 487.6h0.9v0.9h-0.9zM53.6 479.1h0.9v0.9h-0.9zM53.9 477.2h0.9v0.9h-0.9zM51.8 476.0h0.9v0.9h-0.9zM55.4 482.7h0.9v0.9h-0.9zM53.7 475.1h0.9v0.9h-0.9zM41.4 486.1h0.9v0.9h-0.9zM44.5 478.0h0.9v0.9h-0.9zM55.2 479.3h0.9v0.9h-0.9zM51.3 477.0h0.9v0.9h-0.9zM43.0 478.8h0.9v0.9h-0.9z"/>
<path fill="#4cbcaa" d="M49.6 480.1h0.9v0.9h-0.9zM47.0 480.1h0.9v0.9h-0.9zM48.3 480.7h0.9v0.9h-0.9zM48.6 480.3h0.9v0.9h-0.9zM47.2 482.7h0.9v0.9h-0.9zM45.8 483.3h0.9v0.9h-0.9zM47.4 480.1h0.9v0.9h-0.9zM46.3 480.6h0.9v0.9h-0.9zM47.1 481.3h0.9v0.9h-0.9zM50.5 481.4h0.9v0.9h-0.9zM49.3 481.8h0.9v0.9h-0.9zM47.5 483.9h0.9v0.9h-0.9zM47.5 484.5h0.9v0.9h-0.9zM47.7 484.4h0.9v0.9h-0.9zM48.5 483.6h0.9v0.9h-0.9zM46.2 481.7h0.9v0.9h-0.9zM45.8 482.7h0.9v0.9h-0.9zM45.7 483.6h0.9v0.9h-0.9zM45.4 482.4h0.9v0.9h-0.9zM47.7 481.3h0.9v0.9h-0.9zM47.8 483.8h0.9v0.9h-0.9zM48.3 481.9h0.9v0.9h-0.9z"/>
<path fill="#5688d8" d="M43.3 483.2h0.9v0.9h-0.9zM45.7 484.1h0.9v0.9h-0.9zM52.3 480.2h0.9v0.9h-0.9zM48.3 485.8h0.9v0.9h-0.9zM45.3 485.8h0.9v0.9h-0.9zM45.8 479.7h0.9v0.9h-0.9zM51.4 483.4h0.9v0.9h-0.9zM51.6 482.0h0.9v0.9h-0.9zM46.3 486.1h0.9v0.9h-0.9zM44.4 486.1h0.9v0.9h-0.9zM46.0 484.9h0.9v0.9h-0.9zM47.7 485.1h0.9v0.9h-0.9zM51.2 478.5h0.9v0.9h-0.9zM50.8 483.6h0.9v0.9h-0.9zM53.1 481.6h0.9v0.9h-0.9zM43.5 483.5h0.9v0.9h-0.9zM44.2 483.6h0.9v0.9h-0.9zM45.1 481.6h0.9v0.9h-0.9zM51.6 483.9h0.9v0.9h-0.9zM47.2 487.1h0.9v0.9h-0.9zM44.9 483.5h0.9v0.9h-0.9zM48.8 476.9h0.9v0.9h-0.9zM44.1 483.5h0.9v0.9h-0.9zM44.1 484.5h0.9v0.9h-0.9zM49.6 478.9h0.9v0.9h-0.9zM43.4 483.2h0.9v0.9h-0.9zM43.2 483.3h0.9v0.9h-0.9zM49.5 479.0h0.9v0.9h-0.9zM44.0 481.0h0.9v0.9h-0.9zM49.6 484.6h0.9v0.9h-0.9zM47.0 479.3h0.9v0.9h-0.9zM52.5 478.4h0.9v0.9h-0.9zM47.3 486.1h0.9v0.9h-0.9zM46.1 484.4h0.9v0.9h-0.9zM46.2 479.6h0.9v0.9h-0.9zM44.4 484.7h0.9v0.9h-0.9zM47.6 479.0h0.9v0.9h-0.9zM52.0 483.5h0.9v0.9h-0.9zM43.0 482.9h0.9v0.9h-0.9zM52.5 478.5h0.9v0.9h-0.9zM50.6 483.1h0.9v0.9h-0.9zM48.1 485.2h0.9v0.9h-0.9zM51.9 478.1h0.9v0.9h-0.9zM44.4 485.4h0.9v0.9h-0.9zM50.6 477.6h0.9v0.9h-0.9zM46.4 480.1h0.9v0.9h-0.9zM52.0 480.3h0.9v0.9h-0.9zM43.6 485.1h0.9v0.9h-0.9zM46.2 478.9h0.9v0.9h-0.9zM43.9 481.7h0.9v0.9h-0.9zM51.6 481.9h0.9v0.9h-0.9zM48.1 484.6h0.9v0.9h-0.9zM48.0 477.3h0.9v0.9h-0.9zM43.4 482.7h0.9v0.9h-0.9zM44.4 481.1h0.9v0.9h-0.9zM45.0 480.1h0.9v0.9h-0.9z"/>
<path fill="#98aee6" d="M57.1 468.2h0.9v0.9h-0.9zM58.2 476.8h0.9v0.9h-0.9zM57.9 470.3h0.9v0.9h-0.9zM58.3 486.3h0.9v0.9h-0.9zM55.0 485.0h0.9v0.9h-0.9zM44.4 491.1h0.9v0.9h-0.9zM56.2 473.6h0.9v0.9h-0.9zM39.4 482.9h0.9v0.9h-0.9zM56.0 481.4h0.9v0.9h-0.9zM56.6 475.9h0.9v0.9h-0.9zM48.3 470.2h0.9v0.9h-0.9zM52.3 489.4h0.9v0.9h-0.9zM54.3 485.3h0.9v0.9h-0.9zM43.7 491.6h0.9v0.9h-0.9zM40.2 489.1h0.9v0.9h-0.9zM52.3 489.6h0.9v0.9h-0.9zM43.0 490.5h0.9v0.9h-0.9zM38.3 487.9h0.9v0.9h-0.9zM43.0 471.8h0.9v0.9h-0.9zM46.6 473.2h0.9v0.9h-0.9zM39.5 477.7h0.9v0.9h-0.9zM47.8 471.5h0.9v0.9h-0.9zM55.5 474.8h0.9v0.9h-0.9zM39.0 484.2h0.9v0.9h-0.9zM47.6 473.4h0.9v0.9h-0.9zM59.6 482.0h0.9v0.9h-0.9zM39.2 488.5h0.9v0.9h-0.9zM37.5 482.7h0.9v0.9h-0.9zM57.0 483.0h0.9v0.9h-0.9zM51.9 473.1h0.9v0.9h-0.9zM44.2 491.5h0.9v0.9h-0.9zM59.8 482.3h0.9v0.9h-0.9zM56.6 475.1h0.9v0.9h-0.9zM51.5 490.0h0.9v0.9h-0.9zM40.3 481.5h0.9v0.9h-0.9zM56.8 473.7h0.9v0.9h-0.9zM40.1 480.3h0.9v0.9h-0.9zM56.1 475.4h0.9v0.9h-0.9zM56.6 477.0h0.9v0.9h-0.9z"/>
<path fill="#3fb0b0" d="M50.1 481.3h0.9v0.9h-0.9zM48.1 483.2h0.9v0.9h-0.9zM49.7 481.7h0.9v0.9h-0.9zM49.3 482.8h0.9v0.9h-0.9zM45.7 483.7h0.9v0.9h-0.9zM50.0 481.9h0.9v0.9h-0.9zM46.0 483.0h0.9v0.9h-0.9zM47.3 480.4h0.9v0.9h-0.9zM45.7 482.9h0.9v0.9h-0.9zM48.6 482.9h0.9v0.9h-0.9zM48.9 479.9h0.9v0.9h-0.9zM49.1 479.7h0.9v0.9h-0.9zM48.9 481.5h0.9v0.9h-0.9zM48.6 482.4h0.9v0.9h-0.9zM45.7 481.5h0.9v0.9h-0.9zM49.8 481.5h0.9v0.9h-0.9zM46.4 481.4h0.9v0.9h-0.9zM46.0 483.4h0.9v0.9h-0.9zM49.8 481.4h0.9v0.9h-0.9zM49.5 481.2h0.9v0.9h-0.9zM47.9 484.0h0.9v0.9h-0.9zM50.0 479.8h0.9v0.9h-0.9zM49.0 481.8h0.9v0.9h-0.9zM46.5 481.0h0.9v0.9h-0.9zM48.0 484.4h0.9v0.9h-0.9zM46.1 482.0h0.9v0.9h-0.9zM47.7 482.5h0.9v0.9h-0.9zM50.3 481.1h0.9v0.9h-0.9zM49.0 480.6h0.9v0.9h-0.9zM48.4 479.7h0.9v0.9h-0.9z"/>
<path fill="#4a78d0" d="M43.5 485.4h0.9v0.9h-0.9zM45.8 480.9h0.9v0.9h-0.9zM50.0 485.9h0.9v0.9h-0.9zM49.6 484.9h0.9v0.9h-0.9zM50.6 483.6h0.9v0.9h-0.9zM49.9 484.8h0.9v0.9h-0.9zM43.1 482.7h0.9v0.9h-0.9zM47.0 477.9h0.9v0.9h-0.9zM45.5 479.0h0.9v0.9h-0.9zM44.5 482.4h0.9v0.9h-0.9zM50.1 479.3h0.9v0.9h-0.9zM47.0 479.3h0.9v0.9h-0.9zM51.0 479.0h0.9v0.9h-0.9zM46.0 487.0h0.9v0.9h-0.9zM51.1 481.6h0.9v0.9h-0.9zM51.3 481.0h0.9v0.9h-0.9zM45.2 482.3h0.9v0.9h-0.9zM45.1 483.9h0.9v0.9h-0.9zM44.6 485.3h0.9v0.9h-0.9zM52.4 482.7h0.9v0.9h-0.9zM49.3 478.8h0.9v0.9h-0.9zM46.3 485.0h0.9v0.9h-0.9zM44.4 482.7h0.9v0.9h-0.9zM45.4 487.0h0.9v0.9h-0.9zM50.7 481.7h0.9v0.9h-0.9zM45.2 482.2h0.9v0.9h-0.9zM44.8 484.7h0.9v0.9h-0.9zM46.5 485.8h0.9v0.9h-0.9zM46.4 480.5h0.9v0.9h-0.9zM46.7 486.7h0.9v0.9h-0.9zM45.7 480.8h0.9v0.9h-0.9zM45.1 484.1h0.9v0.9h-0.9zM50.3 478.0h0.9v0.9h-0.9zM46.3 485.6h0.9v0.9h-0.9zM44.4 479.5h0.9v0.9h-0.9zM43.9 480.9h0.9v0.9h-0.9zM53.0 481.5h0.9v0.9h-0.9zM50.5 483.4h0.9v0.9h-0.9zM45.1 480.6h0.9v0.9h-0.9zM50.3 477.6h0.9v0.9h-0.9zM48.8 486.7h0.9v0.9h-0.9zM44.2 486.0h0.9v0.9h-0.9zM51.3 482.2h0.9v0.9h-0.9zM45.9 487.2h0.9v0.9h-0.9zM46.1 486.7h0.9v0.9h-0.9zM45.2 480.9h0.9v0.9h-0.9zM51.2 483.7h0.9v0.9h-0.9zM50.9 481.1h0.9v0.9h-0.9zM46.8 485.5h0.9v0.9h-0.9zM46.2 486.5h0.9v0.9h-0.9zM46.4 479.8h0.9v0.9h-0.9zM44.3 480.5h0.9v0.9h-0.9zM45.5 480.4h0.9v0.9h-0.9zM43.7 481.9h0.9v0.9h-0.9zM44.0 485.3h0.9v0.9h-0.9zM51.9 483.3h0.9v0.9h-0.9zM50.5 484.7h0.9v0.9h-0.9zM43.2 481.7h0.9v0.9h-0.9zM51.3 482.5h0.9v0.9h-0.9zM48.9 484.4h0.9v0.9h-0.9z"/>
<path d="M55.20,492.40 L55.20,470.00 L71.80,470.00 L71.80,492.40" fill="none" stroke="#999" stroke-width="0.8"/>
<rect x="36.60" y="443.00" width="47.40" height="49.40" fill="none" stroke="#666" stroke-width="0.9"/>
<text transform="translate(61.60,455.80) scale(0.862,1)" font-size="7.54" text-anchor="middle" fill="#333" style="stroke-width:0.06px">CD34</text>
<text transform="translate(61.60,463.30) scale(0.862,1)" font-size="7.54" text-anchor="middle" fill="#333" style="stroke-width:0.06px">0.36%</text>
<rect x="88.60" y="443.00" width="47.40" height="49.40" fill="#fff"/>
<path fill="#c6cdea" d="M120.5 488.3h.6v.6h-.6zM113.4 472.6h.6v.6h-.6zM100.9 484.4h.6v.6h-.6zM115.8 467.4h.6v.6h-.6zM95.8 488.8h.6v.6h-.6zM94.3 483.0h.6v.6h-.6zM100.9 482.8h.6v.6h-.6zM117.5 481.2h.6v.6h-.6zM102.8 474.9h.6v.6h-.6zM110.0 482.3h.6v.6h-.6zM103.4 478.4h.6v.6h-.6zM107.3 473.3h.6v.6h-.6zM96.2 480.9h.6v.6h-.6zM93.7 481.6h.6v.6h-.6zM115.6 487.2h.6v.6h-.6zM98.5 477.1h.6v.6h-.6zM119.4 475.5h.6v.6h-.6zM121.5 471.9h.6v.6h-.6zM116.8 468.0h.6v.6h-.6zM111.4 486.7h.6v.6h-.6zM107.7 482.4h.6v.6h-.6zM119.1 491.3h.6v.6h-.6zM96.2 479.8h.6v.6h-.6zM91.8 476.2h.6v.6h-.6zM95.1 470.9h.6v.6h-.6zM110.1 469.1h.6v.6h-.6zM95.4 467.2h.6v.6h-.6zM116.0 472.9h.6v.6h-.6zM92.9 482.2h.6v.6h-.6zM113.0 482.4h.6v.6h-.6z"/>
<path fill="#44a8bc" d="M97.8 484.1h0.9v0.9h-0.9zM99.3 483.0h0.9v0.9h-0.9zM98.6 482.8h0.9v0.9h-0.9zM97.2 484.0h0.9v0.9h-0.9zM98.9 480.7h0.9v0.9h-0.9zM98.2 482.9h0.9v0.9h-0.9zM98.1 480.8h0.9v0.9h-0.9zM98.7 482.7h0.9v0.9h-0.9zM95.7 484.1h0.9v0.9h-0.9zM97.8 484.1h0.9v0.9h-0.9zM99.3 481.4h0.9v0.9h-0.9zM98.0 479.5h0.9v0.9h-0.9zM99.2 482.9h0.9v0.9h-0.9zM99.6 482.8h0.9v0.9h-0.9zM96.5 482.3h0.9v0.9h-0.9zM98.5 484.0h0.9v0.9h-0.9zM96.4 483.6h0.9v0.9h-0.9zM97.0 484.2h0.9v0.9h-0.9z"/>
<path fill="#3fb0b0" d="M95.5 482.9h0.9v0.9h-0.9zM96.2 482.8h0.9v0.9h-0.9zM97.3 482.6h0.9v0.9h-0.9zM95.8 483.2h0.9v0.9h-0.9zM96.4 483.9h0.9v0.9h-0.9zM97.3 480.8h0.9v0.9h-0.9zM96.8 480.1h0.9v0.9h-0.9zM96.9 481.6h0.9v0.9h-0.9zM98.4 479.4h0.9v0.9h-0.9zM99.0 480.3h0.9v0.9h-0.9zM98.3 481.8h0.9v0.9h-0.9zM97.0 480.7h0.9v0.9h-0.9zM96.4 481.0h0.9v0.9h-0.9zM96.1 482.3h0.9v0.9h-0.9zM98.1 479.8h0.9v0.9h-0.9zM97.6 480.0h0.9v0.9h-0.9zM95.9 481.8h0.9v0.9h-0.9zM96.7 481.0h0.9v0.9h-0.9zM98.0 483.7h0.9v0.9h-0.9zM95.4 481.8h0.9v0.9h-0.9zM99.9 480.7h0.9v0.9h-0.9zM96.8 481.8h0.9v0.9h-0.9zM97.0 481.7h0.9v0.9h-0.9zM99.0 480.7h0.9v0.9h-0.9zM97.0 483.5h0.9v0.9h-0.9zM97.0 480.1h0.9v0.9h-0.9zM97.4 481.1h0.9v0.9h-0.9zM97.3 479.6h0.9v0.9h-0.9z"/>
<path fill="#a7bbea" d="M100.1 473.8h0.9v0.9h-0.9zM100.0 490.3h0.9v0.9h-0.9zM107.4 479.8h0.9v0.9h-0.9zM106.3 483.9h0.9v0.9h-0.9zM106.6 483.1h0.9v0.9h-0.9zM90.0 488.1h0.9v0.9h-0.9zM93.1 474.9h0.9v0.9h-0.9zM109.2 479.9h0.9v0.9h-0.9zM100.3 473.3h0.9v0.9h-0.9zM89.6 472.2h0.9v0.9h-0.9zM98.4 469.7h0.9v0.9h-0.9zM106.7 475.0h0.9v0.9h-0.9zM100.8 491.8h0.9v0.9h-0.9zM94.8 490.5h0.9v0.9h-0.9zM102.8 487.9h0.9v0.9h-0.9zM105.4 468.5h0.9v0.9h-0.9zM100.3 473.4h0.9v0.9h-0.9zM100.3 473.5h0.9v0.9h-0.9zM95.7 491.2h0.9v0.9h-0.9zM110.4 486.6h0.9v0.9h-0.9zM107.5 470.3h0.9v0.9h-0.9zM91.3 478.7h0.9v0.9h-0.9zM104.4 486.4h0.9v0.9h-0.9zM91.2 478.1h0.9v0.9h-0.9zM102.2 487.3h0.9v0.9h-0.9zM96.0 490.9h0.9v0.9h-0.9zM96.4 471.8h0.9v0.9h-0.9zM108.4 477.5h0.9v0.9h-0.9zM101.8 472.6h0.9v0.9h-0.9zM96.3 490.7h0.9v0.9h-0.9zM98.6 491.4h0.9v0.9h-0.9zM98.8 490.4h0.9v0.9h-0.9zM101.1 490.8h0.9v0.9h-0.9zM89.4 485.8h0.9v0.9h-0.9zM106.7 481.0h0.9v0.9h-0.9zM94.5 491.6h0.9v0.9h-0.9zM90.0 475.5h0.9v0.9h-0.9zM92.4 490.6h0.9v0.9h-0.9zM104.6 474.9h0.9v0.9h-0.9zM105.9 481.4h0.9v0.9h-0.9zM103.5 473.9h0.9v0.9h-0.9zM102.2 489.3h0.9v0.9h-0.9zM107.0 487.5h0.9v0.9h-0.9zM102.5 487.5h0.9v0.9h-0.9zM104.6 471.1h0.9v0.9h-0.9zM105.9 482.3h0.9v0.9h-0.9zM106.3 482.7h0.9v0.9h-0.9zM90.5 477.0h0.9v0.9h-0.9zM106.1 477.0h0.9v0.9h-0.9zM97.5 473.4h0.9v0.9h-0.9z"/>
<path fill="#3a9cc4" d="M93.1 482.8h0.9v0.9h-0.9zM94.8 485.1h0.9v0.9h-0.9zM95.6 482.9h0.9v0.9h-0.9zM99.3 486.0h0.9v0.9h-0.9zM94.2 479.3h0.9v0.9h-0.9zM96.7 485.6h0.9v0.9h-0.9zM102.6 479.9h0.9v0.9h-0.9zM95.7 480.1h0.9v0.9h-0.9zM101.2 481.7h0.9v0.9h-0.9zM98.6 482.9h0.9v0.9h-0.9zM95.6 487.0h0.9v0.9h-0.9zM95.6 481.0h0.9v0.9h-0.9zM99.6 482.7h0.9v0.9h-0.9zM95.6 484.6h0.9v0.9h-0.9zM97.5 481.6h0.9v0.9h-0.9zM100.2 477.7h0.9v0.9h-0.9zM93.7 480.0h0.9v0.9h-0.9zM94.9 486.9h0.9v0.9h-0.9zM96.4 478.6h0.9v0.9h-0.9zM98.6 483.1h0.9v0.9h-0.9zM98.8 482.8h0.9v0.9h-0.9zM101.9 479.0h0.9v0.9h-0.9zM98.9 481.4h0.9v0.9h-0.9zM94.0 481.7h0.9v0.9h-0.9zM96.2 477.7h0.9v0.9h-0.9zM97.3 485.9h0.9v0.9h-0.9zM94.4 480.4h0.9v0.9h-0.9zM100.1 483.1h0.9v0.9h-0.9zM99.2 485.5h0.9v0.9h-0.9zM100.0 481.6h0.9v0.9h-0.9zM96.2 482.4h0.9v0.9h-0.9zM94.6 482.4h0.9v0.9h-0.9zM95.1 478.9h0.9v0.9h-0.9zM93.2 482.1h0.9v0.9h-0.9zM100.3 481.0h0.9v0.9h-0.9zM96.3 481.5h0.9v0.9h-0.9zM95.7 483.5h0.9v0.9h-0.9zM102.3 482.5h0.9v0.9h-0.9zM100.3 480.3h0.9v0.9h-0.9zM96.4 486.6h0.9v0.9h-0.9zM93.6 485.7h0.9v0.9h-0.9zM99.4 479.8h0.9v0.9h-0.9zM101.7 483.1h0.9v0.9h-0.9zM99.0 485.5h0.9v0.9h-0.9zM96.0 480.8h0.9v0.9h-0.9zM97.5 483.6h0.9v0.9h-0.9zM95.9 478.3h0.9v0.9h-0.9zM102.4 480.7h0.9v0.9h-0.9zM98.3 485.1h0.9v0.9h-0.9zM94.6 484.8h0.9v0.9h-0.9zM94.1 484.6h0.9v0.9h-0.9zM92.4 482.9h0.9v0.9h-0.9zM96.4 487.0h0.9v0.9h-0.9zM95.8 486.3h0.9v0.9h-0.9zM93.6 482.0h0.9v0.9h-0.9zM94.1 480.6h0.9v0.9h-0.9zM98.6 483.5h0.9v0.9h-0.9zM97.2 479.0h0.9v0.9h-0.9zM99.3 484.7h0.9v0.9h-0.9zM97.5 479.8h0.9v0.9h-0.9zM96.3 486.5h0.9v0.9h-0.9zM96.5 482.2h0.9v0.9h-0.9zM96.0 487.1h0.9v0.9h-0.9zM97.7 478.3h0.9v0.9h-0.9zM96.9 483.8h0.9v0.9h-0.9zM93.4 482.4h0.9v0.9h-0.9zM99.2 477.3h0.9v0.9h-0.9zM97.2 480.1h0.9v0.9h-0.9zM100.7 477.2h0.9v0.9h-0.9zM100.9 480.4h0.9v0.9h-0.9zM100.6 478.0h0.9v0.9h-0.9zM99.1 478.5h0.9v0.9h-0.9zM96.3 486.0h0.9v0.9h-0.9zM100.5 478.9h0.9v0.9h-0.9zM98.5 485.0h0.9v0.9h-0.9zM100.1 477.8h0.9v0.9h-0.9zM93.5 482.5h0.9v0.9h-0.9zM97.4 480.5h0.9v0.9h-0.9zM101.6 479.7h0.9v0.9h-0.9zM96.1 479.6h0.9v0.9h-0.9zM99.9 484.1h0.9v0.9h-0.9zM101.4 478.1h0.9v0.9h-0.9zM98.7 486.0h0.9v0.9h-0.9zM94.7 480.7h0.9v0.9h-0.9zM93.4 482.0h0.9v0.9h-0.9zM97.1 479.8h0.9v0.9h-0.9zM94.8 483.9h0.9v0.9h-0.9zM95.5 479.2h0.9v0.9h-0.9zM100.4 485.0h0.9v0.9h-0.9zM97.2 484.9h0.9v0.9h-0.9zM98.2 480.3h0.9v0.9h-0.9zM93.6 484.8h0.9v0.9h-0.9zM99.5 478.8h0.9v0.9h-0.9zM97.5 479.6h0.9v0.9h-0.9zM101.3 478.5h0.9v0.9h-0.9z"/>
<path fill="#4a78d0" d="M99.3 478.3h0.9v0.9h-0.9zM99.8 484.7h0.9v0.9h-0.9zM98.4 477.1h0.9v0.9h-0.9zM97.9 486.6h0.9v0.9h-0.9zM98.0 478.3h0.9v0.9h-0.9zM96.3 486.4h0.9v0.9h-0.9zM95.6 487.1h0.9v0.9h-0.9zM93.7 485.7h0.9v0.9h-0.9zM94.3 480.6h0.9v0.9h-0.9zM94.8 482.4h0.9v0.9h-0.9zM101.4 480.4h0.9v0.9h-0.9zM100.0 477.2h0.9v0.9h-0.9zM102.4 481.6h0.9v0.9h-0.9zM99.4 484.4h0.9v0.9h-0.9zM99.2 484.3h0.9v0.9h-0.9zM97.4 486.2h0.9v0.9h-0.9zM102.2 482.8h0.9v0.9h-0.9zM98.9 478.8h0.9v0.9h-0.9zM100.2 485.4h0.9v0.9h-0.9zM98.6 478.6h0.9v0.9h-0.9zM92.9 483.7h0.9v0.9h-0.9zM93.0 483.0h0.9v0.9h-0.9zM100.5 478.6h0.9v0.9h-0.9zM101.6 483.1h0.9v0.9h-0.9zM93.9 483.3h0.9v0.9h-0.9zM93.1 485.1h0.9v0.9h-0.9zM93.1 482.5h0.9v0.9h-0.9zM95.3 480.5h0.9v0.9h-0.9zM101.9 477.9h0.9v0.9h-0.9zM94.2 484.6h0.9v0.9h-0.9zM100.1 478.4h0.9v0.9h-0.9zM100.6 480.0h0.9v0.9h-0.9zM94.6 486.2h0.9v0.9h-0.9zM101.0 482.4h0.9v0.9h-0.9zM97.6 479.2h0.9v0.9h-0.9zM99.6 483.5h0.9v0.9h-0.9zM101.4 480.1h0.9v0.9h-0.9zM102.4 482.3h0.9v0.9h-0.9zM93.0 483.5h0.9v0.9h-0.9zM98.8 484.4h0.9v0.9h-0.9zM94.4 482.4h0.9v0.9h-0.9zM93.0 484.3h0.9v0.9h-0.9zM98.1 485.8h0.9v0.9h-0.9zM95.7 479.9h0.9v0.9h-0.9zM96.9 485.2h0.9v0.9h-0.9zM93.5 483.5h0.9v0.9h-0.9zM93.7 484.5h0.9v0.9h-0.9zM102.0 480.8h0.9v0.9h-0.9zM101.7 483.2h0.9v0.9h-0.9zM96.2 486.5h0.9v0.9h-0.9zM96.1 477.8h0.9v0.9h-0.9zM93.6 480.5h0.9v0.9h-0.9zM93.2 483.3h0.9v0.9h-0.9z"/>
<path fill="#bccaf0" d="M101.7 473.5h0.9v0.9h-0.9zM105.7 487.0h0.9v0.9h-0.9zM91.1 488.7h0.9v0.9h-0.9zM90.4 476.2h0.9v0.9h-0.9zM93.2 491.4h0.9v0.9h-0.9zM94.3 491.6h0.9v0.9h-0.9zM107.9 478.7h0.9v0.9h-0.9zM97.5 491.8h0.9v0.9h-0.9zM97.8 472.8h0.9v0.9h-0.9zM108.1 475.6h0.9v0.9h-0.9zM92.7 475.1h0.9v0.9h-0.9zM107.3 487.1h0.9v0.9h-0.9zM95.8 471.3h0.9v0.9h-0.9zM93.8 491.5h0.9v0.9h-0.9zM91.6 491.8h0.9v0.9h-0.9zM108.9 472.3h0.9v0.9h-0.9zM98.8 473.6h0.9v0.9h-0.9zM101.8 487.5h0.9v0.9h-0.9zM95.4 472.4h0.9v0.9h-0.9zM106.0 486.0h0.9v0.9h-0.9zM91.1 490.3h0.9v0.9h-0.9zM103.5 486.9h0.9v0.9h-0.9zM106.9 482.0h0.9v0.9h-0.9zM100.0 472.8h0.9v0.9h-0.9zM96.4 490.4h0.9v0.9h-0.9zM96.5 471.4h0.9v0.9h-0.9zM92.5 473.2h0.9v0.9h-0.9zM90.6 479.8h0.9v0.9h-0.9zM91.2 477.5h0.9v0.9h-0.9zM103.9 486.1h0.9v0.9h-0.9zM91.6 475.1h0.9v0.9h-0.9zM102.5 487.1h0.9v0.9h-0.9zM105.6 483.2h0.9v0.9h-0.9zM101.9 489.6h0.9v0.9h-0.9zM93.3 472.0h0.9v0.9h-0.9zM105.0 484.3h0.9v0.9h-0.9zM94.4 473.2h0.9v0.9h-0.9z"/>
<path fill="#5688d8" d="M99.0 485.3h0.9v0.9h-0.9zM101.6 481.0h0.9v0.9h-0.9zM95.5 480.4h0.9v0.9h-0.9zM95.7 478.9h0.9v0.9h-0.9zM93.2 484.5h0.9v0.9h-0.9zM98.3 477.1h0.9v0.9h-0.9zM101.4 478.3h0.9v0.9h-0.9zM99.7 484.1h0.9v0.9h-0.9zM94.8 482.8h0.9v0.9h-0.9zM99.0 478.7h0.9v0.9h-0.9zM100.7 482.5h0.9v0.9h-0.9zM95.9 479.3h0.9v0.9h-0.9zM99.5 485.3h0.9v0.9h-0.9zM96.9 479.1h0.9v0.9h-0.9zM93.8 484.7h0.9v0.9h-0.9zM99.7 485.1h0.9v0.9h-0.9zM101.9 481.9h0.9v0.9h-0.9zM95.6 486.3h0.9v0.9h-0.9zM96.0 486.0h0.9v0.9h-0.9zM98.4 486.1h0.9v0.9h-0.9zM96.3 477.6h0.9v0.9h-0.9zM100.3 477.1h0.9v0.9h-0.9zM98.0 479.3h0.9v0.9h-0.9zM93.3 483.3h0.9v0.9h-0.9zM94.2 481.5h0.9v0.9h-0.9zM95.4 484.6h0.9v0.9h-0.9zM93.6 485.4h0.9v0.9h-0.9zM98.4 479.0h0.9v0.9h-0.9zM100.2 478.7h0.9v0.9h-0.9zM96.6 486.4h0.9v0.9h-0.9zM99.8 483.9h0.9v0.9h-0.9zM92.5 482.5h0.9v0.9h-0.9zM96.0 480.1h0.9v0.9h-0.9zM98.7 486.4h0.9v0.9h-0.9zM96.4 484.6h0.9v0.9h-0.9zM93.7 480.2h0.9v0.9h-0.9zM95.4 478.5h0.9v0.9h-0.9zM93.9 485.9h0.9v0.9h-0.9zM93.7 483.1h0.9v0.9h-0.9zM98.4 484.3h0.9v0.9h-0.9zM99.6 483.4h0.9v0.9h-0.9zM96.9 478.5h0.9v0.9h-0.9zM100.8 484.1h0.9v0.9h-0.9zM96.4 484.8h0.9v0.9h-0.9zM97.5 479.1h0.9v0.9h-0.9zM102.5 479.9h0.9v0.9h-0.9zM93.0 485.0h0.9v0.9h-0.9zM93.6 480.1h0.9v0.9h-0.9zM96.2 478.8h0.9v0.9h-0.9z"/>
<path fill="#5a7fd6" d="M103.2 483.6h0.9v0.9h-0.9zM90.7 483.3h0.9v0.9h-0.9zM92.9 479.8h0.9v0.9h-0.9zM94.0 488.8h0.9v0.9h-0.9zM101.1 486.3h0.9v0.9h-0.9zM98.4 476.6h0.9v0.9h-0.9zM104.3 479.4h0.9v0.9h-0.9zM102.2 477.9h0.9v0.9h-0.9zM97.5 488.2h0.9v0.9h-0.9zM100.2 485.8h0.9v0.9h-0.9zM97.4 476.4h0.9v0.9h-0.9zM97.8 476.7h0.9v0.9h-0.9zM99.4 474.8h0.9v0.9h-0.9zM103.1 475.3h0.9v0.9h-0.9zM105.1 479.6h0.9v0.9h-0.9zM91.6 483.9h0.9v0.9h-0.9zM92.3 478.1h0.9v0.9h-0.9zM101.2 474.3h0.9v0.9h-0.9zM90.1 486.7h0.9v0.9h-0.9zM92.4 479.9h0.9v0.9h-0.9zM99.0 475.5h0.9v0.9h-0.9zM103.2 478.8h0.9v0.9h-0.9zM94.3 477.4h0.9v0.9h-0.9zM101.9 485.2h0.9v0.9h-0.9zM92.5 489.5h0.9v0.9h-0.9zM94.2 486.9h0.9v0.9h-0.9zM97.1 488.2h0.9v0.9h-0.9zM96.0 477.1h0.9v0.9h-0.9zM92.5 487.8h0.9v0.9h-0.9zM90.4 487.2h0.9v0.9h-0.9zM92.3 489.4h0.9v0.9h-0.9zM101.3 484.5h0.9v0.9h-0.9zM102.1 476.5h0.9v0.9h-0.9zM92.1 485.7h0.9v0.9h-0.9zM96.9 489.5h0.9v0.9h-0.9zM91.4 480.0h0.9v0.9h-0.9zM90.5 485.9h0.9v0.9h-0.9zM90.4 486.8h0.9v0.9h-0.9zM97.8 487.1h0.9v0.9h-0.9zM92.0 481.0h0.9v0.9h-0.9zM105.2 477.0h0.9v0.9h-0.9zM97.0 476.0h0.9v0.9h-0.9zM96.9 477.1h0.9v0.9h-0.9zM99.4 487.8h0.9v0.9h-0.9zM104.2 482.6h0.9v0.9h-0.9zM94.9 487.9h0.9v0.9h-0.9zM95.6 489.1h0.9v0.9h-0.9zM97.2 487.2h0.9v0.9h-0.9zM92.3 488.9h0.9v0.9h-0.9zM102.8 479.2h0.9v0.9h-0.9zM103.6 476.1h0.9v0.9h-0.9zM93.0 479.8h0.9v0.9h-0.9zM104.0 479.4h0.9v0.9h-0.9zM92.7 486.2h0.9v0.9h-0.9zM92.3 481.4h0.9v0.9h-0.9zM96.3 475.8h0.9v0.9h-0.9zM91.3 486.1h0.9v0.9h-0.9zM91.8 482.7h0.9v0.9h-0.9zM96.8 475.4h0.9v0.9h-0.9zM92.4 487.2h0.9v0.9h-0.9zM94.8 478.4h0.9v0.9h-0.9zM92.0 480.1h0.9v0.9h-0.9zM95.7 476.3h0.9v0.9h-0.9zM104.9 476.9h0.9v0.9h-0.9zM91.8 483.8h0.9v0.9h-0.9zM99.9 486.4h0.9v0.9h-0.9zM93.4 476.8h0.9v0.9h-0.9zM90.4 487.3h0.9v0.9h-0.9zM97.3 487.7h0.9v0.9h-0.9zM103.6 482.0h0.9v0.9h-0.9zM90.3 482.6h0.9v0.9h-0.9zM91.5 479.5h0.9v0.9h-0.9zM101.6 474.8h0.9v0.9h-0.9zM92.9 480.5h0.9v0.9h-0.9zM90.3 481.8h0.9v0.9h-0.9zM91.8 484.8h0.9v0.9h-0.9z"/>
<path fill="#89a2e2" d="M100.9 476.6h0.9v0.9h-0.9zM102.3 483.1h0.9v0.9h-0.9zM92.7 489.4h0.9v0.9h-0.9zM103.8 480.0h0.9v0.9h-0.9zM101.8 484.6h0.9v0.9h-0.9zM93.5 477.5h0.9v0.9h-0.9zM102.6 475.4h0.9v0.9h-0.9zM90.4 481.0h0.9v0.9h-0.9zM102.8 483.4h0.9v0.9h-0.9zM91.4 488.8h0.9v0.9h-0.9zM91.9 482.8h0.9v0.9h-0.9zM94.6 477.2h0.9v0.9h-0.9zM100.6 487.1h0.9v0.9h-0.9zM101.1 486.1h0.9v0.9h-0.9zM92.2 487.1h0.9v0.9h-0.9zM95.3 476.8h0.9v0.9h-0.9zM92.0 488.1h0.9v0.9h-0.9zM98.3 487.6h0.9v0.9h-0.9zM102.6 477.5h0.9v0.9h-0.9zM98.8 476.6h0.9v0.9h-0.9zM101.9 475.7h0.9v0.9h-0.9zM98.8 486.7h0.9v0.9h-0.9zM94.7 488.6h0.9v0.9h-0.9zM92.2 478.8h0.9v0.9h-0.9zM92.5 487.4h0.9v0.9h-0.9zM104.3 477.4h0.9v0.9h-0.9zM100.6 486.8h0.9v0.9h-0.9zM99.0 486.6h0.9v0.9h-0.9zM92.4 485.8h0.9v0.9h-0.9zM94.7 489.1h0.9v0.9h-0.9zM103.8 475.7h0.9v0.9h-0.9zM89.8 485.8h0.9v0.9h-0.9zM104.7 476.6h0.9v0.9h-0.9zM97.3 475.3h0.9v0.9h-0.9zM100.9 475.9h0.9v0.9h-0.9zM97.7 488.5h0.9v0.9h-0.9zM94.7 488.5h0.9v0.9h-0.9zM99.5 476.5h0.9v0.9h-0.9zM101.9 486.6h0.9v0.9h-0.9zM92.0 483.5h0.9v0.9h-0.9zM100.3 487.9h0.9v0.9h-0.9zM104.7 481.6h0.9v0.9h-0.9zM102.6 483.1h0.9v0.9h-0.9zM92.6 481.7h0.9v0.9h-0.9zM102.5 485.3h0.9v0.9h-0.9zM90.9 486.4h0.9v0.9h-0.9zM102.8 474.6h0.9v0.9h-0.9zM104.1 479.9h0.9v0.9h-0.9zM96.8 489.9h0.9v0.9h-0.9zM101.2 476.5h0.9v0.9h-0.9zM93.9 479.4h0.9v0.9h-0.9zM93.7 488.7h0.9v0.9h-0.9zM100.1 476.8h0.9v0.9h-0.9zM95.5 477.1h0.9v0.9h-0.9zM103.2 481.3h0.9v0.9h-0.9zM101.6 475.9h0.9v0.9h-0.9zM96.7 488.4h0.9v0.9h-0.9zM90.6 484.3h0.9v0.9h-0.9zM93.3 479.7h0.9v0.9h-0.9zM92.0 478.2h0.9v0.9h-0.9zM90.2 483.0h0.9v0.9h-0.9zM97.9 475.6h0.9v0.9h-0.9zM94.0 478.8h0.9v0.9h-0.9zM94.5 475.8h0.9v0.9h-0.9zM103.5 478.6h0.9v0.9h-0.9zM101.1 477.0h0.9v0.9h-0.9zM94.9 477.6h0.9v0.9h-0.9zM92.3 486.5h0.9v0.9h-0.9zM103.3 481.9h0.9v0.9h-0.9zM99.0 487.8h0.9v0.9h-0.9zM90.2 486.5h0.9v0.9h-0.9zM96.2 489.2h0.9v0.9h-0.9zM100.4 485.8h0.9v0.9h-0.9zM92.9 486.0h0.9v0.9h-0.9zM93.5 478.6h0.9v0.9h-0.9zM101.3 486.5h0.9v0.9h-0.9zM104.0 481.7h0.9v0.9h-0.9zM100.6 485.4h0.9v0.9h-0.9z"/>
<path fill="#4f80d4" d="M94.1 484.8h0.9v0.9h-0.9zM96.8 485.1h0.9v0.9h-0.9zM98.6 486.6h0.9v0.9h-0.9zM102.2 481.8h0.9v0.9h-0.9zM95.1 486.6h0.9v0.9h-0.9zM92.5 483.1h0.9v0.9h-0.9zM95.4 486.7h0.9v0.9h-0.9zM101.1 479.4h0.9v0.9h-0.9zM95.9 479.4h0.9v0.9h-0.9zM93.2 482.2h0.9v0.9h-0.9zM100.6 484.5h0.9v0.9h-0.9zM100.6 478.7h0.9v0.9h-0.9zM95.5 480.3h0.9v0.9h-0.9zM98.2 485.2h0.9v0.9h-0.9zM98.6 485.9h0.9v0.9h-0.9zM100.8 478.0h0.9v0.9h-0.9zM101.9 477.9h0.9v0.9h-0.9zM92.5 484.4h0.9v0.9h-0.9zM100.3 483.5h0.9v0.9h-0.9zM93.1 481.1h0.9v0.9h-0.9zM96.4 485.8h0.9v0.9h-0.9zM102.7 479.6h0.9v0.9h-0.9zM95.4 486.2h0.9v0.9h-0.9zM102.3 478.9h0.9v0.9h-0.9zM93.5 480.8h0.9v0.9h-0.9zM96.7 478.7h0.9v0.9h-0.9zM100.2 483.2h0.9v0.9h-0.9zM97.3 485.5h0.9v0.9h-0.9zM100.9 480.5h0.9v0.9h-0.9zM97.2 479.1h0.9v0.9h-0.9zM95.2 484.9h0.9v0.9h-0.9zM97.9 485.5h0.9v0.9h-0.9zM93.6 484.9h0.9v0.9h-0.9zM101.7 482.2h0.9v0.9h-0.9zM96.7 478.6h0.9v0.9h-0.9zM92.5 482.7h0.9v0.9h-0.9zM95.6 486.9h0.9v0.9h-0.9zM92.5 484.7h0.9v0.9h-0.9zM93.3 480.9h0.9v0.9h-0.9zM95.1 484.5h0.9v0.9h-0.9zM94.9 482.2h0.9v0.9h-0.9zM98.6 477.9h0.9v0.9h-0.9zM101.9 480.3h0.9v0.9h-0.9zM94.9 484.8h0.9v0.9h-0.9z"/>
<path fill="#4cbcaa" d="M99.0 482.6h0.9v0.9h-0.9zM98.9 482.7h0.9v0.9h-0.9zM96.9 481.0h0.9v0.9h-0.9zM97.7 482.3h0.9v0.9h-0.9zM97.4 482.3h0.9v0.9h-0.9zM95.8 482.7h0.9v0.9h-0.9zM98.3 480.0h0.9v0.9h-0.9zM99.2 480.5h0.9v0.9h-0.9zM97.3 482.5h0.9v0.9h-0.9zM95.6 481.9h0.9v0.9h-0.9zM96.9 483.3h0.9v0.9h-0.9zM97.1 483.5h0.9v0.9h-0.9zM96.8 480.9h0.9v0.9h-0.9zM96.3 483.4h0.9v0.9h-0.9zM96.8 480.7h0.9v0.9h-0.9zM98.5 479.9h0.9v0.9h-0.9zM95.8 483.7h0.9v0.9h-0.9zM99.6 481.7h0.9v0.9h-0.9zM96.1 483.3h0.9v0.9h-0.9zM97.9 480.1h0.9v0.9h-0.9zM95.9 482.3h0.9v0.9h-0.9zM98.7 481.9h0.9v0.9h-0.9z"/>
<path fill="#6a8cdc" d="M96.5 488.3h0.9v0.9h-0.9zM100.3 476.5h0.9v0.9h-0.9zM102.0 476.7h0.9v0.9h-0.9zM96.2 476.9h0.9v0.9h-0.9zM92.4 479.5h0.9v0.9h-0.9zM96.8 475.6h0.9v0.9h-0.9zM100.8 475.8h0.9v0.9h-0.9zM94.2 488.3h0.9v0.9h-0.9zM105.0 480.2h0.9v0.9h-0.9zM98.2 475.2h0.9v0.9h-0.9zM101.9 476.3h0.9v0.9h-0.9zM104.0 475.6h0.9v0.9h-0.9zM104.6 477.8h0.9v0.9h-0.9zM101.9 474.2h0.9v0.9h-0.9zM98.1 487.8h0.9v0.9h-0.9zM92.7 488.9h0.9v0.9h-0.9zM95.9 488.1h0.9v0.9h-0.9zM102.0 485.3h0.9v0.9h-0.9zM103.6 483.1h0.9v0.9h-0.9zM89.7 483.0h0.9v0.9h-0.9zM103.9 480.0h0.9v0.9h-0.9zM92.1 480.8h0.9v0.9h-0.9zM102.8 475.6h0.9v0.9h-0.9zM99.6 474.9h0.9v0.9h-0.9zM103.7 482.6h0.9v0.9h-0.9zM104.5 483.0h0.9v0.9h-0.9zM93.7 478.0h0.9v0.9h-0.9zM94.4 477.1h0.9v0.9h-0.9zM93.4 489.2h0.9v0.9h-0.9zM100.9 476.7h0.9v0.9h-0.9zM105.7 479.0h0.9v0.9h-0.9zM92.3 479.8h0.9v0.9h-0.9zM93.5 479.4h0.9v0.9h-0.9zM95.1 478.1h0.9v0.9h-0.9zM93.7 478.3h0.9v0.9h-0.9zM97.4 488.3h0.9v0.9h-0.9zM90.2 484.2h0.9v0.9h-0.9zM93.9 478.3h0.9v0.9h-0.9zM91.3 486.3h0.9v0.9h-0.9zM103.7 477.7h0.9v0.9h-0.9zM94.2 479.0h0.9v0.9h-0.9zM102.5 483.0h0.9v0.9h-0.9zM91.4 481.9h0.9v0.9h-0.9zM105.5 478.1h0.9v0.9h-0.9zM89.9 483.9h0.9v0.9h-0.9zM93.7 487.6h0.9v0.9h-0.9zM91.4 479.2h0.9v0.9h-0.9zM103.2 484.3h0.9v0.9h-0.9zM104.3 483.7h0.9v0.9h-0.9zM93.9 479.3h0.9v0.9h-0.9zM100.4 486.4h0.9v0.9h-0.9zM99.7 474.9h0.9v0.9h-0.9zM102.7 482.0h0.9v0.9h-0.9zM89.8 483.1h0.9v0.9h-0.9zM91.1 482.8h0.9v0.9h-0.9zM101.6 476.7h0.9v0.9h-0.9zM101.6 484.8h0.9v0.9h-0.9zM102.6 477.0h0.9v0.9h-0.9zM90.2 484.1h0.9v0.9h-0.9zM94.9 488.2h0.9v0.9h-0.9zM89.6 485.4h0.9v0.9h-0.9zM92.8 479.5h0.9v0.9h-0.9zM90.1 481.8h0.9v0.9h-0.9zM91.5 485.3h0.9v0.9h-0.9zM101.3 474.0h0.9v0.9h-0.9zM98.7 486.8h0.9v0.9h-0.9zM93.7 477.4h0.9v0.9h-0.9zM102.8 484.4h0.9v0.9h-0.9zM92.7 487.9h0.9v0.9h-0.9zM95.0 489.6h0.9v0.9h-0.9zM98.6 476.3h0.9v0.9h-0.9zM96.1 476.8h0.9v0.9h-0.9zM105.3 480.3h0.9v0.9h-0.9zM93.0 488.1h0.9v0.9h-0.9z"/>
<path fill="#98aee6" d="M107.1 472.2h0.9v0.9h-0.9zM92.8 476.8h0.9v0.9h-0.9zM109.0 484.1h0.9v0.9h-0.9zM107.5 482.3h0.9v0.9h-0.9zM102.1 489.1h0.9v0.9h-0.9zM99.1 489.5h0.9v0.9h-0.9zM102.8 488.7h0.9v0.9h-0.9zM105.4 473.8h0.9v0.9h-0.9zM91.2 491.3h0.9v0.9h-0.9zM107.3 471.6h0.9v0.9h-0.9zM102.1 487.2h0.9v0.9h-0.9zM92.5 477.3h0.9v0.9h-0.9zM100.7 489.5h0.9v0.9h-0.9zM97.9 471.7h0.9v0.9h-0.9zM104.0 473.7h0.9v0.9h-0.9zM97.5 472.2h0.9v0.9h-0.9zM90.2 490.6h0.9v0.9h-0.9zM97.4 473.3h0.9v0.9h-0.9zM101.8 472.2h0.9v0.9h-0.9zM104.2 474.9h0.9v0.9h-0.9zM103.3 474.3h0.9v0.9h-0.9zM96.8 474.4h0.9v0.9h-0.9zM104.7 486.0h0.9v0.9h-0.9zM109.4 475.2h0.9v0.9h-0.9zM94.2 475.7h0.9v0.9h-0.9zM107.4 475.9h0.9v0.9h-0.9zM101.8 472.6h0.9v0.9h-0.9zM94.0 490.4h0.9v0.9h-0.9zM98.7 472.9h0.9v0.9h-0.9zM109.1 477.4h0.9v0.9h-0.9zM109.6 480.3h0.9v0.9h-0.9z"/>
<path d="M107.30,492.40 L107.30,470.00 L124.60,470.00 L124.60,492.40" fill="none" stroke="#999" stroke-width="0.8"/>
<rect x="88.60" y="443.00" width="47.40" height="49.40" fill="none" stroke="#666" stroke-width="0.9"/>
<text transform="translate(116.50,455.80) scale(0.862,1)" font-size="7.54" text-anchor="middle" fill="#333" style="stroke-width:0.06px">CD45</text>
<text transform="translate(116.50,463.30) scale(0.862,1)" font-size="7.54" text-anchor="middle" fill="#333" style="stroke-width:0.06px">0.6%</text>
<text x="146.6" y="383.2" font-size="8.6" font-weight="bold" letter-spacing="0.2" style="stroke-width:0.3px">ii</text>
<line x1="173.20" y1="394.40" x2="173.20" y2="483.60" stroke="#111" stroke-width="1.25" />
<line x1="170.20" y1="483.00" x2="173.20" y2="483.00" stroke="#111" stroke-width="1.1" />
<text transform="translate(167.10,485.74) scale(0.862,1)" font-size="8.82" text-anchor="end">0</text>
<line x1="170.20" y1="453.67" x2="173.20" y2="453.67" stroke="#111" stroke-width="1.1" />
<text transform="translate(167.10,456.40) scale(0.862,1)" font-size="8.82" text-anchor="end">2</text>
<line x1="170.20" y1="424.33" x2="173.20" y2="424.33" stroke="#111" stroke-width="1.1" />
<text transform="translate(167.10,427.07) scale(0.862,1)" font-size="8.82" text-anchor="end">4</text>
<line x1="170.20" y1="395.00" x2="173.20" y2="395.00" stroke="#111" stroke-width="1.1" />
<text transform="translate(167.10,397.74) scale(0.862,1)" font-size="8.82" text-anchor="end">6</text>
<line x1="172.60" y1="483.00" x2="240.70" y2="483.00" stroke="#111" stroke-width="1.25" />
<line x1="189.30" y1="483.00" x2="189.30" y2="486.00" stroke="#111" stroke-width="1.1" />
<line x1="222.90" y1="483.00" x2="222.90" y2="486.00" stroke="#111" stroke-width="1.1" />
<text transform="translate(190.00,494.30) scale(0.862,1)" font-size="8.12" text-anchor="middle">CD34</text>
<text transform="translate(224.00,494.30) scale(0.862,1)" font-size="8.12" text-anchor="middle">CD45</text>
<rect x="178.70" y="385.70" width="8.30" height="3.90" fill="#e2879a" stroke="#d86f86" stroke-width="0.5"/>
<text transform="translate(190.50,390.25) scale(0.862,1)" font-size="8.47">shNC</text>
<rect x="178.70" y="394.80" width="8.30" height="4.00" fill="#86a8c5" stroke="#6f94b8" stroke-width="0.5"/>
<text transform="translate(190.50,399.40) scale(0.862,1)" font-size="8.47">shANP32B</text>
<text transform="translate(156.70,439.00) rotate(-90) scale(0.862,1)" font-size="8.58" text-anchor="middle">Repopulation in PB (%)</text>
<rect x="179.00" y="464.60" width="8.10" height="18.40" fill="#e2879a" stroke="#d86f86" stroke-width="0.6"/>
<line x1="183.10" y1="464.60" x2="183.10" y2="453.40" stroke="#111" stroke-width="0.9" />
<line x1="181.10" y1="453.40" x2="185.10" y2="453.40" stroke="#111" stroke-width="1.0" />
<rect x="191.00" y="481.09" width="8.60" height="1.91" fill="#86a8c5" stroke="#6f94b8" stroke-width="0.6"/>
<line x1="195.30" y1="481.09" x2="195.30" y2="480.36" stroke="#111" stroke-width="0.9" />
<line x1="193.30" y1="480.36" x2="197.30" y2="480.36" stroke="#111" stroke-width="1.0" />
<rect x="213.10" y="471.50" width="8.15" height="11.50" fill="#e2879a" stroke="#d86f86" stroke-width="0.6"/>
<line x1="217.20" y1="471.50" x2="217.20" y2="468.75" stroke="#111" stroke-width="0.9" />
<line x1="215.20" y1="468.75" x2="219.20" y2="468.75" stroke="#111" stroke-width="1.0" />
<rect x="225.00" y="481.24" width="7.80" height="1.76" fill="#86a8c5" stroke="#6f94b8" stroke-width="0.6"/>
<line x1="228.90" y1="481.24" x2="228.90" y2="480.07" stroke="#111" stroke-width="0.9" />
<line x1="226.90" y1="480.07" x2="230.90" y2="480.07" stroke="#111" stroke-width="1.0" />
<circle cx="183.10" cy="419.70" r="1.35" fill="#f1b3c0" stroke="#d11a42" stroke-width="0.95"/>
<circle cx="180.25" cy="477.75" r="1.35" fill="#f1b3c0" stroke="#d11a42" stroke-width="0.95"/>
<circle cx="183.10" cy="470.90" r="1.35" fill="#f1b3c0" stroke="#d11a42" stroke-width="0.95"/>
<circle cx="183.50" cy="475.60" r="1.35" fill="#f1b3c0" stroke="#d11a42" stroke-width="0.95"/>
<circle cx="186.50" cy="476.25" r="1.35" fill="#f1b3c0" stroke="#d11a42" stroke-width="0.95"/>
<circle cx="192.50" cy="480.00" r="1.35" fill="#f1b3c0" stroke="#d11a42" stroke-width="0.95"/>
<circle cx="193.75" cy="481.90" r="1.35" fill="#f1b3c0" stroke="#d11a42" stroke-width="0.95"/>
<circle cx="199.40" cy="481.60" r="1.35" fill="#f1b3c0" stroke="#d11a42" stroke-width="0.95"/>
<circle cx="217.25" cy="464.60" r="1.35" fill="#f1b3c0" stroke="#d11a42" stroke-width="0.95"/>
<circle cx="214.00" cy="468.10" r="1.35" fill="#f1b3c0" stroke="#d11a42" stroke-width="0.95"/>
<circle cx="214.00" cy="476.25" r="1.35" fill="#f1b3c0" stroke="#d11a42" stroke-width="0.95"/>
<circle cx="220.25" cy="475.25" r="1.35" fill="#f1b3c0" stroke="#d11a42" stroke-width="0.95"/>
<circle cx="229.60" cy="478.10" r="1.35" fill="#f1b3c0" stroke="#d11a42" stroke-width="0.95"/>
<circle cx="233.10" cy="479.40" r="1.35" fill="#f1b3c0" stroke="#d11a42" stroke-width="0.95"/>
<circle cx="226.25" cy="481.90" r="1.35" fill="#f1b3c0" stroke="#d11a42" stroke-width="0.95"/>
<circle cx="230.00" cy="481.25" r="1.35" fill="#f1b3c0" stroke="#d11a42" stroke-width="0.95"/>
<line x1="178.90" y1="415.80" x2="200.10" y2="415.80" stroke="#231f20" stroke-width="0.8" />
<text transform="translate(190.70,412.10) scale(0.862,1)" font-size="7.54" text-anchor="middle" style="stroke-width:0.05px"><tspan font-style="italic">P</tspan>=0.159</text>
<line x1="213.10" y1="460.40" x2="233.75" y2="460.40" stroke="#231f20" stroke-width="0.8" />
<text transform="translate(224.60,456.90) scale(0.862,1)" font-size="7.54" text-anchor="middle" style="stroke-width:0.05px"><tspan font-style="italic">P</tspan>=0.0027</text>
<text x="276.60" y="373.80" font-size="11" font-weight="bold" style="stroke:#000;stroke-width:0.55px" fill="#000">I</text>
<text x="282.40" y="384.90" font-size="7.8" font-weight="bold" style="stroke:#000;stroke-width:0.55px" fill="#000">i</text>
<text transform="translate(342.80,382.60) scale(0.862,1)" font-size="10.44" text-anchor="middle" style="stroke-width:0.22px">BM</text>
<line x1="300.00" y1="386.00" x2="385.90" y2="386.00" stroke="#888" stroke-width="1.6" />
<text transform="translate(290.30,413.60) rotate(-90) scale(0.862,1)" font-size="10.56" text-anchor="middle" style="stroke-width:0.22px">shNC</text>
<text transform="translate(290.30,468.20) rotate(-90) scale(0.862,1)" font-size="10.79" text-anchor="middle" style="stroke-width:0.22px">shANP32B</text>
<rect x="292.10" y="389.40" width="49.70" height="49.30" fill="#fff"/>
<path fill="#c6cdea" d="M321.2 418.6h.6v.6h-.6zM325.0 425.4h.6v.6h-.6zM307.1 428.4h.6v.6h-.6zM299.7 418.1h.6v.6h-.6zM307.9 419.0h.6v.6h-.6zM316.1 423.5h.6v.6h-.6zM306.7 420.1h.6v.6h-.6zM301.3 430.8h.6v.6h-.6zM323.7 421.9h.6v.6h-.6zM320.5 421.0h.6v.6h-.6zM319.0 419.2h.6v.6h-.6zM312.7 423.3h.6v.6h-.6zM322.7 431.9h.6v.6h-.6zM297.6 415.8h.6v.6h-.6zM309.2 418.6h.6v.6h-.6zM301.9 436.5h.6v.6h-.6zM324.9 413.8h.6v.6h-.6zM294.8 428.6h.6v.6h-.6zM325.2 435.0h.6v.6h-.6zM316.8 431.4h.6v.6h-.6zM309.9 425.3h.6v.6h-.6zM322.2 416.0h.6v.6h-.6zM316.5 430.9h.6v.6h-.6zM299.2 432.1h.6v.6h-.6zM299.6 436.9h.6v.6h-.6zM319.2 424.5h.6v.6h-.6zM313.2 437.1h.6v.6h-.6zM306.1 418.4h.6v.6h-.6zM316.7 435.3h.6v.6h-.6zM299.2 432.0h.6v.6h-.6z"/>
<path fill="#5580ec" d="M297.7 434.5h0.9v0.9h-0.9zM299.4 430.4h0.9v0.9h-0.9zM300.5 428.7h0.9v0.9h-0.9zM299.3 434.6h0.9v0.9h-0.9zM297.4 433.6h0.9v0.9h-0.9zM307.3 427.5h0.9v0.9h-0.9zM306.6 426.9h0.9v0.9h-0.9zM301.4 428.1h0.9v0.9h-0.9zM297.9 434.8h0.9v0.9h-0.9zM307.9 433.1h0.9v0.9h-0.9zM301.5 429.0h0.9v0.9h-0.9zM303.2 436.7h0.9v0.9h-0.9zM307.6 434.1h0.9v0.9h-0.9zM297.9 434.0h0.9v0.9h-0.9zM299.6 434.7h0.9v0.9h-0.9zM298.8 432.0h0.9v0.9h-0.9zM302.1 436.1h0.9v0.9h-0.9zM298.0 433.5h0.9v0.9h-0.9zM299.0 433.1h0.9v0.9h-0.9zM306.0 426.8h0.9v0.9h-0.9zM307.8 433.7h0.9v0.9h-0.9zM306.9 429.0h0.9v0.9h-0.9zM300.2 435.6h0.9v0.9h-0.9zM303.4 427.9h0.9v0.9h-0.9zM306.4 428.8h0.9v0.9h-0.9zM306.1 428.5h0.9v0.9h-0.9zM304.9 435.3h0.9v0.9h-0.9zM297.9 431.1h0.9v0.9h-0.9zM306.2 434.2h0.9v0.9h-0.9zM299.1 430.1h0.9v0.9h-0.9zM302.3 426.7h0.9v0.9h-0.9zM306.8 434.8h0.9v0.9h-0.9zM301.2 436.8h0.9v0.9h-0.9zM306.3 430.6h0.9v0.9h-0.9zM298.4 433.0h0.9v0.9h-0.9zM304.6 427.4h0.9v0.9h-0.9zM304.1 436.2h0.9v0.9h-0.9zM301.5 428.7h0.9v0.9h-0.9zM306.8 431.7h0.9v0.9h-0.9zM304.1 435.8h0.9v0.9h-0.9zM301.2 436.4h0.9v0.9h-0.9zM303.5 435.2h0.9v0.9h-0.9zM306.7 434.5h0.9v0.9h-0.9zM300.1 434.9h0.9v0.9h-0.9zM300.3 429.4h0.9v0.9h-0.9zM298.8 428.8h0.9v0.9h-0.9zM304.2 428.6h0.9v0.9h-0.9zM305.8 427.0h0.9v0.9h-0.9zM302.4 436.1h0.9v0.9h-0.9zM303.7 436.4h0.9v0.9h-0.9zM299.5 432.5h0.9v0.9h-0.9zM299.7 429.5h0.9v0.9h-0.9zM305.5 434.4h0.9v0.9h-0.9zM298.6 434.6h0.9v0.9h-0.9zM298.4 432.1h0.9v0.9h-0.9zM298.2 429.9h0.9v0.9h-0.9zM305.8 435.2h0.9v0.9h-0.9zM304.7 434.9h0.9v0.9h-0.9zM308.4 430.0h0.9v0.9h-0.9zM306.4 432.2h0.9v0.9h-0.9zM308.5 429.0h0.9v0.9h-0.9zM298.8 436.7h0.9v0.9h-0.9zM300.9 428.4h0.9v0.9h-0.9zM299.9 434.2h0.9v0.9h-0.9zM298.9 436.6h0.9v0.9h-0.9zM299.9 436.0h0.9v0.9h-0.9zM297.3 432.5h0.9v0.9h-0.9zM299.3 432.5h0.9v0.9h-0.9zM308.2 430.1h0.9v0.9h-0.9zM298.6 434.8h0.9v0.9h-0.9zM305.2 435.0h0.9v0.9h-0.9zM298.6 429.5h0.9v0.9h-0.9z"/>
<path fill="#7f9cec" d="M294.9 435.9h0.9v0.9h-0.9zM297.2 427.8h0.9v0.9h-0.9zM308.6 427.6h0.9v0.9h-0.9zM299.1 437.6h0.9v0.9h-0.9zM300.0 437.8h0.9v0.9h-0.9zM297.8 427.6h0.9v0.9h-0.9zM294.8 433.7h0.9v0.9h-0.9zM309.3 429.2h0.9v0.9h-0.9zM306.9 426.2h0.9v0.9h-0.9zM296.5 431.5h0.9v0.9h-0.9zM297.6 436.5h0.9v0.9h-0.9zM296.5 433.1h0.9v0.9h-0.9zM300.5 425.1h0.9v0.9h-0.9zM300.5 426.0h0.9v0.9h-0.9zM297.3 436.7h0.9v0.9h-0.9zM297.9 427.4h0.9v0.9h-0.9zM296.9 431.3h0.9v0.9h-0.9zM299.3 427.0h0.9v0.9h-0.9zM309.7 428.8h0.9v0.9h-0.9zM296.7 433.1h0.9v0.9h-0.9zM295.4 435.9h0.9v0.9h-0.9zM296.2 431.3h0.9v0.9h-0.9zM310.0 434.5h0.9v0.9h-0.9zM298.5 427.0h0.9v0.9h-0.9zM309.1 427.3h0.9v0.9h-0.9zM305.1 424.9h0.9v0.9h-0.9zM306.6 424.3h0.9v0.9h-0.9zM308.1 427.1h0.9v0.9h-0.9zM309.4 430.7h0.9v0.9h-0.9zM298.8 437.5h0.9v0.9h-0.9zM299.6 437.5h0.9v0.9h-0.9zM308.7 429.0h0.9v0.9h-0.9zM297.0 431.5h0.9v0.9h-0.9zM296.2 436.8h0.9v0.9h-0.9zM307.2 436.0h0.9v0.9h-0.9zM304.8 437.1h0.9v0.9h-0.9zM310.5 431.9h0.9v0.9h-0.9zM306.4 437.5h0.9v0.9h-0.9zM301.6 424.5h0.9v0.9h-0.9zM303.6 425.4h0.9v0.9h-0.9zM299.3 425.5h0.9v0.9h-0.9zM300.8 426.7h0.9v0.9h-0.9zM298.6 437.3h0.9v0.9h-0.9zM309.1 430.2h0.9v0.9h-0.9zM297.2 427.8h0.9v0.9h-0.9zM301.4 437.9h0.9v0.9h-0.9zM296.5 434.3h0.9v0.9h-0.9zM307.2 424.3h0.9v0.9h-0.9zM306.9 425.5h0.9v0.9h-0.9zM297.4 436.5h0.9v0.9h-0.9zM308.1 426.0h0.9v0.9h-0.9zM299.2 437.9h0.9v0.9h-0.9zM310.9 430.0h0.9v0.9h-0.9zM296.8 433.9h0.9v0.9h-0.9zM298.8 426.9h0.9v0.9h-0.9zM309.3 434.8h0.9v0.9h-0.9zM305.6 425.5h0.9v0.9h-0.9zM294.9 435.5h0.9v0.9h-0.9zM297.8 426.9h0.9v0.9h-0.9zM310.8 432.9h0.9v0.9h-0.9zM300.2 425.3h0.9v0.9h-0.9z"/>
<path fill="#2b5be6" d="M305.1 436.0h0.9v0.9h-0.9zM306.9 432.5h0.9v0.9h-0.9zM304.1 435.7h0.9v0.9h-0.9zM307.1 431.6h0.9v0.9h-0.9zM306.4 434.6h0.9v0.9h-0.9zM306.7 427.3h0.9v0.9h-0.9zM306.7 435.6h0.9v0.9h-0.9zM306.1 428.7h0.9v0.9h-0.9zM299.1 436.0h0.9v0.9h-0.9zM304.6 428.8h0.9v0.9h-0.9zM306.1 435.3h0.9v0.9h-0.9zM307.7 429.5h0.9v0.9h-0.9zM308.1 430.1h0.9v0.9h-0.9zM299.0 429.4h0.9v0.9h-0.9zM308.3 432.2h0.9v0.9h-0.9zM304.0 435.6h0.9v0.9h-0.9zM305.6 434.2h0.9v0.9h-0.9zM307.0 431.5h0.9v0.9h-0.9zM302.4 435.7h0.9v0.9h-0.9zM306.3 427.4h0.9v0.9h-0.9zM300.7 434.9h0.9v0.9h-0.9zM300.0 429.5h0.9v0.9h-0.9zM306.3 434.4h0.9v0.9h-0.9zM297.9 435.7h0.9v0.9h-0.9zM299.1 430.7h0.9v0.9h-0.9zM302.1 437.6h0.9v0.9h-0.9zM297.7 430.9h0.9v0.9h-0.9zM304.5 428.1h0.9v0.9h-0.9zM299.3 433.5h0.9v0.9h-0.9zM301.3 427.9h0.9v0.9h-0.9zM304.6 426.9h0.9v0.9h-0.9zM299.8 430.9h0.9v0.9h-0.9zM297.7 433.2h0.9v0.9h-0.9zM299.7 428.9h0.9v0.9h-0.9zM301.2 436.0h0.9v0.9h-0.9zM306.4 429.5h0.9v0.9h-0.9zM304.3 428.0h0.9v0.9h-0.9zM308.5 429.5h0.9v0.9h-0.9zM307.3 431.6h0.9v0.9h-0.9zM299.2 431.6h0.9v0.9h-0.9zM308.2 430.6h0.9v0.9h-0.9zM303.4 437.1h0.9v0.9h-0.9zM298.8 434.0h0.9v0.9h-0.9zM307.9 428.0h0.9v0.9h-0.9zM306.7 428.4h0.9v0.9h-0.9zM299.1 435.1h0.9v0.9h-0.9zM306.3 434.4h0.9v0.9h-0.9zM304.0 428.0h0.9v0.9h-0.9zM301.3 429.5h0.9v0.9h-0.9zM298.1 434.7h0.9v0.9h-0.9zM298.6 431.9h0.9v0.9h-0.9zM303.1 435.2h0.9v0.9h-0.9zM297.9 432.5h0.9v0.9h-0.9zM300.9 427.9h0.9v0.9h-0.9zM306.5 434.1h0.9v0.9h-0.9zM300.3 437.4h0.9v0.9h-0.9zM299.4 428.6h0.9v0.9h-0.9zM305.9 434.9h0.9v0.9h-0.9zM300.4 435.2h0.9v0.9h-0.9zM302.6 426.9h0.9v0.9h-0.9zM298.1 433.7h0.9v0.9h-0.9zM299.2 429.4h0.9v0.9h-0.9zM302.7 436.1h0.9v0.9h-0.9zM302.4 436.0h0.9v0.9h-0.9zM306.9 430.2h0.9v0.9h-0.9zM303.3 436.6h0.9v0.9h-0.9zM306.6 434.2h0.9v0.9h-0.9zM306.0 434.2h0.9v0.9h-0.9zM300.1 429.6h0.9v0.9h-0.9zM300.4 435.0h0.9v0.9h-0.9zM302.1 436.1h0.9v0.9h-0.9zM298.6 433.3h0.9v0.9h-0.9zM306.8 432.8h0.9v0.9h-0.9zM307.5 429.3h0.9v0.9h-0.9zM302.8 427.0h0.9v0.9h-0.9zM299.9 434.6h0.9v0.9h-0.9zM305.8 429.1h0.9v0.9h-0.9zM298.8 432.8h0.9v0.9h-0.9zM302.7 428.6h0.9v0.9h-0.9zM299.3 432.0h0.9v0.9h-0.9zM306.4 434.0h0.9v0.9h-0.9zM298.9 435.4h0.9v0.9h-0.9zM300.6 436.5h0.9v0.9h-0.9zM300.1 434.6h0.9v0.9h-0.9zM302.6 428.2h0.9v0.9h-0.9zM307.0 430.3h0.9v0.9h-0.9z"/>
<path fill="#3064ee" d="M300.9 430.7h0.9v0.9h-0.9zM302.7 432.7h0.9v0.9h-0.9zM302.8 431.5h0.9v0.9h-0.9zM303.0 430.5h0.9v0.9h-0.9zM305.0 432.8h0.9v0.9h-0.9zM303.9 430.1h0.9v0.9h-0.9zM302.5 434.8h0.9v0.9h-0.9zM305.3 431.8h0.9v0.9h-0.9zM301.7 432.0h0.9v0.9h-0.9zM304.2 433.0h0.9v0.9h-0.9zM301.0 431.3h0.9v0.9h-0.9zM304.7 432.5h0.9v0.9h-0.9zM302.8 429.0h0.9v0.9h-0.9zM304.9 432.2h0.9v0.9h-0.9zM301.6 433.8h0.9v0.9h-0.9zM300.5 431.5h0.9v0.9h-0.9zM302.8 432.3h0.9v0.9h-0.9zM305.1 431.7h0.9v0.9h-0.9zM303.6 434.8h0.9v0.9h-0.9zM299.7 433.0h0.9v0.9h-0.9zM305.0 430.3h0.9v0.9h-0.9zM301.6 433.1h0.9v0.9h-0.9zM303.4 429.8h0.9v0.9h-0.9zM302.1 432.7h0.9v0.9h-0.9zM301.9 430.2h0.9v0.9h-0.9zM302.4 433.3h0.9v0.9h-0.9zM305.6 431.9h0.9v0.9h-0.9zM302.5 430.0h0.9v0.9h-0.9zM304.1 431.7h0.9v0.9h-0.9zM303.8 429.0h0.9v0.9h-0.9zM303.3 430.5h0.9v0.9h-0.9zM304.2 431.5h0.9v0.9h-0.9zM303.4 431.9h0.9v0.9h-0.9zM304.8 430.2h0.9v0.9h-0.9zM305.4 430.4h0.9v0.9h-0.9zM305.7 430.4h0.9v0.9h-0.9zM301.6 432.1h0.9v0.9h-0.9zM303.7 428.8h0.9v0.9h-0.9zM302.1 429.4h0.9v0.9h-0.9zM302.7 431.2h0.9v0.9h-0.9zM301.6 429.3h0.9v0.9h-0.9zM304.1 429.7h0.9v0.9h-0.9zM300.5 432.8h0.9v0.9h-0.9zM301.0 433.6h0.9v0.9h-0.9zM302.7 435.1h0.9v0.9h-0.9zM303.6 430.5h0.9v0.9h-0.9zM304.9 430.7h0.9v0.9h-0.9zM304.5 430.2h0.9v0.9h-0.9zM303.1 433.9h0.9v0.9h-0.9zM305.0 433.3h0.9v0.9h-0.9zM303.9 433.7h0.9v0.9h-0.9zM301.5 429.6h0.9v0.9h-0.9zM304.6 431.7h0.9v0.9h-0.9zM301.4 433.9h0.9v0.9h-0.9zM303.6 428.9h0.9v0.9h-0.9zM302.9 434.0h0.9v0.9h-0.9zM299.9 432.9h0.9v0.9h-0.9z"/>
<path fill="#1d4fe6" d="M302.4 433.8h0.9v0.9h-0.9zM301.9 432.1h0.9v0.9h-0.9zM303.7 432.2h0.9v0.9h-0.9zM303.6 428.7h0.9v0.9h-0.9zM302.3 434.5h0.9v0.9h-0.9zM301.6 431.2h0.9v0.9h-0.9zM303.9 430.4h0.9v0.9h-0.9zM302.3 433.7h0.9v0.9h-0.9zM303.2 434.2h0.9v0.9h-0.9zM305.1 431.4h0.9v0.9h-0.9zM304.5 429.0h0.9v0.9h-0.9zM302.0 432.3h0.9v0.9h-0.9zM301.9 434.6h0.9v0.9h-0.9zM305.0 430.7h0.9v0.9h-0.9zM305.4 432.1h0.9v0.9h-0.9zM304.1 428.9h0.9v0.9h-0.9zM303.9 431.7h0.9v0.9h-0.9zM306.2 431.7h0.9v0.9h-0.9zM303.9 431.0h0.9v0.9h-0.9zM306.3 431.6h0.9v0.9h-0.9zM303.9 430.5h0.9v0.9h-0.9zM305.6 432.8h0.9v0.9h-0.9zM304.5 432.5h0.9v0.9h-0.9zM301.3 429.9h0.9v0.9h-0.9zM306.0 433.0h0.9v0.9h-0.9zM302.2 429.3h0.9v0.9h-0.9zM302.9 434.7h0.9v0.9h-0.9zM301.2 431.1h0.9v0.9h-0.9zM305.1 429.7h0.9v0.9h-0.9zM301.8 432.2h0.9v0.9h-0.9zM303.5 434.2h0.9v0.9h-0.9zM305.1 433.9h0.9v0.9h-0.9zM301.2 430.9h0.9v0.9h-0.9zM301.4 429.7h0.9v0.9h-0.9zM304.3 430.7h0.9v0.9h-0.9zM302.2 429.4h0.9v0.9h-0.9zM301.8 431.3h0.9v0.9h-0.9zM302.8 434.9h0.9v0.9h-0.9zM302.8 433.9h0.9v0.9h-0.9zM304.4 431.7h0.9v0.9h-0.9zM303.6 434.3h0.9v0.9h-0.9zM302.8 432.5h0.9v0.9h-0.9zM300.9 432.5h0.9v0.9h-0.9zM301.2 429.7h0.9v0.9h-0.9zM301.8 430.2h0.9v0.9h-0.9zM300.2 433.7h0.9v0.9h-0.9zM301.0 432.0h0.9v0.9h-0.9zM305.9 432.7h0.9v0.9h-0.9zM300.8 431.1h0.9v0.9h-0.9zM300.5 430.8h0.9v0.9h-0.9zM300.5 434.2h0.9v0.9h-0.9z"/>
<path fill="#3b68e8" d="M299.6 428.1h0.9v0.9h-0.9zM303.4 435.3h0.9v0.9h-0.9zM298.5 435.7h0.9v0.9h-0.9zM302.0 428.8h0.9v0.9h-0.9zM305.1 428.1h0.9v0.9h-0.9zM307.8 433.9h0.9v0.9h-0.9zM301.9 437.0h0.9v0.9h-0.9zM306.4 432.8h0.9v0.9h-0.9zM306.1 428.4h0.9v0.9h-0.9zM300.8 429.1h0.9v0.9h-0.9zM300.5 428.8h0.9v0.9h-0.9zM307.7 430.6h0.9v0.9h-0.9zM303.2 427.0h0.9v0.9h-0.9zM299.4 435.5h0.9v0.9h-0.9zM308.1 431.5h0.9v0.9h-0.9zM305.7 427.0h0.9v0.9h-0.9zM298.6 432.9h0.9v0.9h-0.9zM297.1 433.0h0.9v0.9h-0.9zM302.4 436.6h0.9v0.9h-0.9zM306.5 426.9h0.9v0.9h-0.9zM304.6 427.3h0.9v0.9h-0.9zM307.1 428.6h0.9v0.9h-0.9zM304.1 428.5h0.9v0.9h-0.9zM303.9 435.8h0.9v0.9h-0.9zM307.2 432.5h0.9v0.9h-0.9zM299.3 434.4h0.9v0.9h-0.9zM304.9 427.5h0.9v0.9h-0.9zM305.6 429.3h0.9v0.9h-0.9zM304.4 428.4h0.9v0.9h-0.9zM308.4 433.4h0.9v0.9h-0.9zM307.2 431.0h0.9v0.9h-0.9zM306.4 432.6h0.9v0.9h-0.9zM302.4 437.0h0.9v0.9h-0.9zM303.9 427.6h0.9v0.9h-0.9zM297.9 431.6h0.9v0.9h-0.9zM303.2 426.9h0.9v0.9h-0.9zM299.0 434.1h0.9v0.9h-0.9zM297.4 432.6h0.9v0.9h-0.9zM303.3 437.2h0.9v0.9h-0.9zM305.1 436.2h0.9v0.9h-0.9zM298.5 432.2h0.9v0.9h-0.9zM301.2 427.7h0.9v0.9h-0.9zM300.3 429.1h0.9v0.9h-0.9zM300.0 436.2h0.9v0.9h-0.9zM300.6 428.6h0.9v0.9h-0.9zM306.0 433.1h0.9v0.9h-0.9zM307.9 428.4h0.9v0.9h-0.9zM307.6 429.1h0.9v0.9h-0.9zM300.9 436.6h0.9v0.9h-0.9zM303.2 426.5h0.9v0.9h-0.9zM298.4 431.3h0.9v0.9h-0.9zM298.7 431.8h0.9v0.9h-0.9zM299.1 429.8h0.9v0.9h-0.9zM306.4 435.7h0.9v0.9h-0.9zM298.4 431.9h0.9v0.9h-0.9zM302.9 427.4h0.9v0.9h-0.9zM299.2 431.4h0.9v0.9h-0.9zM307.1 430.4h0.9v0.9h-0.9zM306.3 428.4h0.9v0.9h-0.9zM297.8 431.4h0.9v0.9h-0.9zM307.4 432.9h0.9v0.9h-0.9zM308.6 431.7h0.9v0.9h-0.9zM304.1 435.4h0.9v0.9h-0.9zM307.3 431.7h0.9v0.9h-0.9zM306.6 430.2h0.9v0.9h-0.9zM303.9 427.0h0.9v0.9h-0.9zM298.4 430.8h0.9v0.9h-0.9zM297.7 434.0h0.9v0.9h-0.9zM299.0 432.3h0.9v0.9h-0.9zM304.2 427.2h0.9v0.9h-0.9zM307.5 433.2h0.9v0.9h-0.9zM303.7 426.8h0.9v0.9h-0.9zM298.1 434.2h0.9v0.9h-0.9zM305.5 429.2h0.9v0.9h-0.9zM300.4 434.6h0.9v0.9h-0.9zM301.4 436.8h0.9v0.9h-0.9zM304.9 427.2h0.9v0.9h-0.9zM307.3 430.2h0.9v0.9h-0.9zM305.9 435.6h0.9v0.9h-0.9zM300.2 434.7h0.9v0.9h-0.9zM308.5 430.7h0.9v0.9h-0.9zM298.4 430.9h0.9v0.9h-0.9zM300.7 429.5h0.9v0.9h-0.9z"/>
<path fill="#2a5af0" d="M305.6 432.5h0.9v0.9h-0.9zM301.7 433.2h0.9v0.9h-0.9zM303.1 430.0h0.9v0.9h-0.9zM303.8 429.4h0.9v0.9h-0.9zM300.4 433.4h0.9v0.9h-0.9zM301.8 430.8h0.9v0.9h-0.9zM304.0 433.9h0.9v0.9h-0.9zM304.3 429.0h0.9v0.9h-0.9zM301.6 432.7h0.9v0.9h-0.9zM305.6 430.2h0.9v0.9h-0.9zM305.0 430.7h0.9v0.9h-0.9zM304.4 433.0h0.9v0.9h-0.9zM300.1 432.0h0.9v0.9h-0.9zM304.8 430.3h0.9v0.9h-0.9zM304.2 434.3h0.9v0.9h-0.9zM300.7 433.9h0.9v0.9h-0.9zM302.4 429.1h0.9v0.9h-0.9zM303.4 433.2h0.9v0.9h-0.9zM302.4 435.0h0.9v0.9h-0.9zM304.6 432.4h0.9v0.9h-0.9zM300.1 433.3h0.9v0.9h-0.9zM303.3 433.3h0.9v0.9h-0.9zM304.5 430.7h0.9v0.9h-0.9zM305.8 429.9h0.9v0.9h-0.9zM302.2 434.4h0.9v0.9h-0.9zM300.5 430.9h0.9v0.9h-0.9zM303.3 430.2h0.9v0.9h-0.9zM300.6 434.1h0.9v0.9h-0.9zM300.6 431.4h0.9v0.9h-0.9zM302.4 432.3h0.9v0.9h-0.9zM304.2 433.2h0.9v0.9h-0.9zM301.4 431.3h0.9v0.9h-0.9zM305.1 430.6h0.9v0.9h-0.9zM299.7 432.0h0.9v0.9h-0.9zM300.8 432.9h0.9v0.9h-0.9zM303.3 431.3h0.9v0.9h-0.9zM304.6 430.6h0.9v0.9h-0.9zM300.9 432.1h0.9v0.9h-0.9zM304.6 434.4h0.9v0.9h-0.9zM302.4 434.1h0.9v0.9h-0.9zM301.4 433.1h0.9v0.9h-0.9zM302.1 430.9h0.9v0.9h-0.9zM299.9 431.3h0.9v0.9h-0.9zM304.7 433.8h0.9v0.9h-0.9zM299.9 432.0h0.9v0.9h-0.9zM303.8 429.7h0.9v0.9h-0.9zM302.6 432.8h0.9v0.9h-0.9zM303.5 432.8h0.9v0.9h-0.9zM305.1 433.3h0.9v0.9h-0.9zM303.0 435.1h0.9v0.9h-0.9zM304.4 430.8h0.9v0.9h-0.9zM301.4 430.0h0.9v0.9h-0.9z"/>
<path fill="#93acf0" d="M297.0 429.1h0.9v0.9h-0.9zM296.3 437.8h0.9v0.9h-0.9zM303.5 438.2h0.9v0.9h-0.9zM309.1 431.6h0.9v0.9h-0.9zM303.8 438.0h0.9v0.9h-0.9zM304.2 426.0h0.9v0.9h-0.9zM305.7 437.9h0.9v0.9h-0.9zM298.7 428.5h0.9v0.9h-0.9zM297.6 428.6h0.9v0.9h-0.9zM295.6 431.8h0.9v0.9h-0.9zM296.6 432.5h0.9v0.9h-0.9zM309.8 427.3h0.9v0.9h-0.9zM301.7 426.1h0.9v0.9h-0.9zM309.7 435.1h0.9v0.9h-0.9zM301.3 426.9h0.9v0.9h-0.9zM309.3 434.8h0.9v0.9h-0.9zM302.7 425.1h0.9v0.9h-0.9zM309.0 428.8h0.9v0.9h-0.9zM298.8 427.9h0.9v0.9h-0.9zM304.3 426.3h0.9v0.9h-0.9zM297.2 431.3h0.9v0.9h-0.9zM296.3 435.6h0.9v0.9h-0.9zM304.2 437.5h0.9v0.9h-0.9zM305.0 425.3h0.9v0.9h-0.9zM309.5 435.0h0.9v0.9h-0.9zM309.6 428.2h0.9v0.9h-0.9zM296.6 430.7h0.9v0.9h-0.9zM303.8 424.4h0.9v0.9h-0.9zM297.1 430.3h0.9v0.9h-0.9zM306.5 437.1h0.9v0.9h-0.9zM303.4 425.2h0.9v0.9h-0.9zM309.3 426.3h0.9v0.9h-0.9zM308.4 435.0h0.9v0.9h-0.9zM307.8 435.3h0.9v0.9h-0.9zM309.9 433.4h0.9v0.9h-0.9zM309.5 433.0h0.9v0.9h-0.9zM295.0 436.0h0.9v0.9h-0.9zM305.2 438.1h0.9v0.9h-0.9zM297.7 437.0h0.9v0.9h-0.9zM296.7 431.7h0.9v0.9h-0.9zM298.4 438.1h0.9v0.9h-0.9zM306.6 435.9h0.9v0.9h-0.9zM307.6 426.5h0.9v0.9h-0.9zM309.4 432.0h0.9v0.9h-0.9zM300.4 425.1h0.9v0.9h-0.9zM300.5 426.4h0.9v0.9h-0.9zM306.7 435.8h0.9v0.9h-0.9zM304.1 437.4h0.9v0.9h-0.9zM308.0 434.6h0.9v0.9h-0.9zM308.4 435.1h0.9v0.9h-0.9zM296.4 429.4h0.9v0.9h-0.9z"/>
<path fill="#6d8de8" d="M295.3 436.3h0.9v0.9h-0.9zM306.3 436.1h0.9v0.9h-0.9zM309.2 430.1h0.9v0.9h-0.9zM309.5 432.4h0.9v0.9h-0.9zM299.2 437.3h0.9v0.9h-0.9zM297.1 431.3h0.9v0.9h-0.9zM294.8 432.5h0.9v0.9h-0.9zM302.7 438.0h0.9v0.9h-0.9zM309.0 431.7h0.9v0.9h-0.9zM309.1 426.4h0.9v0.9h-0.9zM295.7 433.2h0.9v0.9h-0.9zM296.2 437.3h0.9v0.9h-0.9zM305.0 425.5h0.9v0.9h-0.9zM307.8 435.9h0.9v0.9h-0.9zM299.8 427.4h0.9v0.9h-0.9zM310.9 428.9h0.9v0.9h-0.9zM294.9 436.2h0.9v0.9h-0.9zM304.9 424.3h0.9v0.9h-0.9zM307.7 436.3h0.9v0.9h-0.9zM310.1 433.0h0.9v0.9h-0.9zM309.2 429.6h0.9v0.9h-0.9zM298.6 428.2h0.9v0.9h-0.9zM296.1 435.8h0.9v0.9h-0.9zM294.9 431.4h0.9v0.9h-0.9zM297.1 435.9h0.9v0.9h-0.9zM302.5 425.1h0.9v0.9h-0.9zM296.8 433.2h0.9v0.9h-0.9zM296.7 433.3h0.9v0.9h-0.9zM296.5 434.5h0.9v0.9h-0.9zM309.4 429.7h0.9v0.9h-0.9zM298.6 437.6h0.9v0.9h-0.9zM297.4 437.0h0.9v0.9h-0.9zM307.4 424.9h0.9v0.9h-0.9zM296.7 437.5h0.9v0.9h-0.9zM309.4 425.6h0.9v0.9h-0.9zM306.7 425.0h0.9v0.9h-0.9zM297.6 437.3h0.9v0.9h-0.9zM306.6 424.2h0.9v0.9h-0.9zM306.1 436.4h0.9v0.9h-0.9z"/>
<path fill="#2458ee" d="M300.4 433.8h0.9v0.9h-0.9zM303.8 434.9h0.9v0.9h-0.9zM305.0 432.2h0.9v0.9h-0.9zM304.7 431.7h0.9v0.9h-0.9zM302.8 429.9h0.9v0.9h-0.9zM303.0 432.6h0.9v0.9h-0.9zM304.5 434.6h0.9v0.9h-0.9zM302.0 432.7h0.9v0.9h-0.9zM305.6 433.0h0.9v0.9h-0.9zM302.7 430.0h0.9v0.9h-0.9zM300.5 431.4h0.9v0.9h-0.9zM304.1 431.1h0.9v0.9h-0.9zM301.6 433.6h0.9v0.9h-0.9zM303.0 430.7h0.9v0.9h-0.9zM301.6 431.0h0.9v0.9h-0.9zM303.1 434.8h0.9v0.9h-0.9zM301.9 434.7h0.9v0.9h-0.9zM302.4 433.6h0.9v0.9h-0.9zM300.3 431.6h0.9v0.9h-0.9zM302.3 429.1h0.9v0.9h-0.9zM299.7 432.2h0.9v0.9h-0.9zM306.2 431.4h0.9v0.9h-0.9zM304.0 432.1h0.9v0.9h-0.9zM300.7 433.7h0.9v0.9h-0.9zM304.3 434.4h0.9v0.9h-0.9zM303.4 431.7h0.9v0.9h-0.9zM303.2 434.2h0.9v0.9h-0.9zM303.6 429.1h0.9v0.9h-0.9zM302.3 429.0h0.9v0.9h-0.9zM300.8 431.8h0.9v0.9h-0.9zM304.8 433.8h0.9v0.9h-0.9zM299.7 433.0h0.9v0.9h-0.9zM303.2 430.3h0.9v0.9h-0.9zM304.0 430.8h0.9v0.9h-0.9zM302.6 435.2h0.9v0.9h-0.9zM304.9 429.7h0.9v0.9h-0.9zM301.6 429.8h0.9v0.9h-0.9zM302.8 431.7h0.9v0.9h-0.9zM301.8 433.1h0.9v0.9h-0.9zM302.2 433.8h0.9v0.9h-0.9zM304.2 431.0h0.9v0.9h-0.9zM303.7 429.7h0.9v0.9h-0.9zM305.9 430.7h0.9v0.9h-0.9zM304.5 430.7h0.9v0.9h-0.9zM304.1 431.9h0.9v0.9h-0.9zM300.7 433.4h0.9v0.9h-0.9zM302.7 431.0h0.9v0.9h-0.9zM303.5 431.8h0.9v0.9h-0.9zM303.9 433.7h0.9v0.9h-0.9zM304.8 432.2h0.9v0.9h-0.9z"/>
<path fill="#9db0ee" d="M310.7 422.3h0.9v0.9h-0.9zM302.2 423.5h0.9v0.9h-0.9zM311.8 430.0h0.9v0.9h-0.9zM292.9 431.5h0.9v0.9h-0.9zM311.5 435.2h0.9v0.9h-0.9zM310.0 435.4h0.9v0.9h-0.9zM311.9 426.8h0.9v0.9h-0.9zM294.3 429.9h0.9v0.9h-0.9zM307.5 423.9h0.9v0.9h-0.9zM295.8 426.5h0.9v0.9h-0.9zM308.8 437.8h0.9v0.9h-0.9zM293.4 434.8h0.9v0.9h-0.9zM300.3 423.4h0.9v0.9h-0.9zM310.6 425.2h0.9v0.9h-0.9zM314.9 419.3h0.9v0.9h-0.9zM314.2 426.4h0.9v0.9h-0.9zM311.4 434.3h0.9v0.9h-0.9zM295.3 438.1h0.9v0.9h-0.9zM305.1 423.1h0.9v0.9h-0.9zM294.8 426.6h0.9v0.9h-0.9z"/>
<path fill="#bfcaf2" d="M294.8 437.7h0.9v0.9h-0.9zM294.8 428.7h0.9v0.9h-0.9zM300.5 422.9h0.9v0.9h-0.9zM296.4 427.0h0.9v0.9h-0.9zM306.0 422.2h0.9v0.9h-0.9zM312.8 423.5h0.9v0.9h-0.9zM299.3 424.5h0.9v0.9h-0.9zM306.4 423.3h0.9v0.9h-0.9zM309.7 424.5h0.9v0.9h-0.9zM312.7 433.6h0.9v0.9h-0.9zM311.4 434.3h0.9v0.9h-0.9zM309.6 424.5h0.9v0.9h-0.9zM313.5 426.6h0.9v0.9h-0.9zM315.5 432.0h0.9v0.9h-0.9zM310.3 435.0h0.9v0.9h-0.9zM310.6 436.8h0.9v0.9h-0.9zM311.1 422.8h0.9v0.9h-0.9zM307.2 421.0h0.9v0.9h-0.9zM309.9 436.7h0.9v0.9h-0.9zM307.2 423.9h0.9v0.9h-0.9zM306.7 423.7h0.9v0.9h-0.9zM311.4 433.7h0.9v0.9h-0.9zM312.1 420.6h0.9v0.9h-0.9zM312.9 437.6h0.9v0.9h-0.9zM293.0 435.5h0.9v0.9h-0.9zM314.6 427.8h0.9v0.9h-0.9z"/>
<path fill="#aabbf0" d="M295.8 428.3h0.9v0.9h-0.9zM312.6 424.6h0.9v0.9h-0.9zM312.8 429.6h0.9v0.9h-0.9zM294.9 429.1h0.9v0.9h-0.9zM294.7 438.0h0.9v0.9h-0.9zM309.5 425.2h0.9v0.9h-0.9zM312.0 429.1h0.9v0.9h-0.9zM295.2 429.9h0.9v0.9h-0.9zM311.3 428.2h0.9v0.9h-0.9zM302.6 423.3h0.9v0.9h-0.9zM313.8 424.9h0.9v0.9h-0.9zM302.3 423.9h0.9v0.9h-0.9zM301.4 419.6h0.9v0.9h-0.9zM293.8 429.6h0.9v0.9h-0.9zM304.4 420.1h0.9v0.9h-0.9zM294.6 431.8h0.9v0.9h-0.9zM309.6 423.3h0.9v0.9h-0.9z"/>
<path d="M309.80,438.70 L309.80,417.70 L326.60,417.70 L326.60,438.70" fill="none" stroke="#888" stroke-width="0.8"/>
<rect x="292.10" y="389.40" width="49.70" height="49.30" fill="none" stroke="#444" stroke-width="0.9"/>
<text transform="translate(317.40,404.90) scale(0.862,1)" font-size="7.54" text-anchor="middle" fill="#333" style="stroke-width:0.06px">CD34</text>
<text transform="translate(317.40,412.60) scale(0.862,1)" font-size="7.54" text-anchor="middle" fill="#333" style="stroke-width:0.06px">3.07%</text>
<rect x="346.50" y="389.40" width="49.70" height="49.30" fill="#fff"/>
<path fill="#c6cdea" d="M364.3 429.6h.6v.6h-.6zM368.8 430.4h.6v.6h-.6zM378.1 431.7h.6v.6h-.6zM353.8 418.8h.6v.6h-.6zM363.4 422.9h.6v.6h-.6zM380.1 431.1h.6v.6h-.6zM363.9 421.9h.6v.6h-.6zM356.0 428.0h.6v.6h-.6zM378.8 417.5h.6v.6h-.6zM363.3 421.8h.6v.6h-.6zM368.5 419.6h.6v.6h-.6zM350.6 429.8h.6v.6h-.6zM358.6 429.1h.6v.6h-.6zM378.3 427.5h.6v.6h-.6zM378.4 432.9h.6v.6h-.6zM350.6 419.4h.6v.6h-.6zM370.2 425.0h.6v.6h-.6zM348.7 433.4h.6v.6h-.6zM369.8 424.0h.6v.6h-.6zM365.6 417.6h.6v.6h-.6zM366.5 416.9h.6v.6h-.6zM370.3 436.3h.6v.6h-.6zM355.6 419.8h.6v.6h-.6zM367.4 434.7h.6v.6h-.6zM354.0 422.9h.6v.6h-.6zM368.3 417.4h.6v.6h-.6zM350.8 431.6h.6v.6h-.6zM368.9 427.5h.6v.6h-.6zM366.4 415.9h.6v.6h-.6zM364.3 425.2h.6v.6h-.6z"/>
<path fill="#6d8de8" d="M349.8 434.1h0.9v0.9h-0.9zM348.1 432.9h0.9v0.9h-0.9zM362.9 427.0h0.9v0.9h-0.9zM358.7 437.7h0.9v0.9h-0.9zM359.3 437.8h0.9v0.9h-0.9zM348.8 435.8h0.9v0.9h-0.9zM353.6 426.1h0.9v0.9h-0.9zM355.9 424.1h0.9v0.9h-0.9zM360.5 424.5h0.9v0.9h-0.9zM348.5 430.4h0.9v0.9h-0.9zM349.7 433.8h0.9v0.9h-0.9zM348.7 435.4h0.9v0.9h-0.9zM349.6 437.2h0.9v0.9h-0.9zM350.5 428.8h0.9v0.9h-0.9zM364.3 429.7h0.9v0.9h-0.9zM360.3 435.7h0.9v0.9h-0.9zM355.0 426.6h0.9v0.9h-0.9zM352.1 427.6h0.9v0.9h-0.9zM362.2 428.0h0.9v0.9h-0.9zM358.4 436.7h0.9v0.9h-0.9zM360.6 435.2h0.9v0.9h-0.9zM363.2 432.0h0.9v0.9h-0.9zM356.5 426.3h0.9v0.9h-0.9zM348.2 430.2h0.9v0.9h-0.9zM357.3 424.4h0.9v0.9h-0.9zM357.8 425.2h0.9v0.9h-0.9zM349.7 430.1h0.9v0.9h-0.9zM354.4 426.6h0.9v0.9h-0.9zM361.5 425.2h0.9v0.9h-0.9zM350.8 429.6h0.9v0.9h-0.9zM362.9 428.9h0.9v0.9h-0.9zM348.3 432.3h0.9v0.9h-0.9zM350.2 431.4h0.9v0.9h-0.9zM349.3 431.0h0.9v0.9h-0.9zM350.1 434.5h0.9v0.9h-0.9zM348.0 432.8h0.9v0.9h-0.9zM352.0 427.8h0.9v0.9h-0.9zM351.6 428.9h0.9v0.9h-0.9zM351.9 427.8h0.9v0.9h-0.9zM353.8 425.2h0.9v0.9h-0.9zM357.3 425.6h0.9v0.9h-0.9zM352.2 438.2h0.9v0.9h-0.9zM349.8 437.0h0.9v0.9h-0.9zM358.4 437.0h0.9v0.9h-0.9zM363.3 433.8h0.9v0.9h-0.9zM350.1 431.5h0.9v0.9h-0.9zM347.7 433.4h0.9v0.9h-0.9zM353.7 437.8h0.9v0.9h-0.9zM350.4 429.4h0.9v0.9h-0.9zM361.8 426.4h0.9v0.9h-0.9zM361.2 436.8h0.9v0.9h-0.9z"/>
<path fill="#5580ec" d="M353.5 435.7h0.9v0.9h-0.9zM362.0 430.9h0.9v0.9h-0.9zM357.7 427.9h0.9v0.9h-0.9zM358.8 428.5h0.9v0.9h-0.9zM357.8 435.2h0.9v0.9h-0.9zM361.8 432.3h0.9v0.9h-0.9zM357.1 427.2h0.9v0.9h-0.9zM352.5 430.9h0.9v0.9h-0.9zM360.9 431.9h0.9v0.9h-0.9zM353.5 436.6h0.9v0.9h-0.9zM356.8 436.8h0.9v0.9h-0.9zM351.4 433.0h0.9v0.9h-0.9zM359.2 426.8h0.9v0.9h-0.9zM350.9 435.9h0.9v0.9h-0.9zM359.0 434.3h0.9v0.9h-0.9zM360.5 429.0h0.9v0.9h-0.9zM351.2 430.0h0.9v0.9h-0.9zM352.7 429.4h0.9v0.9h-0.9zM351.2 435.2h0.9v0.9h-0.9zM359.7 429.7h0.9v0.9h-0.9zM359.3 434.4h0.9v0.9h-0.9zM360.2 434.8h0.9v0.9h-0.9zM353.5 430.3h0.9v0.9h-0.9zM354.5 435.8h0.9v0.9h-0.9zM351.9 430.3h0.9v0.9h-0.9zM352.3 435.5h0.9v0.9h-0.9zM354.3 429.4h0.9v0.9h-0.9zM352.2 436.1h0.9v0.9h-0.9zM360.8 429.0h0.9v0.9h-0.9zM355.6 437.0h0.9v0.9h-0.9zM359.4 432.6h0.9v0.9h-0.9zM355.4 435.5h0.9v0.9h-0.9zM351.8 432.0h0.9v0.9h-0.9zM358.7 436.5h0.9v0.9h-0.9zM359.8 434.7h0.9v0.9h-0.9zM358.1 427.2h0.9v0.9h-0.9zM356.3 428.1h0.9v0.9h-0.9zM359.3 428.4h0.9v0.9h-0.9zM353.6 434.8h0.9v0.9h-0.9zM356.5 435.4h0.9v0.9h-0.9zM356.8 427.3h0.9v0.9h-0.9zM358.5 435.1h0.9v0.9h-0.9zM354.3 436.0h0.9v0.9h-0.9zM360.8 431.3h0.9v0.9h-0.9zM359.5 434.0h0.9v0.9h-0.9zM360.9 428.7h0.9v0.9h-0.9zM351.0 432.1h0.9v0.9h-0.9zM351.2 430.5h0.9v0.9h-0.9zM360.5 428.3h0.9v0.9h-0.9zM360.3 430.1h0.9v0.9h-0.9zM357.3 436.2h0.9v0.9h-0.9zM355.7 435.4h0.9v0.9h-0.9zM355.2 428.1h0.9v0.9h-0.9zM352.6 431.0h0.9v0.9h-0.9zM353.2 429.1h0.9v0.9h-0.9zM357.1 427.1h0.9v0.9h-0.9zM355.3 429.0h0.9v0.9h-0.9zM359.4 434.9h0.9v0.9h-0.9zM353.2 427.8h0.9v0.9h-0.9zM355.9 437.4h0.9v0.9h-0.9zM351.5 432.0h0.9v0.9h-0.9zM354.0 429.1h0.9v0.9h-0.9zM351.7 431.5h0.9v0.9h-0.9zM357.8 428.9h0.9v0.9h-0.9zM360.7 430.9h0.9v0.9h-0.9zM355.7 435.9h0.9v0.9h-0.9zM350.5 433.8h0.9v0.9h-0.9zM356.8 427.2h0.9v0.9h-0.9zM353.9 429.8h0.9v0.9h-0.9zM355.7 436.1h0.9v0.9h-0.9zM356.5 427.1h0.9v0.9h-0.9zM359.1 428.6h0.9v0.9h-0.9zM357.1 435.9h0.9v0.9h-0.9zM351.7 433.6h0.9v0.9h-0.9zM358.2 429.0h0.9v0.9h-0.9zM357.7 436.3h0.9v0.9h-0.9zM359.9 432.4h0.9v0.9h-0.9zM355.8 437.1h0.9v0.9h-0.9zM353.7 436.7h0.9v0.9h-0.9zM355.0 428.1h0.9v0.9h-0.9zM351.4 430.5h0.9v0.9h-0.9zM356.0 437.5h0.9v0.9h-0.9zM351.7 435.9h0.9v0.9h-0.9zM351.6 432.8h0.9v0.9h-0.9zM357.7 426.9h0.9v0.9h-0.9zM356.7 428.4h0.9v0.9h-0.9zM351.1 433.6h0.9v0.9h-0.9zM352.1 431.7h0.9v0.9h-0.9zM353.6 428.4h0.9v0.9h-0.9zM355.2 436.0h0.9v0.9h-0.9zM356.6 436.1h0.9v0.9h-0.9zM351.5 429.5h0.9v0.9h-0.9zM359.7 431.4h0.9v0.9h-0.9zM359.5 428.4h0.9v0.9h-0.9z"/>
<path fill="#93acf0" d="M349.9 433.8h0.9v0.9h-0.9zM348.6 431.9h0.9v0.9h-0.9zM353.3 426.6h0.9v0.9h-0.9zM363.4 431.3h0.9v0.9h-0.9zM359.3 425.4h0.9v0.9h-0.9zM349.9 429.3h0.9v0.9h-0.9zM362.8 428.7h0.9v0.9h-0.9zM350.9 428.7h0.9v0.9h-0.9zM361.9 426.4h0.9v0.9h-0.9zM360.7 437.3h0.9v0.9h-0.9zM360.2 426.9h0.9v0.9h-0.9zM359.6 438.1h0.9v0.9h-0.9zM359.2 425.4h0.9v0.9h-0.9zM352.8 437.4h0.9v0.9h-0.9zM349.6 432.7h0.9v0.9h-0.9zM360.6 427.0h0.9v0.9h-0.9zM352.3 425.5h0.9v0.9h-0.9zM361.5 426.4h0.9v0.9h-0.9zM362.6 432.8h0.9v0.9h-0.9zM349.9 434.2h0.9v0.9h-0.9zM362.9 428.1h0.9v0.9h-0.9zM350.2 434.8h0.9v0.9h-0.9zM349.7 428.1h0.9v0.9h-0.9zM349.4 436.0h0.9v0.9h-0.9zM352.6 426.1h0.9v0.9h-0.9zM349.8 432.7h0.9v0.9h-0.9zM359.4 438.0h0.9v0.9h-0.9zM351.2 438.1h0.9v0.9h-0.9zM358.4 425.7h0.9v0.9h-0.9zM348.7 435.2h0.9v0.9h-0.9zM358.5 425.4h0.9v0.9h-0.9zM349.2 431.9h0.9v0.9h-0.9zM351.5 427.2h0.9v0.9h-0.9zM357.5 437.7h0.9v0.9h-0.9zM362.2 427.9h0.9v0.9h-0.9zM360.8 426.4h0.9v0.9h-0.9zM363.2 428.7h0.9v0.9h-0.9zM360.7 426.0h0.9v0.9h-0.9zM350.9 429.3h0.9v0.9h-0.9zM347.4 433.8h0.9v0.9h-0.9zM362.6 430.6h0.9v0.9h-0.9zM362.0 427.9h0.9v0.9h-0.9zM364.3 428.6h0.9v0.9h-0.9zM349.0 432.3h0.9v0.9h-0.9zM350.3 430.8h0.9v0.9h-0.9zM352.9 437.4h0.9v0.9h-0.9zM352.5 427.1h0.9v0.9h-0.9zM349.2 432.8h0.9v0.9h-0.9zM356.2 424.2h0.9v0.9h-0.9zM355.8 425.9h0.9v0.9h-0.9zM361.1 434.3h0.9v0.9h-0.9zM351.0 426.5h0.9v0.9h-0.9zM356.4 437.6h0.9v0.9h-0.9zM352.9 425.3h0.9v0.9h-0.9zM347.6 433.4h0.9v0.9h-0.9zM348.5 429.5h0.9v0.9h-0.9zM353.8 426.0h0.9v0.9h-0.9zM357.0 424.4h0.9v0.9h-0.9zM362.8 432.0h0.9v0.9h-0.9zM355.1 438.1h0.9v0.9h-0.9z"/>
<path fill="#2b5be6" d="M353.9 427.3h0.9v0.9h-0.9zM361.3 430.1h0.9v0.9h-0.9zM360.1 427.8h0.9v0.9h-0.9zM353.6 428.5h0.9v0.9h-0.9zM352.1 436.5h0.9v0.9h-0.9zM350.2 433.2h0.9v0.9h-0.9zM353.5 436.2h0.9v0.9h-0.9zM360.9 429.4h0.9v0.9h-0.9zM356.3 427.8h0.9v0.9h-0.9zM354.0 427.7h0.9v0.9h-0.9zM354.6 429.1h0.9v0.9h-0.9zM360.4 428.8h0.9v0.9h-0.9zM361.4 430.1h0.9v0.9h-0.9zM352.5 430.3h0.9v0.9h-0.9zM351.0 434.5h0.9v0.9h-0.9zM352.8 429.2h0.9v0.9h-0.9zM357.6 426.8h0.9v0.9h-0.9zM357.3 427.9h0.9v0.9h-0.9zM356.5 435.8h0.9v0.9h-0.9zM358.5 436.0h0.9v0.9h-0.9zM361.6 428.9h0.9v0.9h-0.9zM354.9 435.7h0.9v0.9h-0.9zM357.9 436.7h0.9v0.9h-0.9zM361.4 429.8h0.9v0.9h-0.9zM360.7 433.7h0.9v0.9h-0.9zM357.5 427.0h0.9v0.9h-0.9zM354.6 428.8h0.9v0.9h-0.9zM351.1 430.9h0.9v0.9h-0.9zM359.5 432.6h0.9v0.9h-0.9zM359.0 427.9h0.9v0.9h-0.9zM350.3 432.5h0.9v0.9h-0.9zM351.8 436.0h0.9v0.9h-0.9zM352.2 430.1h0.9v0.9h-0.9zM356.6 426.8h0.9v0.9h-0.9zM354.6 435.4h0.9v0.9h-0.9zM357.0 426.6h0.9v0.9h-0.9zM357.3 428.7h0.9v0.9h-0.9zM358.6 436.0h0.9v0.9h-0.9zM359.6 427.6h0.9v0.9h-0.9zM352.5 436.1h0.9v0.9h-0.9zM358.5 427.4h0.9v0.9h-0.9zM358.6 436.3h0.9v0.9h-0.9zM355.4 436.7h0.9v0.9h-0.9zM350.2 434.0h0.9v0.9h-0.9zM351.5 429.2h0.9v0.9h-0.9zM355.1 436.4h0.9v0.9h-0.9zM354.4 427.7h0.9v0.9h-0.9zM351.1 435.1h0.9v0.9h-0.9zM360.8 432.2h0.9v0.9h-0.9zM352.1 432.5h0.9v0.9h-0.9zM360.6 431.1h0.9v0.9h-0.9zM351.6 432.7h0.9v0.9h-0.9zM358.6 426.7h0.9v0.9h-0.9zM360.4 431.7h0.9v0.9h-0.9zM351.5 432.8h0.9v0.9h-0.9zM357.2 436.6h0.9v0.9h-0.9zM359.1 434.9h0.9v0.9h-0.9zM355.0 435.4h0.9v0.9h-0.9zM355.7 436.8h0.9v0.9h-0.9zM355.0 428.0h0.9v0.9h-0.9zM355.7 428.9h0.9v0.9h-0.9zM360.1 430.6h0.9v0.9h-0.9zM355.5 437.2h0.9v0.9h-0.9zM358.1 436.5h0.9v0.9h-0.9zM357.9 436.5h0.9v0.9h-0.9zM354.8 437.5h0.9v0.9h-0.9zM360.0 430.2h0.9v0.9h-0.9zM360.9 432.8h0.9v0.9h-0.9zM352.8 429.5h0.9v0.9h-0.9zM358.5 434.9h0.9v0.9h-0.9zM360.2 427.7h0.9v0.9h-0.9zM359.8 428.9h0.9v0.9h-0.9zM360.6 434.5h0.9v0.9h-0.9zM353.4 428.6h0.9v0.9h-0.9zM360.9 434.1h0.9v0.9h-0.9zM361.2 433.1h0.9v0.9h-0.9zM360.4 433.9h0.9v0.9h-0.9zM355.0 429.0h0.9v0.9h-0.9zM353.8 435.9h0.9v0.9h-0.9zM357.2 428.2h0.9v0.9h-0.9z"/>
<path fill="#3b68e8" d="M353.4 435.2h0.9v0.9h-0.9zM360.5 432.6h0.9v0.9h-0.9zM360.8 429.9h0.9v0.9h-0.9zM350.7 434.1h0.9v0.9h-0.9zM361.1 431.0h0.9v0.9h-0.9zM359.7 433.6h0.9v0.9h-0.9zM353.3 429.5h0.9v0.9h-0.9zM353.0 429.3h0.9v0.9h-0.9zM351.4 432.3h0.9v0.9h-0.9zM358.3 428.9h0.9v0.9h-0.9zM352.7 436.2h0.9v0.9h-0.9zM359.6 434.5h0.9v0.9h-0.9zM352.1 428.5h0.9v0.9h-0.9zM361.4 429.1h0.9v0.9h-0.9zM358.0 435.2h0.9v0.9h-0.9zM350.9 434.4h0.9v0.9h-0.9zM352.3 432.4h0.9v0.9h-0.9zM356.5 426.8h0.9v0.9h-0.9zM360.6 434.6h0.9v0.9h-0.9zM353.2 435.2h0.9v0.9h-0.9zM352.1 429.2h0.9v0.9h-0.9zM353.4 428.6h0.9v0.9h-0.9zM359.8 427.0h0.9v0.9h-0.9zM353.5 428.4h0.9v0.9h-0.9zM351.4 433.7h0.9v0.9h-0.9zM359.8 431.8h0.9v0.9h-0.9zM357.5 427.8h0.9v0.9h-0.9zM359.5 433.0h0.9v0.9h-0.9zM357.5 435.6h0.9v0.9h-0.9zM360.1 431.7h0.9v0.9h-0.9zM351.5 432.9h0.9v0.9h-0.9zM355.7 428.6h0.9v0.9h-0.9zM351.8 434.6h0.9v0.9h-0.9zM359.8 432.3h0.9v0.9h-0.9zM355.5 436.7h0.9v0.9h-0.9zM360.3 432.1h0.9v0.9h-0.9zM356.2 426.4h0.9v0.9h-0.9zM361.8 430.7h0.9v0.9h-0.9zM352.8 434.3h0.9v0.9h-0.9zM359.5 427.0h0.9v0.9h-0.9zM353.0 430.4h0.9v0.9h-0.9zM360.0 433.5h0.9v0.9h-0.9zM352.2 431.0h0.9v0.9h-0.9zM352.7 434.7h0.9v0.9h-0.9zM357.7 428.2h0.9v0.9h-0.9zM352.7 430.3h0.9v0.9h-0.9zM360.9 432.8h0.9v0.9h-0.9zM358.7 433.5h0.9v0.9h-0.9zM353.0 428.7h0.9v0.9h-0.9zM355.6 428.6h0.9v0.9h-0.9zM351.4 435.3h0.9v0.9h-0.9zM354.3 435.6h0.9v0.9h-0.9zM351.6 436.3h0.9v0.9h-0.9zM354.7 436.7h0.9v0.9h-0.9zM361.7 429.3h0.9v0.9h-0.9zM352.7 435.2h0.9v0.9h-0.9zM352.7 431.2h0.9v0.9h-0.9zM351.1 431.6h0.9v0.9h-0.9zM352.5 432.6h0.9v0.9h-0.9zM351.5 429.4h0.9v0.9h-0.9zM351.4 433.9h0.9v0.9h-0.9zM359.9 431.2h0.9v0.9h-0.9zM356.8 436.1h0.9v0.9h-0.9zM352.4 433.4h0.9v0.9h-0.9zM358.9 427.1h0.9v0.9h-0.9zM358.0 427.1h0.9v0.9h-0.9zM352.8 430.7h0.9v0.9h-0.9zM353.5 428.4h0.9v0.9h-0.9zM356.5 436.0h0.9v0.9h-0.9zM359.4 429.2h0.9v0.9h-0.9zM352.8 435.0h0.9v0.9h-0.9zM360.5 430.1h0.9v0.9h-0.9zM351.8 432.9h0.9v0.9h-0.9zM354.1 428.6h0.9v0.9h-0.9zM359.7 430.2h0.9v0.9h-0.9zM355.4 428.8h0.9v0.9h-0.9zM354.8 427.6h0.9v0.9h-0.9zM359.4 432.2h0.9v0.9h-0.9zM359.4 433.7h0.9v0.9h-0.9zM351.9 434.8h0.9v0.9h-0.9zM357.6 436.2h0.9v0.9h-0.9zM359.1 433.2h0.9v0.9h-0.9zM357.9 428.9h0.9v0.9h-0.9zM353.7 430.0h0.9v0.9h-0.9zM358.8 429.1h0.9v0.9h-0.9zM351.9 431.5h0.9v0.9h-0.9zM357.1 426.5h0.9v0.9h-0.9zM351.7 431.8h0.9v0.9h-0.9zM351.0 432.0h0.9v0.9h-0.9z"/>
<path fill="#7f9cec" d="M363.4 433.3h0.9v0.9h-0.9zM349.2 437.7h0.9v0.9h-0.9zM359.0 426.4h0.9v0.9h-0.9zM362.7 431.4h0.9v0.9h-0.9zM357.8 425.6h0.9v0.9h-0.9zM353.1 438.0h0.9v0.9h-0.9zM349.5 428.4h0.9v0.9h-0.9zM348.7 435.1h0.9v0.9h-0.9zM364.2 431.8h0.9v0.9h-0.9zM362.4 430.4h0.9v0.9h-0.9zM349.9 430.5h0.9v0.9h-0.9zM349.3 436.1h0.9v0.9h-0.9zM352.4 427.3h0.9v0.9h-0.9zM360.7 434.9h0.9v0.9h-0.9zM348.9 436.1h0.9v0.9h-0.9zM358.8 425.4h0.9v0.9h-0.9zM350.2 431.5h0.9v0.9h-0.9zM362.4 430.1h0.9v0.9h-0.9zM359.7 424.6h0.9v0.9h-0.9zM362.9 433.2h0.9v0.9h-0.9zM350.1 435.6h0.9v0.9h-0.9zM350.1 428.2h0.9v0.9h-0.9zM362.6 433.4h0.9v0.9h-0.9zM353.3 425.4h0.9v0.9h-0.9zM350.0 435.6h0.9v0.9h-0.9zM358.3 437.8h0.9v0.9h-0.9zM361.9 427.8h0.9v0.9h-0.9zM361.3 427.7h0.9v0.9h-0.9zM353.0 426.3h0.9v0.9h-0.9zM361.2 435.0h0.9v0.9h-0.9zM362.1 425.3h0.9v0.9h-0.9zM364.3 432.3h0.9v0.9h-0.9zM348.3 433.3h0.9v0.9h-0.9zM347.9 432.7h0.9v0.9h-0.9zM362.8 426.9h0.9v0.9h-0.9zM349.9 437.2h0.9v0.9h-0.9zM352.8 427.6h0.9v0.9h-0.9zM363.4 432.9h0.9v0.9h-0.9zM349.5 433.3h0.9v0.9h-0.9zM351.0 426.8h0.9v0.9h-0.9zM354.8 425.7h0.9v0.9h-0.9zM348.3 431.8h0.9v0.9h-0.9zM351.4 427.8h0.9v0.9h-0.9zM361.6 427.3h0.9v0.9h-0.9zM352.1 426.8h0.9v0.9h-0.9zM359.9 435.9h0.9v0.9h-0.9zM355.7 425.3h0.9v0.9h-0.9zM358.5 424.0h0.9v0.9h-0.9zM363.0 431.3h0.9v0.9h-0.9zM353.1 438.0h0.9v0.9h-0.9zM350.5 428.5h0.9v0.9h-0.9zM360.5 435.8h0.9v0.9h-0.9zM350.8 429.5h0.9v0.9h-0.9zM360.8 434.5h0.9v0.9h-0.9zM355.8 437.9h0.9v0.9h-0.9zM354.3 438.2h0.9v0.9h-0.9zM361.0 435.4h0.9v0.9h-0.9z"/>
<path fill="#3064ee" d="M354.1 432.3h0.9v0.9h-0.9zM358.0 431.0h0.9v0.9h-0.9zM357.0 432.0h0.9v0.9h-0.9zM353.7 430.2h0.9v0.9h-0.9zM353.2 434.0h0.9v0.9h-0.9zM353.7 430.7h0.9v0.9h-0.9zM357.5 429.2h0.9v0.9h-0.9zM354.2 430.5h0.9v0.9h-0.9zM354.2 434.7h0.9v0.9h-0.9zM357.7 429.9h0.9v0.9h-0.9zM353.6 431.3h0.9v0.9h-0.9zM357.2 433.5h0.9v0.9h-0.9zM359.0 431.0h0.9v0.9h-0.9zM358.4 431.8h0.9v0.9h-0.9zM354.8 433.6h0.9v0.9h-0.9zM354.2 432.9h0.9v0.9h-0.9zM357.5 434.3h0.9v0.9h-0.9zM353.1 431.4h0.9v0.9h-0.9zM358.0 433.5h0.9v0.9h-0.9zM355.1 434.8h0.9v0.9h-0.9zM358.3 432.6h0.9v0.9h-0.9zM354.0 430.9h0.9v0.9h-0.9zM354.2 434.2h0.9v0.9h-0.9zM355.0 434.0h0.9v0.9h-0.9zM353.3 433.8h0.9v0.9h-0.9zM354.0 434.2h0.9v0.9h-0.9zM359.2 431.4h0.9v0.9h-0.9zM356.2 433.2h0.9v0.9h-0.9zM358.0 431.4h0.9v0.9h-0.9zM358.0 434.0h0.9v0.9h-0.9zM353.7 431.8h0.9v0.9h-0.9zM355.2 432.4h0.9v0.9h-0.9zM354.0 431.4h0.9v0.9h-0.9zM357.4 432.7h0.9v0.9h-0.9zM356.4 430.5h0.9v0.9h-0.9zM357.3 432.8h0.9v0.9h-0.9zM355.3 430.5h0.9v0.9h-0.9zM355.1 434.3h0.9v0.9h-0.9zM358.8 430.3h0.9v0.9h-0.9zM355.3 431.1h0.9v0.9h-0.9zM357.3 433.4h0.9v0.9h-0.9zM357.5 432.3h0.9v0.9h-0.9zM358.0 432.3h0.9v0.9h-0.9z"/>
<path fill="#1d4fe6" d="M355.2 432.8h0.9v0.9h-0.9zM358.8 432.2h0.9v0.9h-0.9zM356.1 429.2h0.9v0.9h-0.9zM355.3 435.1h0.9v0.9h-0.9zM355.0 434.1h0.9v0.9h-0.9zM355.1 431.9h0.9v0.9h-0.9zM357.3 432.5h0.9v0.9h-0.9zM357.0 431.4h0.9v0.9h-0.9zM355.0 430.9h0.9v0.9h-0.9zM356.8 429.1h0.9v0.9h-0.9zM354.1 433.6h0.9v0.9h-0.9zM354.8 432.9h0.9v0.9h-0.9zM354.6 433.3h0.9v0.9h-0.9zM357.4 430.6h0.9v0.9h-0.9zM354.2 435.0h0.9v0.9h-0.9zM355.9 429.8h0.9v0.9h-0.9zM358.1 429.2h0.9v0.9h-0.9zM357.8 431.7h0.9v0.9h-0.9zM354.7 431.0h0.9v0.9h-0.9zM356.9 431.4h0.9v0.9h-0.9zM357.9 433.6h0.9v0.9h-0.9zM354.5 432.9h0.9v0.9h-0.9zM357.2 430.9h0.9v0.9h-0.9zM355.3 430.4h0.9v0.9h-0.9zM359.2 430.7h0.9v0.9h-0.9zM355.6 429.0h0.9v0.9h-0.9zM357.0 431.1h0.9v0.9h-0.9zM356.0 434.3h0.9v0.9h-0.9zM355.4 433.3h0.9v0.9h-0.9zM355.5 431.7h0.9v0.9h-0.9zM354.2 430.3h0.9v0.9h-0.9zM355.9 429.5h0.9v0.9h-0.9zM353.9 430.3h0.9v0.9h-0.9zM356.6 434.8h0.9v0.9h-0.9zM355.3 433.9h0.9v0.9h-0.9zM355.3 432.2h0.9v0.9h-0.9zM354.7 435.2h0.9v0.9h-0.9zM355.5 432.3h0.9v0.9h-0.9zM357.6 433.4h0.9v0.9h-0.9zM356.3 429.6h0.9v0.9h-0.9zM356.3 429.7h0.9v0.9h-0.9zM357.0 429.5h0.9v0.9h-0.9zM354.7 431.3h0.9v0.9h-0.9zM355.4 430.3h0.9v0.9h-0.9zM357.3 431.1h0.9v0.9h-0.9zM357.1 429.0h0.9v0.9h-0.9zM354.5 432.5h0.9v0.9h-0.9zM352.8 431.9h0.9v0.9h-0.9zM356.2 431.9h0.9v0.9h-0.9zM356.0 433.6h0.9v0.9h-0.9zM352.8 433.6h0.9v0.9h-0.9zM354.1 432.5h0.9v0.9h-0.9zM357.3 428.8h0.9v0.9h-0.9zM355.4 431.9h0.9v0.9h-0.9zM356.3 433.2h0.9v0.9h-0.9zM357.2 432.3h0.9v0.9h-0.9zM355.9 431.7h0.9v0.9h-0.9zM356.4 429.1h0.9v0.9h-0.9zM356.8 429.3h0.9v0.9h-0.9zM358.6 432.7h0.9v0.9h-0.9zM359.2 432.3h0.9v0.9h-0.9z"/>
<path fill="#9db0ee" d="M367.5 427.6h0.9v0.9h-0.9zM364.0 426.8h0.9v0.9h-0.9zM352.1 423.4h0.9v0.9h-0.9zM347.7 427.4h0.9v0.9h-0.9zM362.0 425.1h0.9v0.9h-0.9zM366.2 430.8h0.9v0.9h-0.9zM366.7 430.4h0.9v0.9h-0.9zM348.0 430.1h0.9v0.9h-0.9zM363.9 436.1h0.9v0.9h-0.9zM358.4 422.3h0.9v0.9h-0.9zM348.2 429.6h0.9v0.9h-0.9zM367.7 424.0h0.9v0.9h-0.9zM351.5 424.2h0.9v0.9h-0.9zM347.4 431.1h0.9v0.9h-0.9zM364.5 434.5h0.9v0.9h-0.9zM349.9 426.1h0.9v0.9h-0.9zM363.6 422.8h0.9v0.9h-0.9zM359.1 423.6h0.9v0.9h-0.9z"/>
<path fill="#2458ee" d="M358.4 433.5h0.9v0.9h-0.9zM355.6 431.0h0.9v0.9h-0.9zM359.4 431.5h0.9v0.9h-0.9zM358.0 430.1h0.9v0.9h-0.9zM355.0 431.4h0.9v0.9h-0.9zM355.2 430.1h0.9v0.9h-0.9zM354.5 432.5h0.9v0.9h-0.9zM354.5 431.5h0.9v0.9h-0.9zM354.5 432.4h0.9v0.9h-0.9zM356.5 431.7h0.9v0.9h-0.9zM357.1 430.1h0.9v0.9h-0.9zM354.6 432.1h0.9v0.9h-0.9zM357.0 434.3h0.9v0.9h-0.9zM355.2 431.2h0.9v0.9h-0.9zM355.6 432.4h0.9v0.9h-0.9zM354.0 433.5h0.9v0.9h-0.9zM356.4 432.6h0.9v0.9h-0.9zM357.0 433.1h0.9v0.9h-0.9zM358.0 431.6h0.9v0.9h-0.9zM354.7 430.2h0.9v0.9h-0.9zM358.3 429.4h0.9v0.9h-0.9zM357.9 431.0h0.9v0.9h-0.9zM355.1 430.4h0.9v0.9h-0.9zM356.8 429.7h0.9v0.9h-0.9zM358.4 429.8h0.9v0.9h-0.9zM356.0 431.7h0.9v0.9h-0.9zM353.8 431.8h0.9v0.9h-0.9zM358.5 431.5h0.9v0.9h-0.9zM358.8 433.2h0.9v0.9h-0.9zM357.3 431.9h0.9v0.9h-0.9zM354.3 434.5h0.9v0.9h-0.9zM355.5 434.9h0.9v0.9h-0.9zM353.3 431.6h0.9v0.9h-0.9zM357.0 431.5h0.9v0.9h-0.9zM358.4 430.2h0.9v0.9h-0.9zM352.8 431.7h0.9v0.9h-0.9zM357.2 432.5h0.9v0.9h-0.9zM357.0 430.6h0.9v0.9h-0.9zM357.3 429.8h0.9v0.9h-0.9zM355.3 432.2h0.9v0.9h-0.9zM356.6 431.8h0.9v0.9h-0.9z"/>
<path fill="#bfcaf2" d="M358.7 423.3h0.9v0.9h-0.9zM366.9 424.9h0.9v0.9h-0.9zM347.3 437.1h0.9v0.9h-0.9zM359.1 421.1h0.9v0.9h-0.9zM365.9 424.4h0.9v0.9h-0.9zM359.2 423.3h0.9v0.9h-0.9zM363.5 425.3h0.9v0.9h-0.9zM355.5 423.7h0.9v0.9h-0.9zM366.2 429.5h0.9v0.9h-0.9zM347.5 432.3h0.9v0.9h-0.9zM347.6 422.8h0.9v0.9h-0.9z"/>
<path fill="#aabbf0" d="M347.4 435.9h0.9v0.9h-0.9zM365.5 429.1h0.9v0.9h-0.9zM364.7 433.7h0.9v0.9h-0.9zM356.5 420.8h0.9v0.9h-0.9zM353.1 423.1h0.9v0.9h-0.9zM352.0 424.5h0.9v0.9h-0.9zM365.8 431.4h0.9v0.9h-0.9zM364.2 422.8h0.9v0.9h-0.9zM353.4 421.0h0.9v0.9h-0.9zM352.7 424.1h0.9v0.9h-0.9zM364.9 435.2h0.9v0.9h-0.9zM364.5 427.9h0.9v0.9h-0.9zM359.7 423.1h0.9v0.9h-0.9zM357.4 420.3h0.9v0.9h-0.9zM355.1 422.6h0.9v0.9h-0.9zM364.3 432.7h0.9v0.9h-0.9zM357.4 423.5h0.9v0.9h-0.9zM351.2 425.0h0.9v0.9h-0.9zM349.1 425.9h0.9v0.9h-0.9z"/>
<path fill="#2a5af0" d="M357.1 429.5h0.9v0.9h-0.9zM355.8 432.7h0.9v0.9h-0.9zM354.8 433.3h0.9v0.9h-0.9zM355.7 431.5h0.9v0.9h-0.9zM357.7 429.2h0.9v0.9h-0.9zM355.7 434.1h0.9v0.9h-0.9zM358.2 430.7h0.9v0.9h-0.9zM356.5 429.9h0.9v0.9h-0.9zM356.9 432.7h0.9v0.9h-0.9zM358.3 432.5h0.9v0.9h-0.9zM358.2 430.2h0.9v0.9h-0.9zM354.6 430.5h0.9v0.9h-0.9zM355.6 430.1h0.9v0.9h-0.9zM355.3 430.5h0.9v0.9h-0.9zM356.0 432.3h0.9v0.9h-0.9zM355.7 433.3h0.9v0.9h-0.9zM355.8 430.5h0.9v0.9h-0.9zM356.8 434.7h0.9v0.9h-0.9zM355.9 434.1h0.9v0.9h-0.9zM357.9 431.7h0.9v0.9h-0.9zM357.6 430.7h0.9v0.9h-0.9zM356.7 430.2h0.9v0.9h-0.9zM354.5 433.6h0.9v0.9h-0.9zM353.2 434.2h0.9v0.9h-0.9zM358.0 432.0h0.9v0.9h-0.9zM353.9 434.0h0.9v0.9h-0.9zM354.9 435.1h0.9v0.9h-0.9zM355.5 433.1h0.9v0.9h-0.9zM358.5 433.0h0.9v0.9h-0.9zM353.9 434.5h0.9v0.9h-0.9zM355.1 432.8h0.9v0.9h-0.9zM358.0 431.9h0.9v0.9h-0.9zM357.9 430.2h0.9v0.9h-0.9zM356.0 433.8h0.9v0.9h-0.9zM354.6 433.6h0.9v0.9h-0.9zM354.4 433.3h0.9v0.9h-0.9zM357.5 434.3h0.9v0.9h-0.9zM353.8 430.5h0.9v0.9h-0.9zM356.8 432.7h0.9v0.9h-0.9zM357.1 430.1h0.9v0.9h-0.9zM357.1 432.9h0.9v0.9h-0.9zM356.7 431.2h0.9v0.9h-0.9zM353.0 434.0h0.9v0.9h-0.9zM354.1 434.1h0.9v0.9h-0.9z"/>
<path fill="#6d8de8" d="M374.7 422.5h0.9v0.9h-0.9zM377.0 421.8h0.9v0.9h-0.9zM375.5 422.7h0.9v0.9h-0.9zM378.1 434.0h0.9v0.9h-0.9z"/>
<path fill="#2458ee" d="M376.8 432.2h0.9v0.9h-0.9zM376.0 427.4h0.9v0.9h-0.9zM375.8 432.7h0.9v0.9h-0.9zM375.4 426.7h0.9v0.9h-0.9z"/>
<path fill="#3b68e8" d="M377.4 429.9h0.9v0.9h-0.9zM374.1 432.6h0.9v0.9h-0.9zM376.5 435.6h0.9v0.9h-0.9zM377.4 430.6h0.9v0.9h-0.9zM377.1 434.4h0.9v0.9h-0.9zM375.5 424.4h0.9v0.9h-0.9zM377.1 425.8h0.9v0.9h-0.9zM376.2 434.1h0.9v0.9h-0.9zM377.4 434.5h0.9v0.9h-0.9zM374.1 426.6h0.9v0.9h-0.9zM376.3 436.4h0.9v0.9h-0.9z"/>
<path fill="#3064ee" d="M375.3 428.7h0.9v0.9h-0.9zM376.7 428.9h0.9v0.9h-0.9zM375.3 431.1h0.9v0.9h-0.9zM376.5 431.1h0.9v0.9h-0.9zM375.8 429.3h0.9v0.9h-0.9zM376.6 427.2h0.9v0.9h-0.9zM374.7 429.5h0.9v0.9h-0.9zM377.0 430.6h0.9v0.9h-0.9zM375.5 433.0h0.9v0.9h-0.9zM376.1 429.0h0.9v0.9h-0.9z"/>
<path fill="#1d4fe6" d="M375.4 433.4h0.9v0.9h-0.9zM375.0 428.6h0.9v0.9h-0.9zM377.0 427.7h0.9v0.9h-0.9zM375.0 427.6h0.9v0.9h-0.9zM375.0 431.9h0.9v0.9h-0.9zM375.7 430.5h0.9v0.9h-0.9zM376.7 430.3h0.9v0.9h-0.9zM375.4 429.6h0.9v0.9h-0.9zM375.8 432.7h0.9v0.9h-0.9z"/>
<path fill="#aabbf0" d="M376.5 419.9h0.9v0.9h-0.9zM372.3 435.0h0.9v0.9h-0.9zM379.2 426.2h0.9v0.9h-0.9zM372.4 438.1h0.9v0.9h-0.9zM379.8 433.0h0.9v0.9h-0.9z"/>
<path fill="#7f9cec" d="M373.9 435.0h0.9v0.9h-0.9zM377.5 435.1h0.9v0.9h-0.9zM375.0 437.6h0.9v0.9h-0.9zM377.9 425.0h0.9v0.9h-0.9zM375.4 436.6h0.9v0.9h-0.9zM373.4 431.4h0.9v0.9h-0.9zM378.4 436.4h0.9v0.9h-0.9zM375.8 420.8h0.9v0.9h-0.9zM379.0 429.1h0.9v0.9h-0.9zM377.0 436.3h0.9v0.9h-0.9z"/>
<path fill="#2b5be6" d="M376.1 425.2h0.9v0.9h-0.9zM378.2 429.6h0.9v0.9h-0.9zM376.2 436.0h0.9v0.9h-0.9zM377.9 426.4h0.9v0.9h-0.9zM374.2 431.1h0.9v0.9h-0.9zM377.7 430.3h0.9v0.9h-0.9zM377.0 426.7h0.9v0.9h-0.9zM377.7 432.3h0.9v0.9h-0.9zM373.9 431.5h0.9v0.9h-0.9zM374.6 431.3h0.9v0.9h-0.9zM377.7 431.6h0.9v0.9h-0.9zM377.4 432.9h0.9v0.9h-0.9zM375.7 435.5h0.9v0.9h-0.9zM375.6 424.7h0.9v0.9h-0.9z"/>
<path fill="#93acf0" d="M377.5 422.6h0.9v0.9h-0.9zM376.7 437.1h0.9v0.9h-0.9zM378.0 424.9h0.9v0.9h-0.9zM374.4 424.4h0.9v0.9h-0.9zM373.4 432.0h0.9v0.9h-0.9zM378.5 434.2h0.9v0.9h-0.9zM377.4 437.7h0.9v0.9h-0.9z"/>
<path fill="#2a5af0" d="M376.9 432.0h0.9v0.9h-0.9zM375.6 426.4h0.9v0.9h-0.9zM375.6 428.5h0.9v0.9h-0.9zM375.9 432.1h0.9v0.9h-0.9zM375.6 429.2h0.9v0.9h-0.9zM377.3 429.7h0.9v0.9h-0.9z"/>
<path fill="#5580ec" d="M374.2 428.4h0.9v0.9h-0.9zM374.0 430.7h0.9v0.9h-0.9zM374.2 430.8h0.9v0.9h-0.9zM375.8 424.7h0.9v0.9h-0.9zM376.7 433.5h0.9v0.9h-0.9zM373.9 427.3h0.9v0.9h-0.9zM377.3 431.6h0.9v0.9h-0.9zM374.7 425.1h0.9v0.9h-0.9zM375.3 434.1h0.9v0.9h-0.9zM373.8 432.1h0.9v0.9h-0.9zM377.5 432.9h0.9v0.9h-0.9zM374.6 427.5h0.9v0.9h-0.9zM374.5 426.3h0.9v0.9h-0.9zM374.0 429.3h0.9v0.9h-0.9zM376.3 424.0h0.9v0.9h-0.9zM377.4 432.6h0.9v0.9h-0.9zM374.7 425.7h0.9v0.9h-0.9z"/>
<path fill="#bfcaf2" d="M372.6 429.2h0.9v0.9h-0.9z"/>
<path fill="#9db0ee" d="M371.8 420.1h0.9v0.9h-0.9z"/>
<path d="M369.50,438.70 L369.50,417.70 L387.80,417.70 L387.80,438.70" fill="none" stroke="#888" stroke-width="0.8"/>
<rect x="346.50" y="389.40" width="49.70" height="49.30" fill="none" stroke="#444" stroke-width="0.9"/>
<text transform="translate(377.00,404.90) scale(0.862,1)" font-size="7.54" text-anchor="middle" fill="#333" style="stroke-width:0.06px">CD45</text>
<text transform="translate(377.00,412.60) scale(0.862,1)" font-size="7.54" text-anchor="middle" fill="#333" style="stroke-width:0.06px">13.7%</text>
<rect x="292.10" y="442.70" width="49.70" height="49.70" fill="#fff"/>
<path fill="#c6cdea" d="M295.1 488.1h.6v.6h-.6zM317.8 467.1h.6v.6h-.6zM312.1 472.6h.6v.6h-.6zM323.0 487.8h.6v.6h-.6zM304.0 481.5h.6v.6h-.6zM310.3 473.7h.6v.6h-.6zM308.3 476.5h.6v.6h-.6zM309.4 490.2h.6v.6h-.6zM318.1 467.6h.6v.6h-.6zM305.7 490.6h.6v.6h-.6zM319.0 481.7h.6v.6h-.6zM315.3 483.6h.6v.6h-.6zM299.5 476.7h.6v.6h-.6zM303.2 471.4h.6v.6h-.6zM316.7 467.6h.6v.6h-.6zM300.0 484.2h.6v.6h-.6zM323.4 474.2h.6v.6h-.6zM322.1 487.3h.6v.6h-.6zM299.1 489.3h.6v.6h-.6zM299.6 478.4h.6v.6h-.6zM296.8 469.0h.6v.6h-.6zM315.9 487.4h.6v.6h-.6zM297.8 474.8h.6v.6h-.6zM314.1 481.4h.6v.6h-.6zM298.7 483.8h.6v.6h-.6zM297.6 489.7h.6v.6h-.6zM316.0 483.1h.6v.6h-.6zM324.4 472.5h.6v.6h-.6zM300.7 482.2h.6v.6h-.6zM323.4 489.7h.6v.6h-.6z"/>
<path fill="#6d8de8" d="M301.8 491.2h0.9v0.9h-0.9zM295.0 486.9h0.9v0.9h-0.9zM300.5 479.9h0.9v0.9h-0.9zM295.1 487.9h0.9v0.9h-0.9zM299.3 479.7h0.9v0.9h-0.9zM308.0 485.9h0.9v0.9h-0.9zM310.0 486.8h0.9v0.9h-0.9zM298.6 480.4h0.9v0.9h-0.9zM295.6 490.7h0.9v0.9h-0.9zM301.0 478.7h0.9v0.9h-0.9zM304.5 478.4h0.9v0.9h-0.9zM308.3 478.7h0.9v0.9h-0.9zM294.7 485.4h0.9v0.9h-0.9zM303.9 478.7h0.9v0.9h-0.9zM294.6 484.7h0.9v0.9h-0.9zM307.3 480.5h0.9v0.9h-0.9zM304.3 478.3h0.9v0.9h-0.9zM308.2 488.3h0.9v0.9h-0.9zM305.7 477.7h0.9v0.9h-0.9zM309.8 485.3h0.9v0.9h-0.9zM297.4 481.6h0.9v0.9h-0.9zM304.3 478.7h0.9v0.9h-0.9zM305.4 479.0h0.9v0.9h-0.9zM295.9 485.8h0.9v0.9h-0.9zM305.9 489.0h0.9v0.9h-0.9zM304.5 478.1h0.9v0.9h-0.9zM294.2 484.4h0.9v0.9h-0.9zM308.3 482.6h0.9v0.9h-0.9zM298.6 490.3h0.9v0.9h-0.9zM293.7 487.0h0.9v0.9h-0.9zM294.8 488.3h0.9v0.9h-0.9zM295.6 481.8h0.9v0.9h-0.9zM309.4 480.6h0.9v0.9h-0.9zM304.0 490.3h0.9v0.9h-0.9zM307.5 479.1h0.9v0.9h-0.9zM306.5 490.3h0.9v0.9h-0.9zM306.0 478.1h0.9v0.9h-0.9zM306.0 478.2h0.9v0.9h-0.9zM296.6 489.3h0.9v0.9h-0.9zM294.0 485.2h0.9v0.9h-0.9zM300.3 490.8h0.9v0.9h-0.9zM295.1 482.7h0.9v0.9h-0.9zM306.9 488.6h0.9v0.9h-0.9zM306.4 490.7h0.9v0.9h-0.9zM294.4 486.2h0.9v0.9h-0.9zM302.7 491.1h0.9v0.9h-0.9zM302.1 478.5h0.9v0.9h-0.9zM296.2 490.3h0.9v0.9h-0.9zM294.9 484.7h0.9v0.9h-0.9zM299.7 490.8h0.9v0.9h-0.9z"/>
<path fill="#9db0ee" d="M305.1 476.5h0.9v0.9h-0.9zM309.7 478.7h0.9v0.9h-0.9zM310.3 487.7h0.9v0.9h-0.9zM299.6 477.0h0.9v0.9h-0.9zM296.1 480.2h0.9v0.9h-0.9zM298.5 476.1h0.9v0.9h-0.9zM300.5 477.1h0.9v0.9h-0.9zM307.7 477.6h0.9v0.9h-0.9zM302.8 474.4h0.9v0.9h-0.9zM295.2 481.4h0.9v0.9h-0.9zM295.1 480.3h0.9v0.9h-0.9zM314.8 489.7h0.9v0.9h-0.9zM297.3 478.2h0.9v0.9h-0.9zM307.9 477.8h0.9v0.9h-0.9zM293.2 484.8h0.9v0.9h-0.9zM310.3 487.9h0.9v0.9h-0.9zM308.4 489.8h0.9v0.9h-0.9zM311.7 483.9h0.9v0.9h-0.9zM311.8 486.1h0.9v0.9h-0.9zM310.4 479.0h0.9v0.9h-0.9z"/>
<path fill="#2a5af0" d="M302.5 487.2h0.9v0.9h-0.9zM303.1 481.9h0.9v0.9h-0.9zM299.7 486.4h0.9v0.9h-0.9zM302.5 487.9h0.9v0.9h-0.9zM301.7 483.0h0.9v0.9h-0.9zM302.0 481.9h0.9v0.9h-0.9zM303.5 484.5h0.9v0.9h-0.9zM305.2 485.8h0.9v0.9h-0.9zM305.2 485.3h0.9v0.9h-0.9zM298.9 486.2h0.9v0.9h-0.9zM302.1 483.2h0.9v0.9h-0.9zM301.8 486.8h0.9v0.9h-0.9zM304.8 485.8h0.9v0.9h-0.9zM302.6 485.5h0.9v0.9h-0.9zM305.2 485.3h0.9v0.9h-0.9zM302.2 483.1h0.9v0.9h-0.9zM300.8 486.2h0.9v0.9h-0.9zM299.8 485.1h0.9v0.9h-0.9zM302.9 486.2h0.9v0.9h-0.9zM302.5 484.9h0.9v0.9h-0.9zM301.9 483.6h0.9v0.9h-0.9zM299.7 486.8h0.9v0.9h-0.9zM302.7 486.6h0.9v0.9h-0.9zM303.8 484.4h0.9v0.9h-0.9zM304.1 484.0h0.9v0.9h-0.9zM300.5 484.8h0.9v0.9h-0.9zM303.6 482.9h0.9v0.9h-0.9zM301.3 487.1h0.9v0.9h-0.9zM302.0 486.0h0.9v0.9h-0.9zM302.8 487.3h0.9v0.9h-0.9zM301.7 487.0h0.9v0.9h-0.9zM300.4 484.1h0.9v0.9h-0.9zM304.4 482.6h0.9v0.9h-0.9zM304.5 483.3h0.9v0.9h-0.9zM304.7 484.2h0.9v0.9h-0.9zM301.4 483.6h0.9v0.9h-0.9zM300.7 487.7h0.9v0.9h-0.9zM304.2 483.5h0.9v0.9h-0.9zM301.9 486.6h0.9v0.9h-0.9zM301.6 482.6h0.9v0.9h-0.9zM304.7 485.0h0.9v0.9h-0.9zM301.2 483.7h0.9v0.9h-0.9zM300.8 486.9h0.9v0.9h-0.9zM303.3 485.8h0.9v0.9h-0.9zM301.6 486.9h0.9v0.9h-0.9zM303.6 484.8h0.9v0.9h-0.9zM301.5 483.6h0.9v0.9h-0.9zM301.2 483.9h0.9v0.9h-0.9zM305.1 485.6h0.9v0.9h-0.9zM302.1 488.1h0.9v0.9h-0.9zM303.8 486.9h0.9v0.9h-0.9zM301.8 482.7h0.9v0.9h-0.9zM304.3 485.5h0.9v0.9h-0.9zM300.5 486.7h0.9v0.9h-0.9zM302.9 485.6h0.9v0.9h-0.9z"/>
<path fill="#1d4fe6" d="M300.4 483.3h0.9v0.9h-0.9zM304.4 485.0h0.9v0.9h-0.9zM301.7 482.4h0.9v0.9h-0.9zM301.5 487.4h0.9v0.9h-0.9zM301.7 486.7h0.9v0.9h-0.9zM304.6 483.5h0.9v0.9h-0.9zM301.8 485.2h0.9v0.9h-0.9zM299.4 485.9h0.9v0.9h-0.9zM302.3 485.8h0.9v0.9h-0.9zM304.1 486.4h0.9v0.9h-0.9zM303.9 486.0h0.9v0.9h-0.9zM303.0 486.0h0.9v0.9h-0.9zM301.8 483.3h0.9v0.9h-0.9zM304.3 482.7h0.9v0.9h-0.9zM301.1 485.4h0.9v0.9h-0.9zM299.0 486.0h0.9v0.9h-0.9zM302.8 483.8h0.9v0.9h-0.9zM299.2 484.3h0.9v0.9h-0.9zM299.3 485.8h0.9v0.9h-0.9zM301.3 488.0h0.9v0.9h-0.9zM301.6 484.0h0.9v0.9h-0.9zM299.6 485.0h0.9v0.9h-0.9zM301.0 485.1h0.9v0.9h-0.9zM303.3 483.2h0.9v0.9h-0.9zM303.0 484.2h0.9v0.9h-0.9zM301.4 486.4h0.9v0.9h-0.9zM300.8 487.3h0.9v0.9h-0.9zM302.4 485.0h0.9v0.9h-0.9zM304.3 486.6h0.9v0.9h-0.9zM303.5 485.8h0.9v0.9h-0.9zM303.0 483.0h0.9v0.9h-0.9zM304.1 482.2h0.9v0.9h-0.9zM301.9 482.2h0.9v0.9h-0.9zM301.5 483.8h0.9v0.9h-0.9zM304.7 486.2h0.9v0.9h-0.9zM300.0 483.2h0.9v0.9h-0.9zM300.3 486.6h0.9v0.9h-0.9zM300.7 485.8h0.9v0.9h-0.9zM299.9 485.6h0.9v0.9h-0.9zM301.5 483.8h0.9v0.9h-0.9zM301.9 482.7h0.9v0.9h-0.9zM303.7 486.6h0.9v0.9h-0.9zM301.4 487.5h0.9v0.9h-0.9zM304.6 484.2h0.9v0.9h-0.9zM301.5 486.3h0.9v0.9h-0.9zM302.4 486.3h0.9v0.9h-0.9zM305.0 483.3h0.9v0.9h-0.9z"/>
<path fill="#2458ee" d="M299.3 485.0h0.9v0.9h-0.9zM304.4 484.6h0.9v0.9h-0.9zM302.9 484.0h0.9v0.9h-0.9zM303.0 485.9h0.9v0.9h-0.9zM303.5 482.2h0.9v0.9h-0.9zM303.9 486.1h0.9v0.9h-0.9zM305.2 483.3h0.9v0.9h-0.9zM304.3 486.5h0.9v0.9h-0.9zM301.4 485.1h0.9v0.9h-0.9zM300.7 484.6h0.9v0.9h-0.9zM302.7 486.9h0.9v0.9h-0.9zM300.4 487.1h0.9v0.9h-0.9zM305.0 485.4h0.9v0.9h-0.9zM300.0 487.0h0.9v0.9h-0.9zM300.8 486.1h0.9v0.9h-0.9zM302.6 485.8h0.9v0.9h-0.9zM301.2 484.9h0.9v0.9h-0.9zM304.5 485.2h0.9v0.9h-0.9zM304.9 486.2h0.9v0.9h-0.9zM302.9 485.9h0.9v0.9h-0.9zM304.1 486.7h0.9v0.9h-0.9zM303.6 483.3h0.9v0.9h-0.9zM299.0 484.6h0.9v0.9h-0.9zM299.8 486.8h0.9v0.9h-0.9zM301.5 483.3h0.9v0.9h-0.9zM302.8 486.2h0.9v0.9h-0.9zM303.2 484.2h0.9v0.9h-0.9zM300.5 486.7h0.9v0.9h-0.9zM301.3 483.5h0.9v0.9h-0.9zM303.2 486.6h0.9v0.9h-0.9zM302.1 482.8h0.9v0.9h-0.9zM300.4 483.5h0.9v0.9h-0.9zM300.9 482.7h0.9v0.9h-0.9zM302.5 482.7h0.9v0.9h-0.9zM302.4 485.4h0.9v0.9h-0.9zM301.8 484.0h0.9v0.9h-0.9zM301.1 483.6h0.9v0.9h-0.9zM302.7 486.8h0.9v0.9h-0.9zM302.3 483.6h0.9v0.9h-0.9z"/>
<path fill="#7f9cec" d="M310.3 483.1h0.9v0.9h-0.9zM305.5 478.5h0.9v0.9h-0.9zM305.4 479.5h0.9v0.9h-0.9zM308.1 479.1h0.9v0.9h-0.9zM307.5 488.0h0.9v0.9h-0.9zM299.1 480.0h0.9v0.9h-0.9zM294.1 485.5h0.9v0.9h-0.9zM310.7 484.5h0.9v0.9h-0.9zM309.4 480.6h0.9v0.9h-0.9zM300.5 479.8h0.9v0.9h-0.9zM296.6 483.9h0.9v0.9h-0.9zM308.8 485.5h0.9v0.9h-0.9zM304.1 478.5h0.9v0.9h-0.9zM309.0 486.6h0.9v0.9h-0.9zM298.0 481.7h0.9v0.9h-0.9zM302.8 490.8h0.9v0.9h-0.9zM310.4 484.8h0.9v0.9h-0.9zM302.9 478.0h0.9v0.9h-0.9zM303.0 478.9h0.9v0.9h-0.9zM305.5 479.6h0.9v0.9h-0.9zM297.1 479.5h0.9v0.9h-0.9zM298.4 480.4h0.9v0.9h-0.9zM305.5 477.0h0.9v0.9h-0.9zM296.8 489.3h0.9v0.9h-0.9zM309.7 482.5h0.9v0.9h-0.9zM308.7 479.2h0.9v0.9h-0.9zM297.5 489.7h0.9v0.9h-0.9zM299.0 480.3h0.9v0.9h-0.9zM296.0 488.2h0.9v0.9h-0.9zM295.9 485.7h0.9v0.9h-0.9zM295.6 485.3h0.9v0.9h-0.9zM298.9 490.4h0.9v0.9h-0.9zM309.8 486.3h0.9v0.9h-0.9zM309.7 482.3h0.9v0.9h-0.9zM297.6 490.7h0.9v0.9h-0.9zM309.0 482.7h0.9v0.9h-0.9zM302.3 477.9h0.9v0.9h-0.9zM294.8 485.4h0.9v0.9h-0.9zM305.0 479.0h0.9v0.9h-0.9zM297.6 480.0h0.9v0.9h-0.9zM305.1 491.8h0.9v0.9h-0.9zM309.7 481.1h0.9v0.9h-0.9zM309.5 482.3h0.9v0.9h-0.9zM309.2 484.0h0.9v0.9h-0.9zM309.9 486.4h0.9v0.9h-0.9zM309.5 485.3h0.9v0.9h-0.9zM310.0 481.4h0.9v0.9h-0.9zM295.9 484.5h0.9v0.9h-0.9zM303.8 490.5h0.9v0.9h-0.9zM307.1 487.5h0.9v0.9h-0.9zM309.5 484.2h0.9v0.9h-0.9zM309.1 487.4h0.9v0.9h-0.9zM306.3 478.1h0.9v0.9h-0.9zM295.5 485.3h0.9v0.9h-0.9zM303.0 478.4h0.9v0.9h-0.9zM299.9 478.1h0.9v0.9h-0.9zM302.4 479.2h0.9v0.9h-0.9zM306.2 479.2h0.9v0.9h-0.9zM298.0 480.1h0.9v0.9h-0.9z"/>
<path fill="#93acf0" d="M307.6 478.7h0.9v0.9h-0.9zM308.6 483.1h0.9v0.9h-0.9zM298.2 481.3h0.9v0.9h-0.9zM305.5 477.9h0.9v0.9h-0.9zM301.5 478.6h0.9v0.9h-0.9zM304.2 491.5h0.9v0.9h-0.9zM310.0 483.5h0.9v0.9h-0.9zM296.5 484.2h0.9v0.9h-0.9zM305.3 490.0h0.9v0.9h-0.9zM306.7 490.9h0.9v0.9h-0.9zM308.4 488.1h0.9v0.9h-0.9zM304.3 490.8h0.9v0.9h-0.9zM309.5 483.9h0.9v0.9h-0.9zM301.6 491.5h0.9v0.9h-0.9zM295.5 487.6h0.9v0.9h-0.9zM295.8 487.3h0.9v0.9h-0.9zM300.1 491.5h0.9v0.9h-0.9zM302.0 491.2h0.9v0.9h-0.9zM306.8 488.4h0.9v0.9h-0.9zM307.2 490.1h0.9v0.9h-0.9zM307.5 479.5h0.9v0.9h-0.9zM308.8 481.9h0.9v0.9h-0.9zM305.9 477.6h0.9v0.9h-0.9zM299.3 479.7h0.9v0.9h-0.9zM308.2 480.6h0.9v0.9h-0.9zM306.7 478.8h0.9v0.9h-0.9zM309.2 482.0h0.9v0.9h-0.9zM298.1 480.8h0.9v0.9h-0.9zM296.4 482.9h0.9v0.9h-0.9zM309.1 483.7h0.9v0.9h-0.9zM308.9 482.5h0.9v0.9h-0.9zM298.0 480.3h0.9v0.9h-0.9zM296.1 487.3h0.9v0.9h-0.9zM309.7 481.4h0.9v0.9h-0.9zM308.4 483.6h0.9v0.9h-0.9zM308.9 483.4h0.9v0.9h-0.9zM296.1 488.0h0.9v0.9h-0.9zM307.0 489.8h0.9v0.9h-0.9zM301.3 479.1h0.9v0.9h-0.9zM308.1 485.7h0.9v0.9h-0.9zM295.3 489.5h0.9v0.9h-0.9zM306.0 489.4h0.9v0.9h-0.9zM308.6 481.1h0.9v0.9h-0.9zM295.8 485.8h0.9v0.9h-0.9zM298.4 490.8h0.9v0.9h-0.9zM305.6 489.3h0.9v0.9h-0.9zM302.9 478.8h0.9v0.9h-0.9zM307.4 487.8h0.9v0.9h-0.9zM294.6 489.8h0.9v0.9h-0.9zM306.9 489.0h0.9v0.9h-0.9zM295.7 489.0h0.9v0.9h-0.9zM296.6 482.9h0.9v0.9h-0.9zM309.7 486.1h0.9v0.9h-0.9zM309.3 483.7h0.9v0.9h-0.9z"/>
<path fill="#2b5be6" d="M300.2 480.6h0.9v0.9h-0.9zM306.8 483.8h0.9v0.9h-0.9zM306.5 480.8h0.9v0.9h-0.9zM303.0 489.5h0.9v0.9h-0.9zM298.8 481.6h0.9v0.9h-0.9zM306.8 481.3h0.9v0.9h-0.9zM299.6 489.5h0.9v0.9h-0.9zM297.4 485.4h0.9v0.9h-0.9zM297.0 487.9h0.9v0.9h-0.9zM298.7 485.0h0.9v0.9h-0.9zM305.4 488.8h0.9v0.9h-0.9zM300.4 490.7h0.9v0.9h-0.9zM298.8 481.1h0.9v0.9h-0.9zM300.8 481.2h0.9v0.9h-0.9zM305.2 481.7h0.9v0.9h-0.9zM305.9 483.2h0.9v0.9h-0.9zM306.5 486.4h0.9v0.9h-0.9zM297.0 485.4h0.9v0.9h-0.9zM301.1 490.4h0.9v0.9h-0.9zM299.2 487.2h0.9v0.9h-0.9zM301.0 480.7h0.9v0.9h-0.9zM297.2 487.8h0.9v0.9h-0.9zM302.8 480.7h0.9v0.9h-0.9zM300.7 481.1h0.9v0.9h-0.9zM300.5 481.6h0.9v0.9h-0.9zM297.2 486.2h0.9v0.9h-0.9zM307.5 482.7h0.9v0.9h-0.9zM305.4 486.8h0.9v0.9h-0.9zM302.1 480.4h0.9v0.9h-0.9zM300.8 482.2h0.9v0.9h-0.9zM298.8 486.8h0.9v0.9h-0.9zM307.2 486.4h0.9v0.9h-0.9zM303.8 487.7h0.9v0.9h-0.9zM298.4 489.3h0.9v0.9h-0.9zM299.4 482.9h0.9v0.9h-0.9zM306.9 484.0h0.9v0.9h-0.9zM306.2 486.3h0.9v0.9h-0.9zM298.8 486.8h0.9v0.9h-0.9zM305.7 485.1h0.9v0.9h-0.9zM299.5 488.0h0.9v0.9h-0.9zM302.5 480.8h0.9v0.9h-0.9zM306.4 481.8h0.9v0.9h-0.9zM305.5 483.3h0.9v0.9h-0.9zM305.8 488.0h0.9v0.9h-0.9zM304.6 488.5h0.9v0.9h-0.9zM305.3 488.8h0.9v0.9h-0.9zM299.0 488.1h0.9v0.9h-0.9zM302.1 490.3h0.9v0.9h-0.9zM299.2 490.0h0.9v0.9h-0.9zM305.4 487.6h0.9v0.9h-0.9zM306.4 488.0h0.9v0.9h-0.9zM306.7 482.9h0.9v0.9h-0.9zM298.6 483.0h0.9v0.9h-0.9zM306.4 483.1h0.9v0.9h-0.9zM298.3 487.5h0.9v0.9h-0.9zM297.6 482.8h0.9v0.9h-0.9zM300.6 481.3h0.9v0.9h-0.9zM297.2 487.3h0.9v0.9h-0.9zM307.0 482.8h0.9v0.9h-0.9zM301.6 488.3h0.9v0.9h-0.9zM307.6 484.0h0.9v0.9h-0.9zM303.4 480.9h0.9v0.9h-0.9zM298.2 486.4h0.9v0.9h-0.9zM301.1 489.1h0.9v0.9h-0.9zM304.3 480.5h0.9v0.9h-0.9zM306.4 487.0h0.9v0.9h-0.9zM302.7 481.3h0.9v0.9h-0.9zM306.7 483.0h0.9v0.9h-0.9zM304.0 481.4h0.9v0.9h-0.9zM300.7 482.2h0.9v0.9h-0.9zM305.6 483.2h0.9v0.9h-0.9zM303.8 488.2h0.9v0.9h-0.9zM306.6 482.4h0.9v0.9h-0.9zM298.5 484.7h0.9v0.9h-0.9zM302.4 488.9h0.9v0.9h-0.9zM306.9 482.0h0.9v0.9h-0.9zM300.6 488.3h0.9v0.9h-0.9zM303.9 487.9h0.9v0.9h-0.9zM297.7 489.2h0.9v0.9h-0.9zM305.9 487.6h0.9v0.9h-0.9zM300.8 489.6h0.9v0.9h-0.9zM299.7 483.2h0.9v0.9h-0.9zM298.6 482.1h0.9v0.9h-0.9zM305.5 480.9h0.9v0.9h-0.9zM306.5 484.5h0.9v0.9h-0.9zM303.1 480.7h0.9v0.9h-0.9zM303.0 489.9h0.9v0.9h-0.9zM305.7 482.9h0.9v0.9h-0.9zM302.9 489.1h0.9v0.9h-0.9zM301.5 488.6h0.9v0.9h-0.9zM296.9 485.7h0.9v0.9h-0.9zM297.8 484.3h0.9v0.9h-0.9zM298.4 486.5h0.9v0.9h-0.9zM305.0 486.6h0.9v0.9h-0.9zM304.9 481.6h0.9v0.9h-0.9z"/>
<path fill="#5580ec" d="M303.9 488.1h0.9v0.9h-0.9zM296.5 487.5h0.9v0.9h-0.9zM297.2 483.3h0.9v0.9h-0.9zM306.5 486.3h0.9v0.9h-0.9zM301.9 490.4h0.9v0.9h-0.9zM303.0 479.5h0.9v0.9h-0.9zM300.1 482.6h0.9v0.9h-0.9zM296.8 486.7h0.9v0.9h-0.9zM299.4 483.5h0.9v0.9h-0.9zM305.0 487.2h0.9v0.9h-0.9zM297.3 483.2h0.9v0.9h-0.9zM305.1 488.2h0.9v0.9h-0.9zM305.1 486.6h0.9v0.9h-0.9zM302.6 480.3h0.9v0.9h-0.9zM306.8 487.4h0.9v0.9h-0.9zM307.0 485.7h0.9v0.9h-0.9zM296.6 486.1h0.9v0.9h-0.9zM306.9 483.7h0.9v0.9h-0.9zM305.0 480.3h0.9v0.9h-0.9zM301.0 488.4h0.9v0.9h-0.9zM305.4 487.9h0.9v0.9h-0.9zM306.2 484.7h0.9v0.9h-0.9zM298.7 488.1h0.9v0.9h-0.9zM302.5 489.2h0.9v0.9h-0.9zM301.6 489.3h0.9v0.9h-0.9zM297.4 489.2h0.9v0.9h-0.9zM303.5 481.4h0.9v0.9h-0.9zM298.6 488.1h0.9v0.9h-0.9zM304.9 487.1h0.9v0.9h-0.9zM306.1 486.2h0.9v0.9h-0.9zM306.4 487.2h0.9v0.9h-0.9zM297.4 485.3h0.9v0.9h-0.9zM303.8 479.5h0.9v0.9h-0.9zM305.1 487.6h0.9v0.9h-0.9zM297.8 486.7h0.9v0.9h-0.9zM297.8 487.2h0.9v0.9h-0.9zM304.9 481.6h0.9v0.9h-0.9zM307.0 486.9h0.9v0.9h-0.9zM296.4 486.8h0.9v0.9h-0.9zM298.6 485.6h0.9v0.9h-0.9zM303.6 489.7h0.9v0.9h-0.9zM301.7 489.6h0.9v0.9h-0.9zM307.9 484.8h0.9v0.9h-0.9zM305.0 482.4h0.9v0.9h-0.9zM299.2 488.0h0.9v0.9h-0.9zM301.0 481.0h0.9v0.9h-0.9zM307.4 484.3h0.9v0.9h-0.9zM297.9 485.7h0.9v0.9h-0.9zM299.3 488.0h0.9v0.9h-0.9zM305.9 483.9h0.9v0.9h-0.9zM298.5 485.7h0.9v0.9h-0.9zM299.2 483.0h0.9v0.9h-0.9zM307.8 484.9h0.9v0.9h-0.9zM300.0 481.3h0.9v0.9h-0.9zM298.7 486.4h0.9v0.9h-0.9zM305.7 488.9h0.9v0.9h-0.9zM299.2 488.1h0.9v0.9h-0.9zM298.7 484.3h0.9v0.9h-0.9zM299.5 483.3h0.9v0.9h-0.9zM304.3 480.5h0.9v0.9h-0.9zM307.0 484.0h0.9v0.9h-0.9zM299.2 487.3h0.9v0.9h-0.9zM298.5 489.1h0.9v0.9h-0.9zM298.5 488.7h0.9v0.9h-0.9zM306.7 481.0h0.9v0.9h-0.9zM307.1 484.0h0.9v0.9h-0.9zM299.4 481.5h0.9v0.9h-0.9zM298.4 483.4h0.9v0.9h-0.9zM298.8 487.0h0.9v0.9h-0.9zM305.1 486.9h0.9v0.9h-0.9zM302.8 480.4h0.9v0.9h-0.9zM298.8 486.6h0.9v0.9h-0.9zM300.5 490.4h0.9v0.9h-0.9zM298.0 483.9h0.9v0.9h-0.9zM296.7 484.3h0.9v0.9h-0.9zM298.8 487.0h0.9v0.9h-0.9zM302.9 481.5h0.9v0.9h-0.9zM300.8 488.8h0.9v0.9h-0.9zM297.0 487.6h0.9v0.9h-0.9zM300.0 482.8h0.9v0.9h-0.9zM303.4 489.1h0.9v0.9h-0.9zM302.6 480.7h0.9v0.9h-0.9zM300.1 481.2h0.9v0.9h-0.9zM301.5 490.0h0.9v0.9h-0.9zM304.9 488.6h0.9v0.9h-0.9zM306.9 481.3h0.9v0.9h-0.9zM299.6 489.0h0.9v0.9h-0.9zM308.0 482.8h0.9v0.9h-0.9zM298.9 483.0h0.9v0.9h-0.9zM303.0 479.8h0.9v0.9h-0.9zM307.5 482.2h0.9v0.9h-0.9zM305.7 486.2h0.9v0.9h-0.9zM302.5 488.8h0.9v0.9h-0.9zM304.2 480.4h0.9v0.9h-0.9zM300.5 489.1h0.9v0.9h-0.9zM298.6 486.4h0.9v0.9h-0.9zM298.2 488.0h0.9v0.9h-0.9zM305.0 487.4h0.9v0.9h-0.9zM304.5 479.8h0.9v0.9h-0.9zM306.1 487.7h0.9v0.9h-0.9z"/>
<path fill="#3064ee" d="M301.5 483.1h0.9v0.9h-0.9zM304.3 483.2h0.9v0.9h-0.9zM302.1 484.1h0.9v0.9h-0.9zM301.0 486.4h0.9v0.9h-0.9zM300.8 484.0h0.9v0.9h-0.9zM300.3 486.0h0.9v0.9h-0.9zM302.3 487.3h0.9v0.9h-0.9zM302.2 483.7h0.9v0.9h-0.9zM302.3 486.9h0.9v0.9h-0.9zM302.3 484.8h0.9v0.9h-0.9zM299.9 483.7h0.9v0.9h-0.9zM301.4 484.9h0.9v0.9h-0.9zM303.2 486.7h0.9v0.9h-0.9zM305.1 485.3h0.9v0.9h-0.9zM301.5 483.9h0.9v0.9h-0.9zM302.3 486.2h0.9v0.9h-0.9zM303.2 486.7h0.9v0.9h-0.9zM302.2 486.3h0.9v0.9h-0.9zM300.9 485.2h0.9v0.9h-0.9zM304.4 483.7h0.9v0.9h-0.9zM305.1 485.2h0.9v0.9h-0.9zM301.0 483.9h0.9v0.9h-0.9zM302.0 486.8h0.9v0.9h-0.9zM301.0 484.4h0.9v0.9h-0.9zM300.4 482.7h0.9v0.9h-0.9zM303.2 484.4h0.9v0.9h-0.9zM299.1 484.9h0.9v0.9h-0.9zM300.9 487.7h0.9v0.9h-0.9zM301.4 484.0h0.9v0.9h-0.9zM304.6 483.0h0.9v0.9h-0.9zM299.0 485.7h0.9v0.9h-0.9zM302.8 484.4h0.9v0.9h-0.9zM299.5 483.8h0.9v0.9h-0.9zM300.0 484.7h0.9v0.9h-0.9zM300.1 487.7h0.9v0.9h-0.9zM304.6 483.6h0.9v0.9h-0.9z"/>
<path fill="#bfcaf2" d="M296.0 478.1h0.9v0.9h-0.9zM298.3 475.7h0.9v0.9h-0.9zM294.0 482.9h0.9v0.9h-0.9zM307.9 490.2h0.9v0.9h-0.9zM311.7 484.0h0.9v0.9h-0.9zM297.2 476.4h0.9v0.9h-0.9zM308.0 475.0h0.9v0.9h-0.9zM308.3 477.4h0.9v0.9h-0.9zM313.0 480.4h0.9v0.9h-0.9zM294.3 479.7h0.9v0.9h-0.9zM294.7 481.7h0.9v0.9h-0.9zM311.6 477.8h0.9v0.9h-0.9zM312.1 486.0h0.9v0.9h-0.9zM306.4 491.2h0.9v0.9h-0.9zM293.6 489.3h0.9v0.9h-0.9zM308.3 475.1h0.9v0.9h-0.9zM310.3 480.1h0.9v0.9h-0.9zM306.9 474.4h0.9v0.9h-0.9zM294.4 490.5h0.9v0.9h-0.9zM318.7 482.2h0.9v0.9h-0.9zM299.5 475.2h0.9v0.9h-0.9zM294.6 482.0h0.9v0.9h-0.9zM292.8 491.8h0.9v0.9h-0.9zM292.9 486.8h0.9v0.9h-0.9zM293.4 488.9h0.9v0.9h-0.9zM302.0 471.9h0.9v0.9h-0.9zM309.5 478.4h0.9v0.9h-0.9zM294.1 483.1h0.9v0.9h-0.9zM303.5 475.4h0.9v0.9h-0.9z"/>
<path fill="#3b68e8" d="M306.7 484.2h0.9v0.9h-0.9zM297.4 483.3h0.9v0.9h-0.9zM299.0 481.7h0.9v0.9h-0.9zM303.3 488.4h0.9v0.9h-0.9zM300.2 489.4h0.9v0.9h-0.9zM302.5 479.5h0.9v0.9h-0.9zM307.1 485.9h0.9v0.9h-0.9zM307.3 485.4h0.9v0.9h-0.9zM306.4 481.1h0.9v0.9h-0.9zM307.3 485.7h0.9v0.9h-0.9zM298.8 485.0h0.9v0.9h-0.9zM297.2 486.5h0.9v0.9h-0.9zM302.4 489.9h0.9v0.9h-0.9zM305.5 483.0h0.9v0.9h-0.9zM305.5 483.0h0.9v0.9h-0.9zM300.2 488.7h0.9v0.9h-0.9zM297.9 487.2h0.9v0.9h-0.9zM303.9 479.5h0.9v0.9h-0.9zM296.8 486.3h0.9v0.9h-0.9zM299.1 482.9h0.9v0.9h-0.9zM298.8 488.1h0.9v0.9h-0.9zM297.1 485.6h0.9v0.9h-0.9zM301.0 480.7h0.9v0.9h-0.9zM300.6 480.4h0.9v0.9h-0.9zM301.7 481.2h0.9v0.9h-0.9zM301.3 480.4h0.9v0.9h-0.9zM306.5 484.6h0.9v0.9h-0.9zM303.2 488.4h0.9v0.9h-0.9zM305.7 485.3h0.9v0.9h-0.9zM299.1 481.6h0.9v0.9h-0.9zM303.2 488.3h0.9v0.9h-0.9zM306.6 484.6h0.9v0.9h-0.9zM298.4 487.1h0.9v0.9h-0.9zM298.9 490.2h0.9v0.9h-0.9zM300.2 490.6h0.9v0.9h-0.9zM298.7 484.6h0.9v0.9h-0.9zM306.1 481.0h0.9v0.9h-0.9zM299.4 482.5h0.9v0.9h-0.9zM300.3 488.9h0.9v0.9h-0.9zM298.1 485.5h0.9v0.9h-0.9zM301.2 490.0h0.9v0.9h-0.9zM300.2 489.3h0.9v0.9h-0.9zM304.8 481.3h0.9v0.9h-0.9zM305.6 482.5h0.9v0.9h-0.9zM299.6 482.6h0.9v0.9h-0.9zM301.4 490.4h0.9v0.9h-0.9zM298.8 483.4h0.9v0.9h-0.9zM301.3 490.0h0.9v0.9h-0.9zM297.0 487.6h0.9v0.9h-0.9zM301.1 490.1h0.9v0.9h-0.9zM297.3 482.7h0.9v0.9h-0.9zM299.5 483.5h0.9v0.9h-0.9zM300.0 482.2h0.9v0.9h-0.9zM307.5 486.4h0.9v0.9h-0.9zM302.5 488.8h0.9v0.9h-0.9zM301.5 481.4h0.9v0.9h-0.9zM303.4 480.8h0.9v0.9h-0.9zM307.8 483.0h0.9v0.9h-0.9zM298.3 484.9h0.9v0.9h-0.9zM298.7 488.2h0.9v0.9h-0.9zM299.6 488.5h0.9v0.9h-0.9zM303.2 481.4h0.9v0.9h-0.9zM300.2 482.4h0.9v0.9h-0.9zM297.6 488.7h0.9v0.9h-0.9zM300.1 488.5h0.9v0.9h-0.9zM301.9 490.0h0.9v0.9h-0.9zM303.0 489.2h0.9v0.9h-0.9zM303.2 489.6h0.9v0.9h-0.9zM296.8 484.0h0.9v0.9h-0.9zM307.4 485.5h0.9v0.9h-0.9zM301.1 488.7h0.9v0.9h-0.9zM307.0 480.7h0.9v0.9h-0.9zM298.0 485.8h0.9v0.9h-0.9zM299.0 486.9h0.9v0.9h-0.9zM307.0 487.3h0.9v0.9h-0.9zM298.5 485.7h0.9v0.9h-0.9zM306.1 481.8h0.9v0.9h-0.9zM301.2 481.5h0.9v0.9h-0.9z"/>
<path fill="#aabbf0" d="M293.1 487.7h0.9v0.9h-0.9zM309.5 491.1h0.9v0.9h-0.9zM312.6 483.7h0.9v0.9h-0.9zM309.5 491.2h0.9v0.9h-0.9zM310.7 489.0h0.9v0.9h-0.9zM309.4 489.0h0.9v0.9h-0.9zM313.4 485.9h0.9v0.9h-0.9zM310.5 485.6h0.9v0.9h-0.9zM311.6 482.9h0.9v0.9h-0.9zM304.6 474.7h0.9v0.9h-0.9zM293.9 489.1h0.9v0.9h-0.9zM310.6 490.1h0.9v0.9h-0.9zM293.4 484.0h0.9v0.9h-0.9zM309.7 490.8h0.9v0.9h-0.9zM297.2 478.5h0.9v0.9h-0.9zM297.5 474.1h0.9v0.9h-0.9zM308.2 491.7h0.9v0.9h-0.9zM294.6 491.7h0.9v0.9h-0.9zM293.5 490.5h0.9v0.9h-0.9zM311.1 487.6h0.9v0.9h-0.9zM308.9 477.0h0.9v0.9h-0.9zM310.9 484.8h0.9v0.9h-0.9z"/>
<path d="M309.30,492.40 L309.30,471.60 L326.60,471.60 L326.60,492.40" fill="none" stroke="#888" stroke-width="0.8"/>
<rect x="292.10" y="442.70" width="49.70" height="49.70" fill="none" stroke="#444" stroke-width="0.9"/>
<text transform="translate(317.40,458.80) scale(0.862,1)" font-size="7.54" text-anchor="middle" fill="#333" style="stroke-width:0.06px">CD34</text>
<text transform="translate(317.40,466.10) scale(0.862,1)" font-size="7.54" text-anchor="middle" fill="#333" style="stroke-width:0.06px">0.84%</text>
<rect x="346.50" y="442.70" width="49.70" height="49.70" fill="#fff"/>
<path fill="#c6cdea" d="M356.4 469.1h.6v.6h-.6zM370.3 472.7h.6v.6h-.6zM369.0 470.5h.6v.6h-.6zM380.7 483.4h.6v.6h-.6zM358.1 468.3h.6v.6h-.6zM376.0 488.9h.6v.6h-.6zM359.6 469.3h.6v.6h-.6zM380.6 488.8h.6v.6h-.6zM363.7 469.4h.6v.6h-.6zM373.1 490.7h.6v.6h-.6zM358.4 475.8h.6v.6h-.6zM377.0 485.2h.6v.6h-.6zM378.6 482.1h.6v.6h-.6zM356.1 490.2h.6v.6h-.6zM375.1 488.1h.6v.6h-.6zM359.5 474.2h.6v.6h-.6zM380.5 489.6h.6v.6h-.6zM351.8 468.7h.6v.6h-.6zM352.9 483.0h.6v.6h-.6zM356.7 470.8h.6v.6h-.6zM365.5 490.5h.6v.6h-.6zM364.2 468.7h.6v.6h-.6zM353.1 474.1h.6v.6h-.6zM359.4 471.9h.6v.6h-.6zM351.2 475.1h.6v.6h-.6zM355.7 471.8h.6v.6h-.6zM351.3 480.7h.6v.6h-.6zM373.3 475.4h.6v.6h-.6zM352.1 477.2h.6v.6h-.6zM351.0 470.0h.6v.6h-.6z"/>
<path fill="#6d8de8" d="M361.0 487.9h0.9v0.9h-0.9zM355.9 491.1h0.9v0.9h-0.9zM362.1 484.8h0.9v0.9h-0.9zM357.5 490.4h0.9v0.9h-0.9zM361.5 489.0h0.9v0.9h-0.9zM360.5 479.5h0.9v0.9h-0.9zM362.3 480.9h0.9v0.9h-0.9zM355.1 478.7h0.9v0.9h-0.9zM349.1 488.1h0.9v0.9h-0.9zM349.6 486.6h0.9v0.9h-0.9zM363.4 481.8h0.9v0.9h-0.9zM362.6 480.4h0.9v0.9h-0.9zM358.0 478.0h0.9v0.9h-0.9zM361.1 479.3h0.9v0.9h-0.9zM348.1 485.7h0.9v0.9h-0.9zM362.9 482.5h0.9v0.9h-0.9zM361.2 479.6h0.9v0.9h-0.9zM359.3 491.3h0.9v0.9h-0.9zM362.8 483.2h0.9v0.9h-0.9zM360.1 489.9h0.9v0.9h-0.9zM347.6 488.5h0.9v0.9h-0.9zM359.9 477.5h0.9v0.9h-0.9zM359.2 479.1h0.9v0.9h-0.9zM359.6 479.9h0.9v0.9h-0.9zM351.8 479.6h0.9v0.9h-0.9zM351.5 490.4h0.9v0.9h-0.9zM361.8 479.2h0.9v0.9h-0.9zM349.8 482.2h0.9v0.9h-0.9zM362.3 485.8h0.9v0.9h-0.9zM355.9 478.8h0.9v0.9h-0.9zM357.2 491.7h0.9v0.9h-0.9zM360.3 478.8h0.9v0.9h-0.9zM350.0 484.3h0.9v0.9h-0.9zM349.9 482.9h0.9v0.9h-0.9zM360.7 480.2h0.9v0.9h-0.9zM354.5 478.0h0.9v0.9h-0.9zM359.7 491.3h0.9v0.9h-0.9zM352.1 479.5h0.9v0.9h-0.9zM357.7 477.7h0.9v0.9h-0.9zM350.3 481.6h0.9v0.9h-0.9zM361.1 478.1h0.9v0.9h-0.9z"/>
<path fill="#2458ee" d="M352.6 485.1h0.9v0.9h-0.9zM355.0 484.6h0.9v0.9h-0.9zM355.0 483.4h0.9v0.9h-0.9zM358.9 483.2h0.9v0.9h-0.9zM355.8 484.8h0.9v0.9h-0.9zM355.0 483.1h0.9v0.9h-0.9zM357.7 485.2h0.9v0.9h-0.9zM357.6 484.9h0.9v0.9h-0.9zM355.7 484.5h0.9v0.9h-0.9zM358.0 482.5h0.9v0.9h-0.9zM356.7 485.6h0.9v0.9h-0.9zM356.4 486.4h0.9v0.9h-0.9zM355.8 483.5h0.9v0.9h-0.9zM355.9 485.6h0.9v0.9h-0.9zM357.3 486.9h0.9v0.9h-0.9zM356.9 484.3h0.9v0.9h-0.9zM358.8 483.2h0.9v0.9h-0.9zM356.6 484.0h0.9v0.9h-0.9zM355.6 487.3h0.9v0.9h-0.9zM355.5 482.9h0.9v0.9h-0.9zM358.5 486.1h0.9v0.9h-0.9zM358.1 484.5h0.9v0.9h-0.9zM357.1 481.9h0.9v0.9h-0.9zM357.0 485.0h0.9v0.9h-0.9zM352.9 486.1h0.9v0.9h-0.9zM357.0 487.3h0.9v0.9h-0.9zM355.4 488.0h0.9v0.9h-0.9zM354.1 486.5h0.9v0.9h-0.9zM356.9 486.5h0.9v0.9h-0.9zM356.4 487.1h0.9v0.9h-0.9zM356.4 484.7h0.9v0.9h-0.9zM354.7 483.8h0.9v0.9h-0.9zM354.6 483.8h0.9v0.9h-0.9zM353.2 487.4h0.9v0.9h-0.9zM354.1 486.9h0.9v0.9h-0.9zM358.6 482.8h0.9v0.9h-0.9zM355.8 485.7h0.9v0.9h-0.9zM355.8 482.0h0.9v0.9h-0.9zM355.5 483.5h0.9v0.9h-0.9zM358.6 485.5h0.9v0.9h-0.9zM358.6 485.7h0.9v0.9h-0.9zM355.9 484.2h0.9v0.9h-0.9zM358.3 486.5h0.9v0.9h-0.9zM357.4 482.9h0.9v0.9h-0.9zM357.7 485.1h0.9v0.9h-0.9zM354.4 486.3h0.9v0.9h-0.9zM354.5 485.2h0.9v0.9h-0.9zM354.5 487.7h0.9v0.9h-0.9zM355.5 487.5h0.9v0.9h-0.9zM356.1 487.8h0.9v0.9h-0.9zM355.3 482.1h0.9v0.9h-0.9zM355.3 486.1h0.9v0.9h-0.9zM354.6 486.0h0.9v0.9h-0.9zM354.6 487.5h0.9v0.9h-0.9zM357.2 485.4h0.9v0.9h-0.9zM354.3 485.1h0.9v0.9h-0.9z"/>
<path fill="#3064ee" d="M355.4 486.6h0.9v0.9h-0.9zM356.6 486.5h0.9v0.9h-0.9zM353.0 485.3h0.9v0.9h-0.9zM357.3 482.0h0.9v0.9h-0.9zM352.4 485.9h0.9v0.9h-0.9zM354.6 485.0h0.9v0.9h-0.9zM352.6 485.8h0.9v0.9h-0.9zM353.6 485.6h0.9v0.9h-0.9zM354.7 487.8h0.9v0.9h-0.9zM357.5 483.6h0.9v0.9h-0.9zM353.0 485.8h0.9v0.9h-0.9zM355.9 484.7h0.9v0.9h-0.9zM353.5 483.0h0.9v0.9h-0.9zM355.0 487.1h0.9v0.9h-0.9zM356.2 484.3h0.9v0.9h-0.9zM353.1 484.8h0.9v0.9h-0.9zM355.1 488.3h0.9v0.9h-0.9zM354.1 486.6h0.9v0.9h-0.9zM357.7 482.6h0.9v0.9h-0.9zM356.9 484.3h0.9v0.9h-0.9zM356.5 485.5h0.9v0.9h-0.9zM356.1 486.5h0.9v0.9h-0.9zM355.5 483.0h0.9v0.9h-0.9zM358.7 484.9h0.9v0.9h-0.9zM356.4 484.1h0.9v0.9h-0.9zM355.8 486.5h0.9v0.9h-0.9zM352.6 486.2h0.9v0.9h-0.9zM355.9 482.7h0.9v0.9h-0.9zM357.0 483.1h0.9v0.9h-0.9zM358.1 486.9h0.9v0.9h-0.9zM355.4 484.0h0.9v0.9h-0.9zM357.5 483.4h0.9v0.9h-0.9zM355.4 486.5h0.9v0.9h-0.9zM357.1 485.1h0.9v0.9h-0.9zM356.7 483.2h0.9v0.9h-0.9zM356.6 487.2h0.9v0.9h-0.9zM356.2 485.5h0.9v0.9h-0.9zM353.9 486.1h0.9v0.9h-0.9zM353.7 487.7h0.9v0.9h-0.9zM355.1 487.5h0.9v0.9h-0.9zM353.8 486.7h0.9v0.9h-0.9zM356.6 483.7h0.9v0.9h-0.9zM357.6 483.2h0.9v0.9h-0.9zM355.1 483.9h0.9v0.9h-0.9zM355.3 483.7h0.9v0.9h-0.9zM359.1 484.4h0.9v0.9h-0.9zM355.7 484.0h0.9v0.9h-0.9zM356.4 484.9h0.9v0.9h-0.9zM356.6 483.9h0.9v0.9h-0.9zM358.5 482.5h0.9v0.9h-0.9zM356.2 484.4h0.9v0.9h-0.9zM356.3 484.6h0.9v0.9h-0.9zM355.7 485.1h0.9v0.9h-0.9zM356.0 482.2h0.9v0.9h-0.9zM354.6 484.8h0.9v0.9h-0.9zM356.0 485.9h0.9v0.9h-0.9zM357.1 482.9h0.9v0.9h-0.9zM354.0 486.0h0.9v0.9h-0.9zM353.0 487.2h0.9v0.9h-0.9zM358.6 483.7h0.9v0.9h-0.9zM357.3 482.2h0.9v0.9h-0.9zM358.0 482.2h0.9v0.9h-0.9zM353.0 485.5h0.9v0.9h-0.9z"/>
<path fill="#93acf0" d="M353.7 491.2h0.9v0.9h-0.9zM359.2 489.4h0.9v0.9h-0.9zM362.5 484.5h0.9v0.9h-0.9zM362.5 484.5h0.9v0.9h-0.9zM357.5 490.5h0.9v0.9h-0.9zM347.6 486.2h0.9v0.9h-0.9zM348.7 484.4h0.9v0.9h-0.9zM361.9 485.0h0.9v0.9h-0.9zM364.3 482.5h0.9v0.9h-0.9zM362.8 486.6h0.9v0.9h-0.9zM362.7 479.1h0.9v0.9h-0.9zM361.9 484.8h0.9v0.9h-0.9zM350.1 488.9h0.9v0.9h-0.9zM363.2 482.3h0.9v0.9h-0.9zM357.1 490.7h0.9v0.9h-0.9zM347.7 486.6h0.9v0.9h-0.9zM361.5 489.8h0.9v0.9h-0.9zM361.5 488.4h0.9v0.9h-0.9zM348.8 484.7h0.9v0.9h-0.9zM361.7 486.2h0.9v0.9h-0.9zM353.7 479.9h0.9v0.9h-0.9zM362.7 484.4h0.9v0.9h-0.9zM348.9 488.1h0.9v0.9h-0.9zM362.0 483.8h0.9v0.9h-0.9zM348.0 489.4h0.9v0.9h-0.9zM360.5 488.6h0.9v0.9h-0.9zM348.8 485.6h0.9v0.9h-0.9zM363.3 484.9h0.9v0.9h-0.9zM358.4 478.5h0.9v0.9h-0.9zM360.0 479.6h0.9v0.9h-0.9zM350.0 482.1h0.9v0.9h-0.9zM359.6 490.8h0.9v0.9h-0.9zM359.0 479.3h0.9v0.9h-0.9zM358.6 491.2h0.9v0.9h-0.9zM355.2 477.9h0.9v0.9h-0.9zM358.8 479.4h0.9v0.9h-0.9zM350.0 480.7h0.9v0.9h-0.9zM362.1 486.7h0.9v0.9h-0.9zM354.3 479.2h0.9v0.9h-0.9zM348.6 488.9h0.9v0.9h-0.9zM351.0 490.8h0.9v0.9h-0.9zM355.6 491.2h0.9v0.9h-0.9zM362.2 485.5h0.9v0.9h-0.9zM360.5 488.0h0.9v0.9h-0.9zM347.5 487.2h0.9v0.9h-0.9zM363.7 483.9h0.9v0.9h-0.9zM355.5 491.4h0.9v0.9h-0.9zM362.6 482.8h0.9v0.9h-0.9zM348.7 484.0h0.9v0.9h-0.9zM363.3 484.0h0.9v0.9h-0.9zM361.5 489.2h0.9v0.9h-0.9zM351.1 480.6h0.9v0.9h-0.9zM355.8 477.2h0.9v0.9h-0.9zM359.9 490.9h0.9v0.9h-0.9zM357.4 478.8h0.9v0.9h-0.9zM362.1 484.2h0.9v0.9h-0.9zM360.6 489.5h0.9v0.9h-0.9zM363.6 485.1h0.9v0.9h-0.9zM357.9 478.4h0.9v0.9h-0.9zM360.1 490.2h0.9v0.9h-0.9z"/>
<path fill="#bfcaf2" d="M348.4 491.9h0.9v0.9h-0.9zM361.0 490.7h0.9v0.9h-0.9zM367.1 484.8h0.9v0.9h-0.9zM350.9 478.4h0.9v0.9h-0.9zM360.1 475.5h0.9v0.9h-0.9zM366.2 484.5h0.9v0.9h-0.9zM349.3 480.6h0.9v0.9h-0.9zM370.4 478.8h0.9v0.9h-0.9zM359.2 476.4h0.9v0.9h-0.9zM360.9 475.2h0.9v0.9h-0.9zM347.4 484.1h0.9v0.9h-0.9zM348.0 490.6h0.9v0.9h-0.9zM361.0 472.7h0.9v0.9h-0.9zM361.6 490.2h0.9v0.9h-0.9zM352.9 476.8h0.9v0.9h-0.9zM363.6 473.6h0.9v0.9h-0.9zM348.2 490.6h0.9v0.9h-0.9z"/>
<path fill="#2a5af0" d="M353.7 487.8h0.9v0.9h-0.9zM355.4 487.1h0.9v0.9h-0.9zM357.3 484.2h0.9v0.9h-0.9zM357.9 484.5h0.9v0.9h-0.9zM358.2 482.3h0.9v0.9h-0.9zM356.2 487.1h0.9v0.9h-0.9zM356.8 484.4h0.9v0.9h-0.9zM357.3 485.4h0.9v0.9h-0.9zM356.8 482.5h0.9v0.9h-0.9zM357.1 487.1h0.9v0.9h-0.9zM353.3 485.5h0.9v0.9h-0.9zM354.9 485.3h0.9v0.9h-0.9zM353.6 487.2h0.9v0.9h-0.9zM355.3 484.6h0.9v0.9h-0.9zM355.8 482.2h0.9v0.9h-0.9zM356.9 486.1h0.9v0.9h-0.9zM354.5 487.9h0.9v0.9h-0.9zM353.2 485.6h0.9v0.9h-0.9zM357.5 484.4h0.9v0.9h-0.9zM354.6 486.1h0.9v0.9h-0.9zM352.8 484.1h0.9v0.9h-0.9zM355.1 484.1h0.9v0.9h-0.9zM353.7 487.7h0.9v0.9h-0.9zM356.3 487.6h0.9v0.9h-0.9zM356.8 485.8h0.9v0.9h-0.9zM357.7 484.3h0.9v0.9h-0.9zM353.6 483.3h0.9v0.9h-0.9zM358.2 482.7h0.9v0.9h-0.9zM353.9 484.8h0.9v0.9h-0.9zM353.4 485.2h0.9v0.9h-0.9zM352.9 485.4h0.9v0.9h-0.9zM355.7 487.4h0.9v0.9h-0.9zM356.4 486.9h0.9v0.9h-0.9zM356.0 484.0h0.9v0.9h-0.9zM357.2 484.3h0.9v0.9h-0.9zM358.9 485.3h0.9v0.9h-0.9zM355.8 487.7h0.9v0.9h-0.9zM357.8 484.2h0.9v0.9h-0.9zM358.1 483.1h0.9v0.9h-0.9zM353.8 483.9h0.9v0.9h-0.9zM356.3 482.4h0.9v0.9h-0.9zM355.6 484.3h0.9v0.9h-0.9zM354.0 486.1h0.9v0.9h-0.9zM356.7 484.9h0.9v0.9h-0.9zM355.6 487.2h0.9v0.9h-0.9zM355.1 487.5h0.9v0.9h-0.9zM356.2 484.8h0.9v0.9h-0.9zM358.4 483.1h0.9v0.9h-0.9zM358.0 486.5h0.9v0.9h-0.9zM357.2 486.7h0.9v0.9h-0.9zM356.1 483.0h0.9v0.9h-0.9zM353.9 484.6h0.9v0.9h-0.9zM357.8 484.6h0.9v0.9h-0.9zM355.2 482.9h0.9v0.9h-0.9zM358.3 483.5h0.9v0.9h-0.9zM355.9 487.3h0.9v0.9h-0.9zM356.8 487.7h0.9v0.9h-0.9zM355.8 483.7h0.9v0.9h-0.9zM357.5 486.3h0.9v0.9h-0.9zM355.3 484.9h0.9v0.9h-0.9z"/>
<path fill="#7f9cec" d="M359.0 489.4h0.9v0.9h-0.9zM355.4 478.0h0.9v0.9h-0.9zM359.7 489.0h0.9v0.9h-0.9zM361.5 478.6h0.9v0.9h-0.9zM359.3 490.7h0.9v0.9h-0.9zM357.7 491.3h0.9v0.9h-0.9zM362.1 488.9h0.9v0.9h-0.9zM359.7 480.0h0.9v0.9h-0.9zM362.0 487.0h0.9v0.9h-0.9zM356.9 479.2h0.9v0.9h-0.9zM351.7 490.8h0.9v0.9h-0.9zM356.1 490.6h0.9v0.9h-0.9zM354.3 479.7h0.9v0.9h-0.9zM348.2 483.1h0.9v0.9h-0.9zM361.8 481.8h0.9v0.9h-0.9zM364.1 484.4h0.9v0.9h-0.9zM362.4 482.3h0.9v0.9h-0.9zM361.1 487.0h0.9v0.9h-0.9zM353.5 491.1h0.9v0.9h-0.9zM348.3 488.0h0.9v0.9h-0.9zM353.0 491.7h0.9v0.9h-0.9zM362.8 480.3h0.9v0.9h-0.9zM361.3 488.1h0.9v0.9h-0.9zM358.0 478.8h0.9v0.9h-0.9zM359.5 491.1h0.9v0.9h-0.9zM355.1 478.9h0.9v0.9h-0.9zM348.7 488.3h0.9v0.9h-0.9zM353.2 478.3h0.9v0.9h-0.9zM358.1 490.4h0.9v0.9h-0.9zM356.6 477.6h0.9v0.9h-0.9zM360.3 480.4h0.9v0.9h-0.9zM362.6 485.2h0.9v0.9h-0.9zM359.2 479.4h0.9v0.9h-0.9zM363.4 482.0h0.9v0.9h-0.9zM360.2 489.2h0.9v0.9h-0.9zM360.0 490.5h0.9v0.9h-0.9zM362.6 484.8h0.9v0.9h-0.9zM349.1 489.6h0.9v0.9h-0.9zM363.2 487.3h0.9v0.9h-0.9zM362.6 486.0h0.9v0.9h-0.9zM360.2 488.3h0.9v0.9h-0.9zM362.1 482.8h0.9v0.9h-0.9zM358.4 489.6h0.9v0.9h-0.9zM351.5 491.2h0.9v0.9h-0.9zM350.9 480.6h0.9v0.9h-0.9zM352.7 491.4h0.9v0.9h-0.9zM361.3 481.4h0.9v0.9h-0.9zM359.3 489.3h0.9v0.9h-0.9zM348.1 486.0h0.9v0.9h-0.9zM354.3 478.9h0.9v0.9h-0.9zM349.4 484.6h0.9v0.9h-0.9zM349.5 489.9h0.9v0.9h-0.9zM351.8 480.9h0.9v0.9h-0.9zM356.5 491.5h0.9v0.9h-0.9zM349.4 486.6h0.9v0.9h-0.9zM359.1 478.6h0.9v0.9h-0.9zM363.4 480.7h0.9v0.9h-0.9zM356.0 491.1h0.9v0.9h-0.9zM349.6 486.9h0.9v0.9h-0.9zM358.5 479.4h0.9v0.9h-0.9zM359.6 489.9h0.9v0.9h-0.9z"/>
<path fill="#2b5be6" d="M350.4 488.1h0.9v0.9h-0.9zM351.2 486.3h0.9v0.9h-0.9zM352.1 489.5h0.9v0.9h-0.9zM361.6 483.7h0.9v0.9h-0.9zM356.9 480.2h0.9v0.9h-0.9zM353.1 487.8h0.9v0.9h-0.9zM354.7 490.3h0.9v0.9h-0.9zM353.5 488.8h0.9v0.9h-0.9zM358.8 488.5h0.9v0.9h-0.9zM359.1 480.0h0.9v0.9h-0.9zM360.8 485.9h0.9v0.9h-0.9zM352.3 484.5h0.9v0.9h-0.9zM358.3 488.5h0.9v0.9h-0.9zM355.9 480.8h0.9v0.9h-0.9zM359.6 484.0h0.9v0.9h-0.9zM353.4 489.9h0.9v0.9h-0.9zM354.6 489.9h0.9v0.9h-0.9zM358.9 480.9h0.9v0.9h-0.9zM358.6 482.0h0.9v0.9h-0.9zM360.0 482.6h0.9v0.9h-0.9zM359.2 485.8h0.9v0.9h-0.9zM357.7 481.6h0.9v0.9h-0.9zM350.7 484.3h0.9v0.9h-0.9zM359.2 482.6h0.9v0.9h-0.9zM355.1 488.6h0.9v0.9h-0.9zM359.5 481.6h0.9v0.9h-0.9zM354.0 480.4h0.9v0.9h-0.9zM355.7 489.9h0.9v0.9h-0.9zM352.8 481.2h0.9v0.9h-0.9zM357.1 481.7h0.9v0.9h-0.9zM351.5 487.3h0.9v0.9h-0.9zM355.4 480.1h0.9v0.9h-0.9zM353.7 488.4h0.9v0.9h-0.9zM358.3 482.1h0.9v0.9h-0.9zM359.0 486.8h0.9v0.9h-0.9zM350.8 485.8h0.9v0.9h-0.9zM356.7 490.1h0.9v0.9h-0.9zM359.8 482.1h0.9v0.9h-0.9zM361.0 486.7h0.9v0.9h-0.9zM361.0 483.6h0.9v0.9h-0.9zM351.5 482.8h0.9v0.9h-0.9zM353.8 481.4h0.9v0.9h-0.9zM351.9 488.5h0.9v0.9h-0.9zM356.4 489.6h0.9v0.9h-0.9zM357.3 488.5h0.9v0.9h-0.9zM360.5 484.9h0.9v0.9h-0.9zM358.0 481.8h0.9v0.9h-0.9zM352.9 480.9h0.9v0.9h-0.9zM359.9 487.2h0.9v0.9h-0.9zM351.8 483.8h0.9v0.9h-0.9zM352.9 481.8h0.9v0.9h-0.9zM357.0 488.4h0.9v0.9h-0.9zM359.9 485.6h0.9v0.9h-0.9zM356.5 490.2h0.9v0.9h-0.9zM351.2 486.3h0.9v0.9h-0.9zM351.6 488.7h0.9v0.9h-0.9zM360.7 480.9h0.9v0.9h-0.9zM358.2 487.0h0.9v0.9h-0.9zM359.3 484.9h0.9v0.9h-0.9zM352.2 483.6h0.9v0.9h-0.9zM357.3 489.5h0.9v0.9h-0.9zM359.0 488.9h0.9v0.9h-0.9zM361.4 484.7h0.9v0.9h-0.9zM351.3 489.4h0.9v0.9h-0.9zM353.5 488.7h0.9v0.9h-0.9zM353.5 482.7h0.9v0.9h-0.9zM359.8 486.0h0.9v0.9h-0.9zM353.5 490.1h0.9v0.9h-0.9zM357.0 480.0h0.9v0.9h-0.9zM360.1 483.7h0.9v0.9h-0.9zM359.1 483.1h0.9v0.9h-0.9zM352.1 487.5h0.9v0.9h-0.9zM358.9 487.6h0.9v0.9h-0.9zM357.4 488.1h0.9v0.9h-0.9zM359.1 481.0h0.9v0.9h-0.9zM352.3 488.5h0.9v0.9h-0.9zM358.7 487.7h0.9v0.9h-0.9zM361.4 484.8h0.9v0.9h-0.9zM351.9 487.1h0.9v0.9h-0.9z"/>
<path fill="#5580ec" d="M352.3 482.4h0.9v0.9h-0.9zM357.9 488.1h0.9v0.9h-0.9zM352.8 483.9h0.9v0.9h-0.9zM352.0 486.4h0.9v0.9h-0.9zM351.5 484.8h0.9v0.9h-0.9zM354.2 480.3h0.9v0.9h-0.9zM359.0 480.9h0.9v0.9h-0.9zM353.0 483.5h0.9v0.9h-0.9zM351.4 489.5h0.9v0.9h-0.9zM361.4 485.6h0.9v0.9h-0.9zM354.4 488.9h0.9v0.9h-0.9zM359.1 480.3h0.9v0.9h-0.9zM353.1 489.7h0.9v0.9h-0.9zM359.0 483.0h0.9v0.9h-0.9zM359.5 487.6h0.9v0.9h-0.9zM352.6 488.2h0.9v0.9h-0.9zM357.1 481.4h0.9v0.9h-0.9zM352.3 483.1h0.9v0.9h-0.9zM356.9 480.2h0.9v0.9h-0.9zM358.2 489.4h0.9v0.9h-0.9zM356.2 479.5h0.9v0.9h-0.9zM355.3 479.9h0.9v0.9h-0.9zM353.0 488.0h0.9v0.9h-0.9zM359.8 486.8h0.9v0.9h-0.9zM360.1 487.2h0.9v0.9h-0.9zM352.9 483.3h0.9v0.9h-0.9zM355.6 481.0h0.9v0.9h-0.9zM358.0 479.9h0.9v0.9h-0.9zM358.6 487.3h0.9v0.9h-0.9zM352.8 483.7h0.9v0.9h-0.9zM358.2 488.0h0.9v0.9h-0.9zM351.3 484.6h0.9v0.9h-0.9zM354.4 480.0h0.9v0.9h-0.9zM350.3 484.7h0.9v0.9h-0.9zM352.7 490.1h0.9v0.9h-0.9zM360.0 483.5h0.9v0.9h-0.9zM352.1 486.0h0.9v0.9h-0.9zM356.9 488.2h0.9v0.9h-0.9zM353.9 480.4h0.9v0.9h-0.9zM356.5 480.4h0.9v0.9h-0.9zM357.0 480.5h0.9v0.9h-0.9zM351.5 489.2h0.9v0.9h-0.9zM354.2 481.7h0.9v0.9h-0.9zM360.0 482.2h0.9v0.9h-0.9zM359.2 485.6h0.9v0.9h-0.9zM359.9 481.4h0.9v0.9h-0.9zM359.6 485.2h0.9v0.9h-0.9zM355.4 480.0h0.9v0.9h-0.9zM356.4 480.2h0.9v0.9h-0.9zM353.7 489.3h0.9v0.9h-0.9zM350.6 486.2h0.9v0.9h-0.9zM355.6 481.3h0.9v0.9h-0.9zM355.8 481.2h0.9v0.9h-0.9zM352.4 487.9h0.9v0.9h-0.9zM352.4 486.5h0.9v0.9h-0.9zM360.9 483.5h0.9v0.9h-0.9zM351.9 487.1h0.9v0.9h-0.9zM356.0 490.4h0.9v0.9h-0.9zM352.3 489.0h0.9v0.9h-0.9zM355.1 482.0h0.9v0.9h-0.9zM352.0 487.4h0.9v0.9h-0.9zM360.8 485.0h0.9v0.9h-0.9zM353.9 488.3h0.9v0.9h-0.9zM354.5 481.6h0.9v0.9h-0.9zM357.7 488.6h0.9v0.9h-0.9zM352.2 482.9h0.9v0.9h-0.9zM352.2 481.2h0.9v0.9h-0.9zM354.8 490.3h0.9v0.9h-0.9zM355.3 489.7h0.9v0.9h-0.9zM359.6 483.5h0.9v0.9h-0.9zM351.8 483.2h0.9v0.9h-0.9zM351.6 489.1h0.9v0.9h-0.9zM352.3 481.3h0.9v0.9h-0.9zM354.7 481.0h0.9v0.9h-0.9zM350.9 487.1h0.9v0.9h-0.9zM352.6 482.9h0.9v0.9h-0.9zM351.8 486.5h0.9v0.9h-0.9zM355.5 488.3h0.9v0.9h-0.9zM354.8 489.8h0.9v0.9h-0.9zM351.4 485.1h0.9v0.9h-0.9zM351.8 485.2h0.9v0.9h-0.9zM355.1 481.8h0.9v0.9h-0.9zM351.6 487.5h0.9v0.9h-0.9zM357.3 481.4h0.9v0.9h-0.9zM359.6 486.7h0.9v0.9h-0.9z"/>
<path fill="#1d4fe6" d="M353.8 485.4h0.9v0.9h-0.9zM355.7 483.1h0.9v0.9h-0.9zM356.4 483.2h0.9v0.9h-0.9zM356.6 482.9h0.9v0.9h-0.9zM356.8 483.7h0.9v0.9h-0.9zM357.2 484.0h0.9v0.9h-0.9zM357.1 482.4h0.9v0.9h-0.9zM355.8 486.7h0.9v0.9h-0.9zM353.0 484.9h0.9v0.9h-0.9zM352.7 486.5h0.9v0.9h-0.9zM357.2 485.8h0.9v0.9h-0.9zM358.3 484.3h0.9v0.9h-0.9zM355.0 486.2h0.9v0.9h-0.9zM356.6 485.0h0.9v0.9h-0.9zM353.5 487.0h0.9v0.9h-0.9zM354.7 485.2h0.9v0.9h-0.9zM358.4 483.9h0.9v0.9h-0.9zM353.8 486.0h0.9v0.9h-0.9zM356.6 485.2h0.9v0.9h-0.9zM356.0 483.8h0.9v0.9h-0.9zM358.1 485.0h0.9v0.9h-0.9zM356.5 487.3h0.9v0.9h-0.9zM359.0 484.4h0.9v0.9h-0.9zM353.9 487.1h0.9v0.9h-0.9zM356.8 481.9h0.9v0.9h-0.9zM358.6 483.8h0.9v0.9h-0.9zM354.1 485.5h0.9v0.9h-0.9zM358.3 484.4h0.9v0.9h-0.9zM356.6 488.0h0.9v0.9h-0.9zM357.3 485.7h0.9v0.9h-0.9zM354.6 487.9h0.9v0.9h-0.9zM356.1 483.0h0.9v0.9h-0.9zM354.3 487.6h0.9v0.9h-0.9zM355.8 487.5h0.9v0.9h-0.9zM357.8 485.2h0.9v0.9h-0.9zM353.9 487.6h0.9v0.9h-0.9zM356.0 487.6h0.9v0.9h-0.9zM356.0 482.0h0.9v0.9h-0.9zM357.3 487.5h0.9v0.9h-0.9zM352.7 485.5h0.9v0.9h-0.9z"/>
<path fill="#3b68e8" d="M359.4 485.1h0.9v0.9h-0.9zM355.3 489.6h0.9v0.9h-0.9zM350.4 485.8h0.9v0.9h-0.9zM354.8 480.8h0.9v0.9h-0.9zM352.2 486.2h0.9v0.9h-0.9zM361.6 483.5h0.9v0.9h-0.9zM354.3 480.4h0.9v0.9h-0.9zM359.7 480.4h0.9v0.9h-0.9zM352.1 484.9h0.9v0.9h-0.9zM359.7 482.1h0.9v0.9h-0.9zM355.9 488.3h0.9v0.9h-0.9zM358.5 487.6h0.9v0.9h-0.9zM359.2 485.1h0.9v0.9h-0.9zM359.7 484.6h0.9v0.9h-0.9zM355.5 488.3h0.9v0.9h-0.9zM356.1 479.8h0.9v0.9h-0.9zM358.8 486.6h0.9v0.9h-0.9zM356.3 481.4h0.9v0.9h-0.9zM354.0 482.1h0.9v0.9h-0.9zM360.9 483.6h0.9v0.9h-0.9zM353.3 489.8h0.9v0.9h-0.9zM354.7 489.5h0.9v0.9h-0.9zM351.8 487.1h0.9v0.9h-0.9zM355.0 489.2h0.9v0.9h-0.9zM351.4 484.3h0.9v0.9h-0.9zM355.3 489.9h0.9v0.9h-0.9zM352.5 487.0h0.9v0.9h-0.9zM352.2 484.5h0.9v0.9h-0.9zM360.1 486.4h0.9v0.9h-0.9zM361.3 484.0h0.9v0.9h-0.9zM359.4 487.4h0.9v0.9h-0.9zM361.3 483.1h0.9v0.9h-0.9zM351.9 481.8h0.9v0.9h-0.9zM355.3 479.6h0.9v0.9h-0.9zM355.1 481.1h0.9v0.9h-0.9zM356.9 489.6h0.9v0.9h-0.9zM356.4 489.2h0.9v0.9h-0.9zM351.4 487.5h0.9v0.9h-0.9zM357.5 489.0h0.9v0.9h-0.9zM350.7 487.8h0.9v0.9h-0.9zM359.5 484.3h0.9v0.9h-0.9zM352.6 489.0h0.9v0.9h-0.9zM351.4 485.0h0.9v0.9h-0.9zM351.1 486.1h0.9v0.9h-0.9zM351.3 483.3h0.9v0.9h-0.9zM357.5 488.1h0.9v0.9h-0.9zM359.5 486.1h0.9v0.9h-0.9zM357.0 479.7h0.9v0.9h-0.9zM353.3 481.7h0.9v0.9h-0.9zM352.2 487.8h0.9v0.9h-0.9zM352.8 487.6h0.9v0.9h-0.9zM355.1 489.7h0.9v0.9h-0.9zM359.1 485.7h0.9v0.9h-0.9zM359.8 480.1h0.9v0.9h-0.9zM351.2 488.6h0.9v0.9h-0.9zM356.1 480.8h0.9v0.9h-0.9zM356.6 488.9h0.9v0.9h-0.9zM359.4 483.8h0.9v0.9h-0.9zM358.1 489.1h0.9v0.9h-0.9zM360.4 481.7h0.9v0.9h-0.9zM352.0 483.4h0.9v0.9h-0.9zM360.8 486.0h0.9v0.9h-0.9zM358.8 482.6h0.9v0.9h-0.9zM354.6 489.1h0.9v0.9h-0.9zM359.0 481.8h0.9v0.9h-0.9zM353.3 487.8h0.9v0.9h-0.9zM352.5 483.7h0.9v0.9h-0.9zM361.4 482.1h0.9v0.9h-0.9zM354.7 480.7h0.9v0.9h-0.9zM350.5 487.7h0.9v0.9h-0.9zM359.8 482.7h0.9v0.9h-0.9zM360.9 483.3h0.9v0.9h-0.9zM353.3 482.0h0.9v0.9h-0.9zM360.9 481.9h0.9v0.9h-0.9zM353.7 489.3h0.9v0.9h-0.9zM359.7 481.6h0.9v0.9h-0.9zM353.7 481.2h0.9v0.9h-0.9zM358.1 487.4h0.9v0.9h-0.9zM359.7 481.1h0.9v0.9h-0.9zM352.5 488.9h0.9v0.9h-0.9zM350.3 485.2h0.9v0.9h-0.9zM351.4 485.3h0.9v0.9h-0.9z"/>
<path fill="#9db0ee" d="M367.7 485.9h0.9v0.9h-0.9zM361.7 491.8h0.9v0.9h-0.9zM365.4 480.0h0.9v0.9h-0.9zM348.2 490.7h0.9v0.9h-0.9zM367.4 475.2h0.9v0.9h-0.9zM363.8 479.8h0.9v0.9h-0.9zM366.1 487.1h0.9v0.9h-0.9zM364.0 486.4h0.9v0.9h-0.9zM356.2 473.3h0.9v0.9h-0.9zM359.8 476.8h0.9v0.9h-0.9zM367.3 483.0h0.9v0.9h-0.9zM361.5 476.7h0.9v0.9h-0.9zM362.8 489.5h0.9v0.9h-0.9zM365.0 486.3h0.9v0.9h-0.9zM364.7 477.4h0.9v0.9h-0.9zM348.0 476.2h0.9v0.9h-0.9z"/>
<path fill="#aabbf0" d="M360.3 474.1h0.9v0.9h-0.9zM347.5 491.4h0.9v0.9h-0.9zM348.6 481.8h0.9v0.9h-0.9zM366.1 487.1h0.9v0.9h-0.9zM363.9 477.8h0.9v0.9h-0.9zM349.6 479.9h0.9v0.9h-0.9zM365.0 487.3h0.9v0.9h-0.9zM348.1 481.1h0.9v0.9h-0.9zM356.0 475.9h0.9v0.9h-0.9zM357.1 474.9h0.9v0.9h-0.9zM363.2 488.6h0.9v0.9h-0.9zM360.7 476.5h0.9v0.9h-0.9zM351.9 478.5h0.9v0.9h-0.9zM364.7 486.4h0.9v0.9h-0.9zM349.6 478.6h0.9v0.9h-0.9zM364.3 486.2h0.9v0.9h-0.9zM365.7 481.0h0.9v0.9h-0.9zM348.0 483.0h0.9v0.9h-0.9zM361.1 490.7h0.9v0.9h-0.9z"/>
<path d="M369.50,492.40 L369.50,471.60 L387.40,471.60 L387.40,492.40" fill="none" stroke="#888" stroke-width="0.8"/>
<rect x="346.50" y="442.70" width="49.70" height="49.70" fill="none" stroke="#444" stroke-width="0.9"/>
<text transform="translate(377.00,458.80) scale(0.862,1)" font-size="7.54" text-anchor="middle" fill="#333" style="stroke-width:0.06px">CD45</text>
<text transform="translate(377.00,466.10) scale(0.862,1)" font-size="7.54" text-anchor="middle" fill="#333" style="stroke-width:0.06px">1.21%</text>
<text x="410.3" y="385.0" font-size="8.6" font-weight="bold" letter-spacing="0.2" style="stroke-width:0.3px">ii</text>
<line x1="435.00" y1="395.50" x2="435.00" y2="483.80" stroke="#111" stroke-width="1.25" />
<line x1="432.00" y1="483.20" x2="435.00" y2="483.20" stroke="#111" stroke-width="1.1" />
<text transform="translate(428.90,485.94) scale(0.862,1)" font-size="8.82" text-anchor="end">0</text>
<line x1="432.00" y1="454.13" x2="435.00" y2="454.13" stroke="#111" stroke-width="1.1" />
<text transform="translate(428.90,456.87) scale(0.862,1)" font-size="8.82" text-anchor="end">10</text>
<line x1="432.00" y1="425.07" x2="435.00" y2="425.07" stroke="#111" stroke-width="1.1" />
<text transform="translate(428.90,427.80) scale(0.862,1)" font-size="8.82" text-anchor="end">20</text>
<line x1="432.00" y1="396.00" x2="435.00" y2="396.00" stroke="#111" stroke-width="1.1" />
<text transform="translate(428.90,398.74) scale(0.862,1)" font-size="8.82" text-anchor="end">30</text>
<line x1="434.40" y1="483.20" x2="499.70" y2="483.20" stroke="#111" stroke-width="1.25" />
<line x1="451.20" y1="483.20" x2="451.20" y2="486.20" stroke="#111" stroke-width="1.1" />
<line x1="485.00" y1="483.20" x2="485.00" y2="486.20" stroke="#111" stroke-width="1.1" />
<text transform="translate(451.30,494.40) scale(0.862,1)" font-size="8.12" text-anchor="middle">CD34</text>
<text transform="translate(485.10,494.40) scale(0.862,1)" font-size="8.12" text-anchor="middle">CD45</text>
<rect x="440.60" y="385.30" width="8.50" height="3.70" fill="#e2879a" stroke="#d86f86" stroke-width="0.5"/>
<text transform="translate(451.30,389.75) scale(0.862,1)" font-size="8.47">shNC</text>
<rect x="440.60" y="395.20" width="8.50" height="3.60" fill="#86a8c5" stroke="#6f94b8" stroke-width="0.5"/>
<text transform="translate(451.30,399.60) scale(0.862,1)" font-size="8.47">shANP32B</text>
<text transform="translate(418.80,436.00) rotate(-90) scale(0.862,1)" font-size="8.93" text-anchor="middle">Repopulation in BM (%)</text>
<rect x="441.00" y="470.00" width="7.80" height="13.20" fill="#e2879a" stroke="#d86f86" stroke-width="0.6"/>
<line x1="444.90" y1="470.00" x2="444.90" y2="465.20" stroke="#111" stroke-width="0.9" />
<line x1="442.90" y1="465.20" x2="446.90" y2="465.20" stroke="#111" stroke-width="1.0" />
<rect x="453.60" y="480.00" width="7.80" height="3.20" fill="#86a8c5" stroke="#6f94b8" stroke-width="0.6"/>
<line x1="457.50" y1="480.00" x2="457.50" y2="479.20" stroke="#111" stroke-width="0.9" />
<line x1="455.50" y1="479.20" x2="459.50" y2="479.20" stroke="#111" stroke-width="1.0" />
<rect x="474.90" y="443.40" width="7.70" height="39.80" fill="#e2879a" stroke="#d86f86" stroke-width="0.6"/>
<line x1="478.75" y1="443.40" x2="478.75" y2="434.70" stroke="#111" stroke-width="0.9" />
<line x1="476.75" y1="434.70" x2="480.75" y2="434.70" stroke="#111" stroke-width="1.0" />
<rect x="487.40" y="480.00" width="7.80" height="3.20" fill="#86a8c5" stroke="#6f94b8" stroke-width="0.6"/>
<line x1="491.30" y1="480.00" x2="491.30" y2="478.60" stroke="#111" stroke-width="0.9" />
<line x1="489.30" y1="478.60" x2="493.30" y2="478.60" stroke="#111" stroke-width="1.0" />
<circle cx="441.90" cy="459.30" r="1.35" fill="#f1b3c0" stroke="#d11a42" stroke-width="0.95"/>
<circle cx="445.30" cy="460.70" r="1.35" fill="#f1b3c0" stroke="#d11a42" stroke-width="0.95"/>
<circle cx="445.30" cy="474.20" r="1.35" fill="#f1b3c0" stroke="#d11a42" stroke-width="0.95"/>
<circle cx="441.90" cy="478.00" r="1.35" fill="#f1b3c0" stroke="#d11a42" stroke-width="0.95"/>
<circle cx="447.80" cy="476.30" r="1.35" fill="#f1b3c0" stroke="#d11a42" stroke-width="0.95"/>
<circle cx="454.30" cy="480.60" r="1.35" fill="#f1b3c0" stroke="#d11a42" stroke-width="0.95"/>
<circle cx="456.80" cy="480.00" r="1.35" fill="#f1b3c0" stroke="#d11a42" stroke-width="0.95"/>
<circle cx="459.60" cy="480.40" r="1.35" fill="#f1b3c0" stroke="#d11a42" stroke-width="0.95"/>
<circle cx="461.00" cy="481.30" r="1.35" fill="#f1b3c0" stroke="#d11a42" stroke-width="0.95"/>
<circle cx="455.80" cy="481.60" r="1.35" fill="#f1b3c0" stroke="#d11a42" stroke-width="0.95"/>
<circle cx="478.75" cy="421.10" r="1.35" fill="#f1b3c0" stroke="#d11a42" stroke-width="0.95"/>
<circle cx="478.75" cy="431.30" r="1.35" fill="#f1b3c0" stroke="#d11a42" stroke-width="0.95"/>
<circle cx="478.75" cy="443.70" r="1.35" fill="#f1b3c0" stroke="#d11a42" stroke-width="0.95"/>
<circle cx="478.75" cy="452.20" r="1.35" fill="#f1b3c0" stroke="#d11a42" stroke-width="0.95"/>
<circle cx="478.75" cy="464.40" r="1.35" fill="#f1b3c0" stroke="#d11a42" stroke-width="0.95"/>
<circle cx="488.50" cy="476.30" r="1.35" fill="#f1b3c0" stroke="#d11a42" stroke-width="0.95"/>
<circle cx="493.60" cy="478.30" r="1.35" fill="#f1b3c0" stroke="#d11a42" stroke-width="0.95"/>
<circle cx="490.20" cy="480.50" r="1.35" fill="#f1b3c0" stroke="#d11a42" stroke-width="0.95"/>
<circle cx="494.50" cy="480.50" r="1.35" fill="#f1b3c0" stroke="#d11a42" stroke-width="0.95"/>
<line x1="441.20" y1="454.30" x2="462.60" y2="454.30" stroke="#231f20" stroke-width="0.8" />
<text transform="translate(451.50,450.20) scale(0.862,1)" font-size="7.54" text-anchor="middle" style="stroke-width:0.05px"><tspan font-style="italic">P</tspan>=0.03</text>
<line x1="475.00" y1="417.50" x2="495.30" y2="417.50" stroke="#231f20" stroke-width="0.8" />
<text transform="translate(485.10,413.90) scale(0.862,1)" font-size="7.54" text-anchor="middle" style="stroke-width:0.05px"><tspan font-style="italic">P</tspan>=0.0012</text>
<rect x="0.5" y="0.5" width="519" height="500" fill="none" stroke="#000" stroke-width="1"/>
</svg>
</body></html>
